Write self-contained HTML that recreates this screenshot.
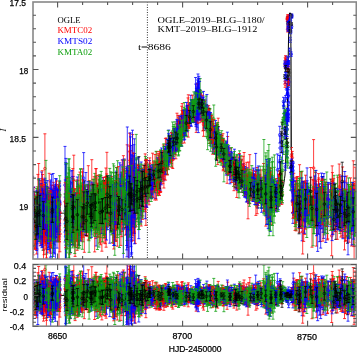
<!DOCTYPE html>
<html><head><meta charset="utf-8"><style>
html,body{margin:0;padding:0;background:#fff;width:357px;height:352px;overflow:hidden;font-family:"Liberation Sans",sans-serif}
svg{display:block;will-change:transform}
</style></head><body><svg width="357" height="352" viewBox="0 0 357 352"><defs><clipPath id="cm"><rect x="33" y="2" width="323.3" height="257"/></clipPath><clipPath id="cr"><rect x="33" y="264.5" width="323.3" height="61.7"/></clipPath><marker id="hK" markerUnits="userSpaceOnUse" overflow="visible"><path d="M-1.5 0h3" stroke="#000000" stroke-width=".8"/></marker><marker id="cK" markerUnits="userSpaceOnUse" overflow="visible"><circle r="1.3" fill="none" stroke="#000000" stroke-width=".7"/></marker><marker id="hR" markerUnits="userSpaceOnUse" overflow="visible"><path d="M-1.5 0h3" stroke="#ff0000" stroke-width=".8"/></marker><marker id="cR" markerUnits="userSpaceOnUse" overflow="visible"><circle r="1.3" fill="none" stroke="#ff0000" stroke-width=".7"/></marker><marker id="hB" markerUnits="userSpaceOnUse" overflow="visible"><path d="M-1.5 0h3" stroke="#0000ff" stroke-width=".8"/></marker><marker id="cB" markerUnits="userSpaceOnUse" overflow="visible"><circle r="1.3" fill="none" stroke="#0000ff" stroke-width=".7"/></marker><marker id="hG" markerUnits="userSpaceOnUse" overflow="visible"><path d="M-1.5 0h3" stroke="#10a010" stroke-width=".8"/></marker><marker id="cG" markerUnits="userSpaceOnUse" overflow="visible"><circle r="1.3" fill="none" stroke="#10a010" stroke-width=".7"/></marker></defs><line x1="147.4" y1="2" x2="147.4" y2="259" stroke="#000" stroke-width=".8" stroke-dasharray="1 1.5"/><path clip-path="url(#cm)" d="M33 214.5L33.5 214.5L34 214.5L34.5 214.4L35 214.4L35.5 214.4L36 214.4L36.5 214.4L37 214.4L37.5 214.3L38 214.3L38.5 214.3L39 214.3L39.5 214.3L40 214.2L40.5 214.2L41 214.2L41.5 214.2L42 214.2L42.5 214.1L43 214.1L43.5 214.1L44 214.1L44.5 214.1L45 214.1L45.5 214L46 214L46.5 214L47 214L47.5 214L48 213.9L48.5 213.9L49 213.9L49.5 213.9L50 213.9L50.5 213.9L51 213.8L51.5 213.8L52 213.8L52.5 213.8L53 213.8L53.5 213.7L54 213.7L54.5 213.7L55 213.7L55.5 213.7L56 213.6L56.5 213.6L57 213.6L57.5 213.6L58 213.6L58.5 213.6L59 213.5L59.5 213.5L60 213.5L60.5 213.4L61 213.4L61.5 213.3L62 213.3L62.5 213.2L63 213.2L63.5 213.2L64 213.1L64.5 213.1L65 213L65.5 212.9L66 212.9L66.5 212.8L67 212.8L67.5 212.8L68 212.7L68.5 212.7L69 212.6L69.5 212.6L70 212.5L70.5 212.4L71 212.4L71.5 212.3L72 212.3L72.5 212.2L73 212.2L73.5 212.2L74 212.1L74.5 212.1L75 212L75.5 211.9L76 211.9L76.5 211.8L77 211.8L77.5 211.8L78 211.7L78.5 211.7L79 211.6L79.5 211.6L80 211.5L80.5 211.4L81 211.4L81.5 211.3L82 211.3L82.5 211.2L83 211.2L83.5 211.2L84 211.1L84.5 211.1L85 211L85.5 210.9L86 210.9L86.5 210.8L87 210.8L87.5 210.8L88 210.7L88.5 210.7L89 210.6L89.5 210.6L90 210.5L90.5 210.4L91 210.3L91.5 210.2L92 210.1L92.5 209.9L93 209.8L93.5 209.7L94 209.6L94.5 209.5L95 209.4L95.5 209.3L96 209.2L96.5 209.1L97 208.9L97.5 208.8L98 208.7L98.5 208.6L99 208.5L99.5 208.4L100 208.3L100.5 208.2L101 208.1L101.5 207.9L102 207.8L102.5 207.7L103 207.6L103.5 207.5L104 207.4L104.5 207.3L105 207.2L105.5 207.1L106 206.9L106.5 206.8L107 206.7L107.5 206.6L108 206.5L108.5 206.3L109 206.1L109.5 205.9L110 205.7L110.5 205.5L111 205.3L111.5 205.1L112 204.9L112.5 204.7L113 204.5L113.5 204.3L114 204.1L114.5 203.9L115 203.8L115.5 203.6L116 203.4L116.5 203.2L117 203L117.5 202.8L118 202.6L118.5 202.4L119 202.2L119.5 202L120 201.8L120.5 201.6L121 201.4L121.5 201.2L122 201L122.5 200.8L123 200.5L123.5 200.3L124 200L124.5 199.8L125 199.5L125.5 199.3L126 199.1L126.5 198.8L127 198.6L127.5 198.3L128 198.1L128.5 197.8L129 197.6L129.5 197.4L130 197.1L130.5 196.9L131 196.6L131.5 196.4L132 196.2L132.5 195.9L133 195.7L133.5 195.4L134 195.2L134.5 194.9L135 194.7L135.5 194.3L136 193.9L136.5 193.5L137 193.2L137.5 192.8L138 192.4L138.5 192L139 191.6L139.5 191.2L140 190.8L140.5 190.5L141 190.1L141.5 189.7L142 189.3L142.5 188.9L143 188.5L143.5 188.2L144 187.8L144.5 187.4L145 187L145.5 186.5L146 186L146.5 185.5L147 184.9L147.5 184.4L148 183.9L148.5 183.4L149 182.9L149.5 182.4L150 181.8L150.5 181.3L151 180.8L151.5 180.3L152 179.8L152.5 179.3L153 178.8L153.5 178.2L154 177.7L154.5 177.2L155 176.7L155.5 175.9L156 175L156.5 174.2L157 173.4L157.5 172.5L158 171.7L158.5 170.9L159 170L159.5 169.2L160 168.3L160.5 167.5L161 166.7L161.5 165.8L162 165L162.5 164.2L163 163.3L163.5 162.5L164 161.7L164.5 160.8L165 160L165.5 159L166 158L166.5 157L167 156L167.5 155L168 154L168.5 153L169 152L169.5 151L170 150L170.5 149L171 148L171.5 147L172 146L172.5 145L173 144L173.5 143.1L174 142.3L174.5 141.4L175 140.6L175.5 139.7L176 138.9L176.5 138L177 137.1L177.5 136.3L178 135.4L178.5 134.6L179 133.7L179.5 132.9L180 132L180.5 131.1L181 130.2L181.5 129.2L182 128.3L182.5 127.4L183 126.5L183.5 125.6L184 124.7L184.5 123.8L185 122.8L185.5 121.9L186 121L186.5 120.1L187 119.2L187.5 118.2L188 117.3L188.5 116.4L189 115.5L189.5 114.6L190 113.7L190.5 112.8L191 111.8L191.5 110.9L192 110L192.5 109.3L193 108.6L193.5 107.9L194 107.2L194.5 106.6L195 105.9L195.5 105.2L196 104.5L196.5 104.3L197 104.2L197.5 104L198 103.8L198.5 103.7L199 103.5L199.5 104.2L200 104.9L200.5 105.6L201 106.2L201.5 106.9L202 107.6L202.5 108.3L203 109L203.5 110.4L204 111.7L204.5 113.1L205 114.4L205.5 115.8L206 117.1L206.5 118.5L207 119.9L207.5 121.2L208 122.6L208.5 123.9L209 125.3L209.5 126.6L210 128L210.5 128.9L211 129.8L211.5 130.7L212 131.6L212.5 132.5L213 133.4L213.5 134.3L214 135.2L214.5 136.1L215 137L215.5 137.9L216 138.8L216.5 139.7L217 140.6L217.5 141.5L218 142.4L218.5 143.3L219 144.2L219.5 145.1L220 146L220.5 146.9L221 147.8L221.5 148.7L222 149.6L222.5 150.5L223 151.4L223.5 152.3L224 153.2L224.5 154.1L225 155L225.5 155.9L226 156.8L226.5 157.7L227 158.6L227.5 159.5L228 160.4L228.5 161.3L229 162.2L229.5 163.1L230 164L230.5 164.5L231 165.1L231.5 165.6L232 166.2L232.5 166.7L233 167.3L233.5 167.8L234 168.4L234.5 168.9L235 169.5L235.5 170L236 170.5L236.5 171.1L237 171.6L237.5 172.2L238 172.7L238.5 173.3L239 173.8L239.5 174.4L240 174.9L240.5 175.5L241 176L241.5 176.6L242 177.1L242.5 177.7L243 178.2L243.5 178.8L244 179.3L244.5 179.9L245 180.4L245.5 181L246 181.6L246.5 182.1L247 182.7L247.5 183.2L248 183.8L248.5 184.3L249 184.9L249.5 185.4L250 186L250.5 186.3L251 186.6L251.5 186.8L252 187.1L252.5 187.4L253 187.7L253.5 187.9L254 188.2L254.5 188.5L255 188.8L255.5 189L256 189.3L256.5 189.6L257 189.9L257.5 190.1L258 190.4L258.5 190.7L259 191L259.5 191.2L260 191.5L260.5 191.8L261 191.9L261.5 192.1L262 192.2L262.5 192.3L263 192.5L263.5 192.6L264 192.7L264.5 192.9L265 193L265.5 193.1L266 193.3L266.5 193.4L267 193.5L267.5 193.7L268 193.8L268.5 193.9L269 194.1L269.5 194.2L270 194.1L270.5 194.1L271 194L271.5 194L272 193.9L272.5 193.8L273 193.8L273.5 193.7L274 193.6L274.5 193.6L275 193.5L275.5 193.5L276 193.4L276.5 193.2L277 192.9L277.5 192.7L278 192.4L278.5 192.2L279 192L279.5 191.7L280 191.5L280.5 191.2L281 191L281.5 190L282 189L282.5 188L283 187L283.5 186L284 182.3L284.5 178.7L285 175L285.5 163.3L286 151.7L286.5 140L287 120L287.5 100L288 70L288.5 40L289 23.1L289.5 13L290 13L290.5 13L291 60L291.5 160L292 185L292.5 200.5L293 201.6L293.5 202.8L294 204L294.5 204.1L295 204.1L295.5 204.2L296 204.2L296.5 204.3L297 204.3L297.5 204.4L298 204.5L298.5 204.5L299 204.6L299.5 204.6L300 204.7L300.5 204.8L301 204.8L301.5 204.9L302 204.9L302.5 205L303 205L303.5 205.1L304 205.2L304.5 205.2L305 205.3L305.5 205.3L306 205.4L306.5 205.4L307 205.5L307.5 205.6L308 205.6L308.5 205.7L309 205.7L309.5 205.8L310 205.8L310.5 205.9L311 206L311.5 206L312 206.1L312.5 206.1L313 206.2L313.5 206.2L314 206.3L314.5 206.4L315 206.4L315.5 206.5L316 206.5L316.5 206.6L317 206.7L317.5 206.7L318 206.8L318.5 206.8L319 206.9L319.5 206.9L320 207L320.5 207L321 207.1L321.5 207.1L322 207.2L322.5 207.2L323 207.2L323.5 207.3L324 207.3L324.5 207.4L325 207.4L325.5 207.4L326 207.5L326.5 207.5L327 207.6L327.5 207.6L328 207.6L328.5 207.7L329 207.7L329.5 207.8L330 207.8L330.5 207.9L331 207.9L331.5 207.9L332 208L332.5 208L333 208.1L333.5 208.1L334 208.1L334.5 208.2L335 208.2L335.5 208.3L336 208.3L336.5 208.3L337 208.4L337.5 208.4L338 208.5L338.5 208.5L339 208.5L339.5 208.6L340 208.6L340.5 208.7L341 208.7L341.5 208.7L342 208.8L342.5 208.8L343 208.9L343.5 208.9L344 208.9L344.5 209L345 209L345.5 209.1L346 209.1L346.5 209.1L347 209.2L347.5 209.2L348 209.3L348.5 209.3L349 209.4L349.5 209.4L350 209.4L350.5 209.5L351 209.5L351.5 209.6L352 209.6L352.5 209.6L353 209.7L353.5 209.7L354 209.8L354.5 209.8L355 209.8L355.5 209.9L356 209.9" fill="none" stroke="#000" stroke-width="1"/><g clip-path="url(#cm)" fill="none" stroke-width=".75"><path stroke="#ff0000" d="M320.7 202.5v39m16.1-41.2v25.4m-296.4-45.1v55.8m25.5-32.5v43.7m212.8-73.6v21.1m-231.2 1v45.4m122.7-104.5v16m-42.7 18.7v42.2m167.5-32.5v49m42.8-53.2v46.5m-214.6-34.5v38.7m66.4-118.7v17.3m-27.9 37.5v10.6m68.1-16.5v14m-69.1-4.4v23.8m-115.6 13.4v29.5m171.4-98v21.4m-156.9 39.3v44.8m163.3-94.3v18.2m130.9 36.1v44.7m-71.7-75v22.4m-209.5-15.4v45.7m57.6-54v34.4m-8.4-23.8v27.5m16.9-30.2v36.5m87.2-69.2v26m-170.1 36.6v21.2m231.8-201.9v4.6m-154.7 154.5v48.8m-54.3-41.7v35.9m266.1-48.4v46.6m-268.5-34.7v33.4m278.4-41.2v38.3m-113.6-61.9v19.7m-84.2-29.7v21.5m-35.5-.7v44.7m178.3-52.4v42.3m-79.2-70.3v20.4m-66.5 11.6v18.7m113.7-8.5v19.7m2.7-11.8v17.2m-82.1-91.6v24.7m-31.8 25.5v24.4m-13.7-5.1v37.5m2.5-65.5v36m14.3-22v24.8m-104.1 9.2v35.7m103.5-63.1v20.6m-11.2-34.6v23.8m196.8 27.4v38.2m-126.5-111.7v13.6m-68.7 22.5v20.5m107.8-27.3v23.4m-26.2-42.9v22.8m100.8 45.2v39.7m-3.3-71.2v31.8m-208.2-32v34.8m-22.9-29.4v39.1m-23-39.5v53.9m222.8-59.1v28m-137.6-49.6v32.9m-61.5-8.2v31.6m-27.6-18.9v44.6m59.2-111.3v81.3m138.1-25.4v16.7m-225-2.2v31.1m73.6-43.5v36.6m154.9-29.8v26.8m-125.3-36v36.6m202.6-22.5v30.2m-79.2-54.1v23.6m78.9-13.3v38.6m-237.5-35.7v36.5m18.7-82.7v59.8m210.3-31v39.9m-.5-50.7v46m-224.9-15.1v27.9m67.8-112.3v19.2m-122.2 64.9v35.3m34.2-53.2v46m173.9-34.9v23.9m-49.8-93.5v23.5m58.1 36.8v19.4m-13.4-12.1v19m17.5-31v17.9m-237.8-17.2v45.2m90-85.1v71.3m57.7-103.3v9.2m-60.8 48.5v44.4m148-21.1v20.8m-136.3-20.3v41.9m89.2-71.7v25.3m-142.1-13.9v39.6m152.6-40.9v20.5m-2-20.1v15.1m-116.7-19.9v71.6m-84-22.9v33.2m191.6-84.3v14.6m-109.1 10.3v40.3m227.6-38.3v46m-149.5-128.6v17.4m-3.9-16.8v14.6m-108 74.9v44.3m161.7-58.5v17.2m83.8-13.5v43.8m-16.4-45.1v45.2m38.6-24.8v35.1m-123.7-76.5v17.5m-164.2 15.5v37.3m149.8-106.3v26.7m-107 28.1v35.4m158-33.4v22.3m-232.4 7.7v37.9m128.5-91.6v22.8m192.4 17.1v30.2m-260.1-13.3v25.3m92.7-127v16.4m123.4 68.6v50.8m-89.1-113.5v17.9m-25.1-56v15.2m59.3 79.1v17.3m-138.2-24.8v37.3m38.1-55.7v15.8m-34.9-4.9v47.1m-79.8-18.7v26.1m39.9-43.4v48.8m105.8-129.3v21.4m32.6 7.6v27.2m-116.3 38.7v33.3m9.5-44.2v59.5m-47.9-68v39.6m70.4-56.4v39.9m45.4-97.9v22.4m-50.9 22.1v54.2m196.7-9.6v44.6m-272.5-53.6v49.1m157.6-103.9v22.7m-81.3 6.3v38m105.7-29.9v16.3m-139.5-1.7v35.6m-54-39.3v60.3m289.6-34.4v28.5m-24.4-37.6v28.6m-12.5-46.9v52.9m-30.4-34.5v29.7m27.7-41.3v30.1m-159.5-49.6v36.9m136.7-17.8v16.3m-108.2-39.3v17.3m63-24.3v17.3m-68.5-6.6v18.8m-114.1 5.3v31.3m288.5-28.7v37.7m-45.4-169.3v7.6m-35.7 107.4v17m-89.7-21.3v21.6m-75.8 8.4v27m60.4-53.1v27.3m-19.8-19.4v52.4m5.7-63.2v39.4m-81.5-5.7v45.3m179.1-94.4v12.9m-98.3-1.7v50.3m-30.9-34.7v59.7m36.6-61.7v45.4m-11.7-55.5v41.2m40.2-63.9v20.4m-86.1 24v33.6m20.4-51.5v37.6m154-38.1v21.1m54.8-8.6v34.9m-42.1-45.7v17.2m-116.5-14.7v26.1m143.6-12.8v20.5m-140.1-59.3v33.1m27.6-66.9v21.7m39.7-5.1v20.4m28.8 5.6v30.1m-95.8-20.8v18.7m161.1 14.3v23.5m-93.9-91.9v17.3m-124.5 41.8v31.6m36-40.7v55.3m126.8-60.7v22.2m-105.8-29.9v15.7m-39.2-3.8v38m203-17v40.4m1.3-48.4v35.7m-61.7-57.9v20.7m-106.6-26.1v17.7m-109.9 7.1v42.3m222-52.2v18m-30.1-46.4v25.9m-81.7-15.8v17.8m113.9-21v28.2m64.1 13.8v33.4m-152.6-107.6v23.1m135.6 13.1v48m-167.9-32.4v22.2m97.1-48.9v23m22.2 3.6v21.5m92.1-15.5v26.3m1-33.7v40.8m-303.7-37.3v63.1m32.8-47.5v51.6m189.7-61.5v15m-61-75.9v18.8m-16.8-42.7v26.4m155 55.6v27.7m-155-114.2v20m-18.6 10.9v16.2m-91.2 42.6v29m-5.4-13.3v21.7m-31.2-32.1v37.3m22.9-57.3v61.6m-35.6-33.9v21.6m268.3-44.9v26.9m-122.6-96.6v21.9m1.5-9.7v19.6m-130.2 44.8v38m38.6-41.4v30.5m261.3-16.5v31.2m-185.5-76.4v15.9m.3-19.8v17.5m-38.6 9.5v46.9m-1.5-51.2v49.8m-21-43.5v36.9m55.7-70.3v18m-13.1 9.2v25.2m-30-12.3v41.9m155.6-37v21m-9.6-19.2v22.2m-115.2-37.9v20.1m-55.8-.1v28.2m115.1-110.8v23.3m-151.2 66.6v38.2m140.3-151.7v18.7m-28.3 27.2v21.1m97.7 26.7v15.6m-118.2-27.3v26m70.4-58.3v14.9m-176.2-20.6v69.6m220.8-33.7v24.1m59-2.7v26.8m21.9-41.9v48.2m-207.1-54.1v28.8m201.1-22.2v53.7m-25.1-58v33.7m-271.4 4v44.6m10.1-64.9v26.5m215.3-31.1v18.4m-116.1-35.1v19.6m127.1-8.4v11.8m-9.8-23v25.9m-85.7-84v13.9m-77.6 63.9v30.2m-34.6-17.4v38.9m174.6-65.3v21.3m31.3-20v30.7m-210.8-13.4v51.4m39-92.3v48.2m115.5-57.7v14.5m-87.1 37.1v49m215.2-65.5v32.1m-272.5-29.4v40.3m106.1-103.7v12.7m-111.3 38.7v47.1m160.9-56.4v22.6m15.1-2.4v17.1m16.4-23.6v23.7m-129.4-16.5v29.3m122.2-29.3v25.3m-171.6-8.6v28.6m30.1-58v62m-48.2-39.7v47m174.8-80.5v18.3m-171.1 16.9v52.9m29.2-44.3v33.1m148.6-78.6v37.4m-102.9-10.3v20.5m-76.5-19.2v50m128.2-133.1v11.6m-111 75.5v33.9m176.4-35.8v21.1m-97.8-68.2v23.6m34.5-58.2v11.2m-27.9 24.5v29.4m176.3 39.2v34.5m-248.6-30.1v32.7m257.3-55.3v22.9m-274.1-24.9v30.4m103-107.3v15.9" marker-start="url(#hR)" marker-mid="url(#hR)" marker-end="url(#hR)"/><path d="M320.7 222m16.1-9m-296.4-4.5m25.5 17.2m212.8-41.2m-231.2 34.3m122.7-73.8m-42.7 47.8m167.5 13.1m42.8-5.5m-214.6 8.1m66.4-90.7m-27.9 51.5m68.1-4.2m-69.1 14.5m-115.6 40.1m171.4-72.6m-156.9 72.4m163.3-62.8m130.9 67.6m-71.7-41.5m-209.5 18.7m57.6-14m-8.4 7.1m16.9 1.8m87.2-37.9m-170.1 60.2m231.8-189m-154.7 181.2m-54.3 .6m266.1-7.1m-268.5 5.3m278.4-5.4m-113.6-32.8m-84.2-9.1m-35.5 32.3m178.3-8.8m-79.2-39.1m-66.5 31.2m113.7 10.8m2.7 6.6m-82.1-70.6m-31.8 50m-13.7 25.8m2.5-28.7m14.3 8.4m-104.1 39.4m103.5-34.9m-11.2-12.4m196.8 58.4m-126.5-85.8m-68.7 39.6m107.8-5.4m-26.2-19.8m100.8 76.4m-3.3-35.4m-208.2 1.3m-22.9 7.5m-23 7m222.8-18.1m-137.6-19.1m-61.5 24m-27.6 19.2m59.2-48.4m138.1 23.6m-225 21.7m73.6-9.7m154.9 2m-125.3-4.3m202.6 10.9m-79.2-27.2m78.9 17.8m-237.5 1.9m18.7-34.6m210.3 18.8m-.5-7.7m-224.9 21.8m67.8-88.8m-122.2 92.2m34.2-12.5m173.9 0m-49.8-69.8m58.1 58.3m-13.4 7.1m17.5-12.5m-237.8 14.3m90-26.9m57.7-63m-60.8 75.3m148 11.5m-136.3 11.1m89.2-38.1m-142.1 18.5m152.6-10.9m-2-2.2m-116.7 23.4m-84 29.5m191.6-60.4m-109.1 37.8m227.6 4.8m-149.5-96.9m-3.9-.8m-108 104.4m161.7-27.9m83.8 17.2m-16.4-.7m38.6 15.3m-123.7-50.1m-164.2 42.8m149.8-74.2m-107 59m158-4.5m-232.4 37.8m128.5-61.2m192.4 43.6m-260.1 14.5m92.7-106.3m123.4 102.3m-89.1-79.2m-25.1-39.4m59.3 95.3m-138.2 2.5m38.1-29.1m-34.9 26.6m-79.8 17.9m39.9-6m105.8-94.2m32.6 31.9m-116.3 69m9.5 2.2m-47.9-18.5m70.4-16.6m45.4-66.8m-50.9 60.4m196.7 39.8m-272.5-6.7m157.6-68.1m-81.3 36.7m105.7-2.8m-139.5 24.3m-54 8.7m289.6 9.9m-24.4-9m-12.5-6.2m-30.4 6.9m27.7-11.4m-159.5-16.2m136.7 8.8m-108.2-22.5m63-7m-68.5 11.5m-114.1 30.4m288.5 5.8m-45.4-146.7m-35.7 119.7m-89.7-2m-75.8 32.7m60.4-25.9m-19.8 20.4m5.7-17.3m-81.5 36.7m179.1-65.4m-98.3 30m-30.9 20.3m36.6-9.2m-11.7-12.2m40.2-33.1m-86.1 51m20.4-15.9m154-8.8m54.8 19.5m-42.1-19.7m-116.5 7m143.6 10.5m-140.1-32.5m27.6-39.5m39.7 15.9m28.8 30.9m-95.8 3.5m161.1 35.5m-93.9-71.6m-124.5 66.3m36 2.8m126.8-22m-105.8-11m-39.2 23.1m203 22.2m1.3-10.4m-61.7-29.7m-106.6-6.8m-109.9 37.1m222-22.1m-30.1-24.5m-81.7 6.1m113.9 2m64.1 44.6m-152.6-79.3m135.6 48.6m-167.9 2.8m97.1-26.4m22.2 25.9m92.1 8.3m1-.1m-303.7 14.6m32.8 9.9m189.7-28.2m-61-59m-16.8-20.1m155 82.6m-155-90.3m-18.6 29m-91.2 65.2m-5.4 12.1m-31.2-2.6m22.9-8m-35.6 7.8m268.3-20.6m-122.6-72.3m1.5 11.1m-130.2 73.6m38.6-7.1m261.3 14.3m-185.5-52.8m.3-3.1m-38.6 41.6m-1.5-2.8m-21-.2m55.7-42.8m-13.1 30.8m-30 21.3m155.6-5.6m-9.6 2.4m-115.2-16.8m-55.8 24.1m115.1-85.1m-151.2 97.4m140.3-123.3m-28.3 47.2m97.7 45m-118.2-6.5m70.4-37.8m-176.2 21.6m220.8 13.2m59 22.7m21.9-4.4m-207.1-15.6m201.1 19.1m-25.1-14.3m-271.4 43.1m10.1-29.4m215.3-8.6m-116.1-16.1m127.1 7.3m-9.8-4.2m-85.7-64m-77.6 85.9m-34.6 17.1m174.6-35.2m31.3 6.1m-210.8 27.6m39-42.5m115.5-26.4m-87.1 68.9m215.2-24.9m-272.5 6.7m106.1-77.2m-111.3 68.7m160.9-21.6m15.1 17.5m16.4-3.3m-129.4 10.1m122.2-2m-171.6 18.3m30.1-12.7m-48.2 14.8m174.8-47.8m-171.1 52.5m29.2-1.4m148.6-43.3m-102.9 18.7m-76.5 16m128.2-102.3m-111 98.3m176.4-8.3m-97.8-45.9m34.5-40.8m-27.9 44.8m176.3 71.1m-248.6 3.6m257.3-27.5m-274.1 1.7m103-84.1" marker-start="url(#cR)" marker-mid="url(#cR)" marker-end="url(#cR)"/><path stroke="#0000ff" d="M278.3 181v28.7m-74.4-108.9v17.1m82.6-55.9v6.7m-152.2 103.8v51.5m-50.8-29.8v36.9m-36-28.1v30.7m-9.2-42.3v42.7m254.7-70.8v14.2m-156.6-19.3v29.2m-81.1-3.2v40.2m155.7-99.7v19m68.8-17.4v16.7m-81.8-69v34.8m-160.9 98.8v25.5m298.9-27.9v24m-204.5-42.5v69.6m-49.4-50.5v20.2m225.5-34.1v27.7m-249.4-28.5v46m73.4-63.5v33.9m117-25.5v21.3m31.5-19v15.9m-81.5-118.9v32.6m-12.3-3.5v14.7m1.2-14v14.6m121.7 76.9v24.5m-163.1-61.4v24.5m79-39.6v14.8m-85.5 12v28.5m-8.7-47.2v75.7m189.5-45.2v28.5m-273.7-24.2v28.6m-13.3-34.6v33.3m26.2-36.9v34.4m264.4-33.7v48m-36.5-116.1v8.8m-1-41.7v11.4m-89.4 .5v10.8m123.7 84.1v34.9m-193.2-47.1v69.4m129.4-77v21m-75.8-65.9v16.1m122.1 39.5v32.5m-173.6-29v89.3m98.1-124.8v17m-174.8 36.8v33.3m93.2-60.5v21.2m144.5-171.9v6m-80.1 89.8v17.3m-1.9-22.3v19.9m105.2 63.9v24.8m-259.9-31.8v29.6m67.2-46.6v36.8m13.2-73.8v70.8m183.7-16.8v24.3m-119.8-119.2v34.7m-39.7 33.3v15.1m123.9-40.3v22.9m-154.5 18.3v55.2m62.8-125.8v14.4m-59.1 60.8v66.3m-2.6-72.1v33m84.7-81.4v17.4m-174.8 30.4v58.5m30.4-46.3v26m61.6-31.1v20.8m1.4-22.7v27.3m168.9-19v34.9m-159.1-41.9v25.3m-39.2-21.8v26.4m100.5-119.3v25.3m-153.1 77.9v33.5m255.7-44.5v25.1m-16-188.1v4.4m-245.6 167.8v39.1m202.6-70v33.9m-113.2-56.9v75.1m-102.7-24.1v43.9m77.4-62v34.7m182.8-50.3v12m10.7 12v54.8m-46.1-59.6v10.2m-191-45v77.4m34.7-47.1v42.6m39.5-47.2v29.4m52.8-101.3v14.7m-30 40.5v14.5m-105.1 20.1v31.1m-9.9-11.9v34.3m226.1-62.7v17.6m-140.2-23.6v45.7m-8.8-61.6v57.6m-72.5-42.1v32.5m16.3-20.1v38.7m80.9-56.6v32.4m-39 1.2v40.7m64.1-112.9v19.1m-137.9 54.5v24.4m60.1-18.4v36.1m212.3-59.1v26.4m-43.6-27.4v15.7m-161.9-24v26.7m141.6-37.5v24.1m-194.3-9.1v39.2m78-55.4v55.1m-28.7-31.3v30.4m98.1-139.8v23.4m-132.5 93.7v44.9m56-68.1v45.7m-76.7-23.5v45.3m299.7-40.7v28.8m-148-132.7v27.7m-140.2 78.4v39m10.4-63.8v49.1m117.6-106.8v14.8m-146.7 79v29.6m159.7-146.7v32.9m-23.8 4.6v16.3m-132.1 51v34.3m5.3-42.3v32.3m33.9-31.5v23.6m19.5-32.1v33m-65.3-27.8v43m42.5-41.2v33.8m-44.6-12.1v28.4m145-116.7v22.3m-132.5 52.4v26.3m8.9-27.1v25.7m141.1-122.1v14.4m-153.4 79.9v33.5m130.2-99.5v25.9m-39.1-28.1v86.6m22.2-52.6v28.6m-115.4 10.5v26.2m157.3-138.1v25.6m-109.3 78.4v30.4m236.3-36.4v49m-34.9-125.1v6.8m-83.6-9.6v15m-49.3 45.4v13m-99.6 5v31.2m-6.9-23.6v29.8m85.1-41.2v37.8m58.3-115.6v9.3m20.5 14.8v20.7m-60.9 18.1v12.2m-17.9-19.1v70.1m127.2-46v24.9m-219.9-40.3v41m31.6-10v38.7m124.1-158.8v32.5m144.2 67.4v27m-189.4-40.6v13m139.6-167.5v3.4m-226.2 176.2v83.9m.2-84.7v73.4m290.4-67.7v34.9m-319.7-28.8v28.5m145.3-110.7v16.6m-125.3 39.2v34.7m180.9-39.6v16.5m-177.7-4.8v37.9m274.2-38.4v35.9m-180.7-49v25.8m127.3-20v26.1m11.5-33.2v8.7m-188 7.7v38.8m90.5-119.1v15.7m61.2 30.8v34.6m-9.9-9.4v19.2m-119.1-31.1v67.6m29.1-60.7v24.9m-24.7-53.1v73.1m68.8-128.8v21.7m91.7-86.3v3.1m-163.8 159.2v34.1m-14.2-27.3v51.2m91.7-135.6v9.1m-145.8 71.7v40.6m152-107.5v20.2m95.7 36.9v37.7m13.3-31.8v29.7m-169.1-40.4v22.2m116.3-33.9v43.3m-224.6-14.6v44.7m-7.8-40.1v32.2m92-58.8v60.1m97.4-84.8v18m-172.2 25.8v39.3m292.3-34.7v32.4m-296-36.2v45.3m-3.6-26.4v25.1m152.6-151.5v23.8m-147.1 72.8v44.8m21.7-40.8v35m118.4-123.7v18.7m-149 89.4v29.1m84.6-49.9v24.9m77.5-104.1v17.8m86.2-92v4.2m2.8 169.3v20.7m-88.4-118.1v13.3m-59.2 62.1v38m-106.2-22.2v31.2m120.9-60.5v14.9m84.5-12.3v23.5m52.3 5.5v18.1m-38.2-36.5v19.2m-213.3-1.3v37.3m76.7-48.2v23.6m-23.3-13.9v33.1m78.3-99.5v11.1m-106.9 65.9v34.2m65.6-75v35.5m154.6-165.1v5.1m-210.4 155.8v24m-14-57.6v97.6m91.1-97.1v13.8m41.4-100v30.7m-142.3 75v46.7m246.8-45.5v24.6m-257.1-12.1v46.9m195.4-79.2v16m-204.2 23.3v43.7m255.1-80.8v11.3m-38.4-6v17.8m35-95.7v14.7m46.5 100v21.1m-303.5-22.3v39.8m40.6-66.4v54.6m170-65.9v15.1m-199.6 15v39.5m137.2-115.9v15.1m-51.7 34.8v43.9m-74.1-16.6v28.2m208.8-41.7v15.8m25.6-89.5v6.9m5.2 66.3v27.3m-24.8-42.4v55.8m-115.1-58v12.4m-112.5 9.8v38.1m247.1-170.4v6m-138.3 112.1v9.7m-8.7-14.3v30.3m-5.2-28.4v31.9m25.5-55.3v22.6m128.9-123.4v4.5m66.7 153.1v31.2m-315.3-32.3v36.1m228.1-61.8v25.1m56.5-15.6v22.8m-57.2-54.9v52.9m-134.9-30.7v19.7m91.1-58.1v19.7m-38.9-57.5v14.5m-59.7 66.5v69.7m-26.3-74.4v36.9m221.2-42.7v30.9m0-14.2v35.4m-44.5-74.7v31.9m-139-28.3v38.7m185.5-22.7v41.8m-93.9-54.5v22.9m-45.5-62.9v14.6m-139.3 65.4v31.2m206.2-52.3v16.9m69.4-10.2v33.3m-194.2-51.5v56.1m73.7-120.9v16.9m-22.4 1.3v19.8m-31.8 22.2v43.1m-113.7-2.6v48.3m175.9-129.9v17.5m56.1 52.7v18.9m56.3-4.2v40.6m-189.8-44.2v42.8m-71.3-60v31.5m90-57.6v26.2m24.2-58.4v19.6m-136.8 42.1v42.4m-1.3-32.3v31.2m49.4-33.9v37.4m225.9-36.9v22.4m-112.7-132.4v28.2m119.4 80.1v55.1m-29-232.6v3.9m-72.2 109v11.4m-53 13.1v13.6m69.3-11.8v13.9m43.5 9.1v31m-8.3-39.5v28.8m-218.5-6.2v25.7m208.4-36.8v17.2m-85.2-68.2v18.9m-80.8 41v34m-18.7-47.2v41.3m-1-50.4v51.4m62.3-68.5v74.1m34.3-97.5v23.5m119.9-63.9v12.3m43.6 100.7v20.7" marker-start="url(#hB)" marker-mid="url(#hB)" marker-end="url(#hB)"/><path d="M278.3 195.4m-74.4-86m82.6-44.1m-152.2 133m-50.8 14.3m-36 5.8m-9.2-5.6m254.7-42.4m-156.6 2.4m-81.1 31.5m155.7-70.1m68.8 .5m-81.8-43.3m-160.9 129m298.9-3.2m-204.5 4.3m-49.4-5.6m225.5-10.1m-249.4 8.3m73.4-23.6m117 2.2m31.5-.4m-81.5-94.7m-12.3 20.1m1.2 .7m121.7 96.5m-163.1-36.9m79-20m-85.5 33.7m-8.7 4.9m189.5 6.9m-273.7 4.3m-13.3-3.7m26.2-3m264.4 7.5m-36.5-87.7m-1-31.6m-89.4 11.6m123.7 106.9m-193.2 5.1m129.4-31.8m-75.8-47.4m122.1 63.8m-173.6 32m98.1-71.7m-174.8 62m93.2-33.3m144.5-158.3m-80.1 101.4m-1.9-3.7m105.2 86.3m-259.9-4.7m67.2-13.3m13.2-20m183.7 30.7m-119.8-89.7m-39.7 58.2m123.9-21.2m-154.5 57.3m62.8-91m-59.1 101.2m-2.6-22.5m84.7-56.2m-174.8 68.3m30.4-4m61.6-7.7m1.4 1.3m168.9 12.1m-159.1-11.7m-39.2 4.1m100.5-93.5m-153.1 107.2m255.7-15.2m-16-173.3m-245.6 189.6m202.6-33.5m-113.2-2.4m-102.7 35.4m77.4-22.8m182.8-26.9m10.7 45.4m-46.1-27.1m-191-1.2m34.7 12.9m39.5-11.2m52.8-79.2m-30 55.1m-105.1 42.8m-9.9 20.8m226.1-36.7m-140.2 8.1m-8.8-10m-72.5 2.9m16.3 15.6m80.9-21.1m-39 37.8m64.1-83.1m-137.9 76.3m60.1 11.9m212.3-27.9m-43.6-6.4m-161.9-2.7m141.6-12.2m-194.3 22.6m78-8.3m-28.7 11.5m98.1-112.9m-132.5 127.9m56-22.9m-76.7 22.1m299.7-3.7m-148-104.5m-140.2 111.8m10.4-19.7m117.6-74.9m-146.7 101.3m159.7-115.5m-23.8 29.2m-132.1 76.3m5.3-9.1m33.9-3.5m19.5-3.8m-65.3 10.2m42.5-2.8m-44.6 19m145-91.4m-132.5 76.7m8.9-1.1m141.1-102.1m-153.4 103.9m130.2-69.7m-39.1 28.1m22.2 5m-115.4 37.9m157.3-112.2m-109.3 106.4m236.3 3.3m-34.9-97.1m-83.6 1.2m-49.3 59.4m-99.6 27.1m-6.9 6.9m85.1-7.4m58.3-92.1m20.5 29.8m-60.9 34.6m-17.9 22.1m127.2 1.4m-219.9-7.3m31.6 29.8m124.1-123.1m144.2 97.1m-189.4-20.6m139.6-159.4m-226.2 220m.2-6.1m290.4-13.6m-319.7 3m145.3-88.1m-125.3 64.7m180.9-14m-177.7 22.5m274.2-1.5m-180.7-18.2m127.3 6m11.5-15.9m-188 31.5m90.5-91.8m61.2 55.9m-9.9 17.5m-119.1 12.3m29.1-14.4m-24.7-4.1m68.8-81.4m91.7-74m-163.8 177.9m-14.2 15.3m91.7-105.4m-145.8 96.5m152-77.1m95.7 65.9m13.3 1.8m-169.1-14.4m116.3-1.2m-224.6 29.5m-7.8-1.7m92-12.6m97.4-45.8m-172.2 54.4m292.3 1.2m-296 2.7m-3.6 8.7m152.6-127m-147.1 107m21.7-.8m118.4-96.8m-149 113.2m84.6-22.9m77.5-82.7m86.2-81m2.8 181.7m-88.4-101.1m-59.2 87.8m-106.2 12.4m120.9-37.5m84.5 6.9m52.3 26.4m-38.2-17.9m-213.3 26.9m76.7-17.7m-23.3 14.4m78.3-77.4m-106.9 88.6m65.6-40.2m154.6-144.7m-210.4 170.3m-14 3.2m91.1-41.4m41.4-77.8m-142.3 113.7m246.8-9.8m-257.1 23.7m195.4-47.8m-204.2 53.1m255.1-53.2m-38.4 8.5m35-79.4m46.5 117.8m-303.5 8.2m40.6-19.2m170-31.1m-199.6 42.4m137.2-88.6m-51.7 64.2m-74.1 19.5m208.8-19.7m25.6-78.2m5.2 83.5m-24.8-.9m-115.1-23.9m-112.5 35.1m247.1-148.4m-138.3 120m-8.7 5.7m-5.2 2.7m25.5-28.1m128.9-109.9m66.7 171m-315.3 1.3m228.1-31.1m56.5 8.3m-57.2-17.1m-134.9 5.7m91.1-38.4m-38.9-40.5m-59.7 108.7m-26.3-21.2m221.2-8.8m0 19m-44.5-41.1m-139 7.1m185.5 17.5m-93.9-22.2m-45.5-44.1m-139.3 88.3m206.2-28.3m69.4 15m-194.2-6.9m73.7-84.4m-22.4 19.7m-31.8 53.6m-113.7 43.1m175.9-97m56.1 71m56.3 25.5m-189.8-2.5m-71.3-22.9m90-28.7m24.2-35.4m-136.8 73m-1.3 4.5m49.4 .4m225.9-7m-112.7-107.1m119.4 121.7m-29-203m-72.2 116.6m-53 25.6m69.3 2m43.5 31.5m-8.3-9.6m-218.5 21m208.4-15.3m-85.2-50.1m-80.8 67.4m-18.7-9.5m-1-4.1m62.3-5.8m34.3-48.7m119.9-46m43.6 117.2" marker-start="url(#cB)" marker-mid="url(#cB)" marker-end="url(#cB)"/><path stroke="#10a010" d="M110.1 186.5v35.5m94.7-115.5v19m2.9-13.1v17.4m-44.3 25v19.2m130.7 15.2v23.6m-142.8-40.4v19.6m-18.1-8.7v35.3m9.8-40.4v29.1m24-55.8v22.5m-75.4 15.2v25.1m78.7-77.6v18.4m1.6-13.7v14.7m-137.1 44.6v35.2m235.7-62.1v38.9m-129.7-29.6v41m-47.4-32.7v29m173.6-29.4v13.9m-183.9-13.9v50.8m73.5-77.7v13.4m-24.9-18.5v47m-21.1-27.2v39.9m-42.5-45.7v55.7m234-33.9v30.6m-236-22.1v21.1m205.5-39.8v20.1m-75.7-110.6v13.6m112 91.6v28.5m-157-48.2v9.5m-76.2 5.2v21.2m165.1-53.9v27.6m17.9-6.4v13.8m-161.9 5.9v26m125.3-82.3v19m36.2 15.7v20.2m-142-20.4v42.7m201.3-26.2v25.7m-212.4-42.8v27.8m-38.6-45v77.4m211.4-54.7v20.1m-27.8-32.7v14.2m60.2 .4v25.9m-64.6-44.6v17.7m29.6-7.1v18.4m-186.8-13.4v30.2m169.4-32v21.5m46-7.8v23.3m22-40.4v29.1m-278.7-1.7v47.4m207.4-70.5v13.7m-141.2-4.2v49.3m15.3-54.8v52.9m-49.1-32.6v27.6m74.7-69.7v22.1m-80.2 4v52.5m184.2-75v20m-81.2-60.5v15.2m-47.4 40.9v26.9m144-25.7v22.6m-114.4-53.7v22.9m-48.9 15.5v29.8m172.9-36.6v16.2m-113.8-66.9v16m65.4 7.1v12.9m-50.6-49.9v11.1m-82.5 42.3v43.2m123.6-75.7v16.8m75 30.2v22.7m-229.9-12.6v37.7m-34.1-39.2v45.5m82.7-69.4v22.9m159.7-15v16.7m-95.1-77.7v9.3m-100.8 45v51m78.2-75.1v21.9m42.4-71.6v11.6m-133.3 56v63.7m113.5-107.2v9.9m39.7 9.3v10.1m28.5 22.8v19.4m-47.4-90.6v23.4m-133.5 46.9v50.9m31.1-56.9v44.4m94.3-112.9v14.6m70.7 61.4v19.6m-150.9-.7v31.3m1.2-38.8v33.1m32.2-59.3v32.5m28.8-69.4v23.2m-40.3 23.8v28.5m33.8-63.2v21.5m-61.6 26.9v27.7m154.8-46.2v45.6m-197.5-31v57.7m194.3-57.2v18.7m-192.2 10.9v43.7m248.6-72.8v27.6m-111.6-107.3v19.3m-127.3 59.5v35.3m169.2-39.3v20.8m-166.8-5.5v27.4m129.8-101v11.6m146.6 65.5v23.7m-201.2-71.3v22.8m129.4-64.7v7.4m-75.7-8.3v25.9m-48.7 26.5v16.2m-24.2 .7v29m121.8-20.7v17.2m-170.6-9.2v25.6m68.5-49.6v11.3m154.3 13.7v24m-99.1-100.1v23.3m-114.5 45.1v37.5m35.7-35.1v27.9m212.7-13v33.2m-58.8-90.7v7.2m9.1 43.3v32.2m-190.3-38.2v29.3m121.3-66.1v11.6m7.7-9.3v16.1m-110.1 13.9v23.2m10.7-13.2v29.9m-49.5-33.4v33.1m92.9-109v22.8m39.1-14.4v20.3m89 48.7v26.8m-9-38.6v30.3m-186.5-41v62.2m131.1-67.4v17.4m36.8 .3v20.1m-200.9 6.5v32.7m-7.8-49.2v28.1m215.7-81.5v9.6m-194.9 46.7v17.3m119.5-89v16.7m49.4 23v26.1m9.2-7.2v12.4m65.9-10v41m-102.7-71.7v15.7m41.8 11.7v15.3m-147.3-2.5v43.5m-6.1-63.7v29.7m159.6-15.8v12.2m-198.3 9.2v37.2m87.2-104.1v10.1m10.2-31.2v10.5m80.9 50.9v14.2m-85.2-70.3v12.1m91.8 38.2v44.1m70.3-33.5v28m-164-83.4v13.8m-42.6 18v51.6m188.5-34.5v34.7m-105.9-93.2v19.5m59.1 36.7v15.9m45.4-2v20.9m-190.8-23.1v21.1m-24.8-33v27.3m133-43.4v13.3m-143.5 17.7v38m-16.9-33.7v44.6m190.9-92.3v62.9m-173-28.6v24.5m67.5-46.8v11.4m-65.6 20.7v21.7m157-53v24.2m-81.2-43.9v16.1m-43.9 22.8v25.1m49.8-81.6v19.2m-52.5 29v34m-25.1-13.6v29.1m238.7-50.8v32.2m-246.5-16.3v40.8m44.4-43.9v37.3m151.5-72.5v9m-27.5 23v15.5m-125.1-12v20.4m38.4-71.9v16.8m109.4 33.9v15.2m-133.6-36.5v19.3m-65.3 15.5v20.1m24.2-34.5v40.6m68.2-89.5v17.3m80.8 28.3v22.7m-123.1-29.7v25.4m-81-4.5v41.1m7.3-62.6v40.1m227.7-61.8v8.5m28.1 36.7v22.2m-220.9-34.1v25.7m62-48.3v25.5m14.9-49.4v15.9m90.3 30v16.8m-228.1 9.2v36m153.7-137.6v12.2m-149.4 74.9v40.7m277.7-42.4v30.5m-7.1-27.4v22.3m-240.2-24.1v30.1m222.1-47.9v10.2m52.3 4.1v29.3m-127.7-94.6v18.8m-83.6 37.9v27.2m80.9-85.6v20.5m49.3 40v20.5m59.9-28.2v43.8m-108.4-100.3v19.2m-4.2-22.4v23.1m-79.8 31.5v45.7m122.8-48.3v22.7m-146.8 5.3v27.5m162-39.3v13.8m-134.5-21v28.2m103.9-42.2v16m-12.2-35.6v15.6m1.8-18v19.7m67.3 27.2v22.4m-219.3-10.3v27.3m164.2-66.3v27.3m-95.5-16v39.2m-55.2-11.9v23.7m236.6-28v26m-13.6-24.5v26.3m-217.1-35.1v24.1m14.7-38.5v34.7m2.4-12.2v32.2m-14-43.2v27.1m155.3-42v16.7m-156.8 6.1v21.6m114.7-109.9v20.9m45.6 52.8v15.4m-204.6 7.1v34.5m244.2-42v28.7m44.9-25.9v32.9m-201.2-50.1v39.4m106-40.4v11.1m-24.9-50.8v19.5m-69.9 9.1v14.1m25-54v13.9m-78.8 53.3v23m36.3-37.2v23.7m21.1-42.7v15.5m85.3-17.5v24.6m-128.2-5.9v30.7m46.3-48.3v18.3m3.9-21v17.4m-66.1-5.8v38.7m93.1-93.1v11.4m163.4 51.9v39.3m-213.9-37.7v29.2m141.6-35.1v13.8m-198.2 12.2v21.9m259.1-23.2v28.4m-159.8-104.5v19.7m-40.7 19.4v25.6m-66.1 5.4v36.5m184.3-45.6v20.3m-154.1-26.7v34.7m-53-19.4v38.7m135.8-125.8v16.1m-43.3 53.3v31.9m74.6-86.1v22.3m-163 62.2v35.8m292.5-48.3v24m-16.8-18.4v28.2m-64.4-74.4v53m-217.1-12v31.9m129.7-95.5v22.5m8-47.3v16.2m162.6 79.6v29m-144.3-128.9v22.1m28.7 41.5v18.3m-17.3-53.5v14.5m-148.8 59.9v33.5m200-74.9v38.5m-16.9-22.1v16.9m-48.4-96.5v14m-49.9 65.4v11.5m-72.7 1.2v40.4m132.3-109.6v9.7m37.3 36.6v17.3m-124.5 5v29.9m145.8-43.3v22.7m-79.7-97v13.9m-59.4 65.1v27.6m-48.2-10.8v23.1m-9.5-20.2v34.1m189.9-48.1v11.5m-155.5-22.6v43.9m138.9-55.1v18.7m-148.9 12.1v37.2m119.2-102.6v10.4m-123.4 50.9v21.5m53.2-40.6v21.3m-12.9-3v31.6m-60-22.7v26m19.6-44.3v32.9m15.9-35.8v33.9m151.4-29.2v16.1m-182.3-28.6v43.8m122.7-115.6v10.5m-27.4 11.2v16.7m-86 62.5v17.4m183.6-46.3v46.9m30.5-50.6v41.1m-80-69.9v21.5m-22.5-70.3v15.4m108.8 74.1v37.2m-228.1-19.9v18.4m-15.3-24.8v33.7m32.4-20.1v41.9m217.8-78.7v36.2m-4.9-15.8v31.8m-207.3-31.4v29.5m145.6-45.9v20m-156.2 2.2v28.3m-3.4-28.8v43.9m63.7-69.6v17.9m86.3-16.4v25.3m-171.7-20.6v71.2m28.4-42.4v27.7m55.9-58v22.9m5.5-39.9v24.8m66.2-43.7v13.3m2.2-4v21.6m-26.4-73.2v14.3m156.2 78.3v39.7m-26.2-35.2v17.1m-257.1-23.6v28.4m277.2-12.7v34.1m-178.7-100.4v19.9m-56.5 35.4v44.3m172.2-97.6v8.6m-45.1 25.2v12.8m23.7-3.1v21.7m-112.9-24.6v17m8-36.9v18.2m-87.9 32.4v30.4m196.7-58.8v16.3m-23.7-30.6v20.7m-208.3-.5v28m176.6-85.3v22.3m-82.7 39.2v31.8m205.4-25.3v25.5m-40.9-40.2v34.4m-204.9-17.5v28.9m127.7-99.2v12.6m51 44.6v23.2m-132.5-37.7v32m-102.8 6.3v33.2m41.5-34.3v27.8m56.3-62v31.1m9.6-39.6v31.4m8.4-20.4v17.8m-31.7-6.1v38.1m146.8-41.5v18.7m-62.9-113.7v21.3m142.4 76.9v32.8m-274.5-34.1v52.6m92.3-86.2v13.2m26.8-59.4v13.3m-27.8 37v11.7m194.2 27v26.7m-253.9-41.2v25.8m57.1-47.1v16.4m9-30.7v25.9m-58.6 2.6v34.4m-23.1-25.4v41.3m-48.1-40.6v24.2m146-100.8v24.1m-113.8 52.1v30.7m114.7-114.6v20.5m-125 69.1v35.9m210.8-56.2v53.3m-62.7-109.4v21.1m-30.4-2.8v14.2m-92.8 45.9v34.4m1.7-36.8v30.9m70.3-54.6v20" marker-start="url(#hG)" marker-mid="url(#hG)" marker-end="url(#hG)"/><path d="M110.1 204.3m94.7-88.3m2.9 5.1m-44.3 43.3m130.7 36.6m-142.8-18.8m-18.1 18.7m9.8-8.1m24-30m-75.4 38.9m78.7-55.8m1.6 2.8m-137.1 69.6m235.7-25m-129.7 10.2m-47.4 2.5m173.6-8m-183.9 18.4m73.5-45.6m-24.9 11.7m-21.1 16.3m-42.5 2.1m234 9.2m-236 3.8m205.5-19.3m-75.7-93.7m112 112.6m-157-29.1m-76.2 20.5m165.1-29.5m17.9 14.4m-161.9 25.6m125.3-59.7m36.2 35.3m-142 11m201.3 8m-212.4-16m-38.6 7.6m211.4-5.9m-27.8-15.6m60.2 20.4m-64.6-22.8m29.6 11m-186.8 10.9m169.4-6.2m46 14.6m22-14.1m-278.7 36.5m207.4-39.9m-141.2 27.2m15.3-3.6m-49.1 7.6m74.7-44.8m-80.2 41.3m184.2-38.8m-81.2-42.8m-47.4 61.9m144-1m-114.4-31m-48.9 41.9m172.9-13.6m-113.8-50.8m65.4 21.5m-50.6-37.8m-82.5 69.4m123.6-45.7m75 49.9m-229.9 17.6m-34.1 2.5m82.7-35.3m159.7 4.9m-95.1-64.8m-100.8 75.2m78.2-38.7m42.4-54.8m-133.3 93.7m113.5-70.4m39.7 19.3m28.5 37.5m-47.4-69.2m-133.5 84.1m31.1-9.3m94.3-83.4m70.7 78.5m-150.9 24.7m1.2-6.5m32.2-26.6m28.8-41.4m-40.3 49.5m33.8-38.2m-61.6 51.5m154.8-9.5m-197.5 20.7m194.3-19.1m-192.2 42.2m248.6-37.2m-111.6-83.8m-127.3 86.7m169.2-11.2m-166.8 18.6m129.8-81.5m146.6 83.1m-201.2-48m129.4-49.5m-75.7 8.2m-48.7 47.6m-24.2 23.3m121.8 2.4m-170.6 12.2m68.5-31.2m154.3 31.4m-99.1-76.5m-114.5 75.5m35.7-2.4m212.7 17.6m-58.8-70.5m9.1 63m-190.3-7.4m121.3-45.7m7.7 4.6m-110.1 33.6m10.7 13.3m-49.5-2m92.9-81m39.1 7.2m89 72.2m-9-10m-186.5 5.2m131.1-27.6m36.8 19m-200.9 32.9m-7.8-18.7m215.7-62.8m-194.9 60.2m119.5-71.9m49.4 44.4m9.2 12m65.9 16.7m-102.7-43.3m41.8 27.1m-147.3 27m-6.1-27.2m159.6 5.2m-198.3 33.9m87.2-80.4m10.2-20.9m80.9 63.2m-85.2-57.1m91.8 66.2m70.3 2.6m-164-62.5m-42.6 50.7m188.5 8.7m-105.9-66.2m59.1 54.4m45.4 16.5m-190.8-2.2m-24.8-8.7m133-23.1m-143.5 43.3m-16.9 7.5m190.9-38.4m-173 15m67.5-28.8m-65.6 37.3m157-30.1m-81.2-23.7m-43.9 43.4m49.8-59.5m-52.5 55.6m-25.1 18m238.7-20.2m-246.5 20.1m44.4-4.7m151.5-49.4m-27.5 35.3m-125.1 5.9m38.4-53.3m109.4 49.9m-133.6-19.2m-65.3 35.2m24.2-4.2m68.2-60.6m80.8 48.3m-123.1-5.6m-81 28.7m7.3-21.9m227.7-37.5m28.1 51.9m-220.9-10.1m62-22.7m14.9-28.6m90.3 46.3m-228.1 35.6m153.7-113.5m-149.4 101.3m277.7-6.8m-7.1-.9m-240.2 2.1m222.1-27.9m52.3 24m-127.7-70.6m-83.6 60.9m80.9-61.8m49.3 60.5m59.9 4m-108.4-68.8m-4.2-1.2m-79.8 65.9m122.8-14.2m-146.8 30.4m162-18.6m-134.5 0m103.9-20.1m-12.2-19.8m1.8-.3m67.3 48.3m-219.3 14.4m164.2-39m-95.5 17.3m-55.2 19.5m236.6-3m-13.6 1.6m-217.1-9.9m14.7-9.1m2.4 21.2m-14-13.5m155.3-20.2m-156.8 25.3m114.7-88.6m45.6 70.9m-204.6 32.1m244.2-10.4m44.9 4.8m-201.2-13.9m106-15.1m-24.9-35.6m-69.9 26m25-40.1m-78.8 71.8m36.3-13.9m21.1-23.1m85.3 2.6m-128.2 21.8m46.3-23.9m3.9-3.1m-66.1 22.3m93.1-68.2m163.4 77.3m-213.9-3.4m141.6-13.5m-198.2 30m259.1 1.9m-159.8-80.4m-40.7 42m-66.1 36.4m184.3-17.1m-154.1 .8m-53 17.2m135.8-98.3m-43.3 77.2m74.6-59m-163 91.3m292.5-18.4m-16.8 7.7m-64.4-33.8m-217.1 30.4m129.7-68.2m8-28m162.6 102.2m-144.3-103.4m28.7 61.8m-17.3-37.1m-148.8 83.8m200-38.8m-16.9 5.5m-48.4-81m-49.9 78.1m-72.7 27.2m132.3-84.5m37.3 50m-124.5 28.7m145.8-17.1m-79.7-78.7m-59.4 85.9m-48.2 14.6m-9.5 8.3m189.9-25.3m-155.5 5.1m138.9-23.7m-148.9 40m119.2-78.9m-123.4 67m53.2-19.3m-12.9 23.5m-60 6.1m19.6-14.9m15.9-2.3m151.4-4.3m-182.3 1.5m122.7-88.6m-27.4 24.9m-86 79.5m183.6-14.2m30.5-6.6m-80-38.6m-22.5-51.8m108.8 100.4m-228.1 7.9m-15.3 1.3m32.4 17.7m217.8-39.7m-4.9 18.2m-207.3-.8m145.6-21.1m-156.2 26.4m-3.4 7.3m63.7-38.8m86.3 5.2m-171.7 27.7m28.4 7.1m55.9-32.8m5.5-16.1m66.2-24.6m2.2 13.5m-26.4-55.3m156.2 105.3m-26.2-6.8m-257.1-.8m277.2 18.5m-178.7-73.4m-56.5 67.5m172.2-71.1m-45.1 35.9m23.7 14.1m-112.9-5.2m8-19.3m-87.9 56.7m196.7-35.4m-23.7-12.2m-208.3 23.9m176.6-60.1m-82.7 66.2m205.4 3.4m-40.9-10.3m-204.9 14.1m127.7-78.4m51 62.5m-132.5-10.1m-102.8 38.9m41.5-3.8m56.3-32.6m9.6-8.3m8.4 4.2m-31.7 21.8m146.8-13m-62.9-93.8m142.4 104m-274.5 8.6m92.3-53.3m26.8-46.2m-27.8 49.5m194.2 46.2m-253.9-14.9m57.1-26m9-9.6m-58.6 32.8m-23.1 12.5m-48.1-8m146-76.6m-113.8 79.6m114.7-89m-125 97.2m210.8-11.6m-62.7-72.1m-30.4 14.8m-92.8 70.3m1.7-4.2m70.3-29.2" marker-start="url(#cG)" marker-mid="url(#cG)" marker-end="url(#cG)"/><path stroke="#000000" d="M50.1 206.4v30m60.8-40.4v16m-5.7-9.9v19.5m-28.5-20.4v29.3m-25-22.3v19.5m302.6-29.1v25.6m-136.1-97.7v18.1m55.6 36.1v17.6m-192.2 6.9v24m146.2-71.2v7.7m13.7-5.7v16.6m-111.7 14v22m-31.7-14.2v21.8m-28.6-18.5v17.5m120.7-107.9v8.6m33 31v8.4m120.4 42.4v23.6m-187.4-60.5v10.6m131.6-153.2v2.9m-219.1 172.9v21m218.9-202.7v5.2m-214.3 181.7v24.5m69-51.2v25.1m66.5-93.5v14.7m-141.1 80.1v17.7m144.4-99.1v15.7m60 49.3v11.5m-3.9-8.4v13.2m-190.8 4.7v17.2m207.7-97.2v11.8m-70-11.1v12.1m-114.7 43.7v24.3m179.7-46v18.4m55.8 30.2v28.5m-169.9-88.6v11.1m123.4-92.5v6.7m9.9 116.1v24.9m-181.8-26.4v26.7m136.9-42.8v14.9m-210.7 1.4v25.2m262.3-32.7v21.5m-2.5-5.7v16.2m-165.8-32.6v14.9m153.6-175.2v3.2m-175.1 173.3v25.9m23.3-43.8v20m208 7.1v35m-144-142.5v12.7m-76.2 80.3v35.8m119.3-53.1v12.3m-204.5 11.1v20.7m72.3-33.4v25.9m11.5-21.7v28.8m-45.2-25.7v35m-1.1-23.8v20.9m64.9-47.7v13m178.2-15.2v32.2m-204.6-12.1v18.7m206.6-18.2v15.1m-54.9-26.9v10.7m-62.8-84.1v13.5m51 56.9v11m-24.4-26v12.9m-107.4 10.1v19.7m-3.6-25.8v30.5m190.8-14.8v21.2m-49.5-35.1v15m76.2-1.2v23.5m-228.9-27.6v20.5m215.4-21.2v24.3m19.7-22.6v27m-100.6-48.5v14.4m-198.4 9.7v29.5m94.7-55.1v26m52.1-98.6v11.5m-138.4 87.8v24m124.3-94.8v8.5m-70.3 62.2v25.3m14.2-45.2v24.3m225.3-5.7v25.8m-111-62.4v23.2m25.1-.7v14.8m-97.5-41.1v11.6m49.2-36.3v13.1m-141.7 62.6v16.4m65.2-55.3v29.7m183.9-5.8v23.1m-120.6-116.4v10m-163.4 99.3v26.2m34.8-41.2v23.4m167-46.1v15.4m-53.9-75.5v11m-28.3 41.4v12.1m163.9 20.6v19.9m-160.1-56.1v9.9m34.4-74.9v13.9m13.9 8.3v16.5m85.2 56v25.3m-237.9-13.5v15.2m212.3-32.6v16m-34.9-40.8v14m-140.6 21.3v24.3m120.9-95.2v16.2m-110.7 54.1v19.2m107-87.6v7.6m-97.9 67.8v27m217.3-50.7v25.8m-73-24.1v17.5m6.6-8.3v13.7m-81.1-78.2v11m-1.4-15.2v15.6m-125 59v25m99.6-47.5v12.7m-60.3 15.2v23.1m205.2-25.3v21.1m17.3-10.1v15.8m-193.6-35v37" marker-start="url(#hK)" marker-mid="url(#hK)" marker-end="url(#hK)"/><path d="M50.1 221.4m60.8-17.5m-5.7 8m-28.5 3.9m-25 2.2m302.6-6.6m-136.1-75.9m55.6 54m-192.2 27.7m146.2-55.3m13.7 6.4m-111.7 33.3m-31.7 7.7m-28.6 1.2m120.7-94.9m33 39.5m120.4 58.4m-187.4-43.4m131.6-146.5m-219.1 184.9m218.9-189.6m-214.3 196.5m69-26.3m66.5-73.6m-141.1 96.2m144.4-82.4m60 63m-3.9 3.9m-190.8 19.9m207.7-82.7m-70 .8m-114.7 62m179.7-24.7m55.8 53.7m-169.9-68.8m123.4-83.7m9.9 132m-181.8-.7m136.9-22m-210.7 21.4m262.3-9.3m-2.5 13.2m-165.8-17.1m153.6-166.1m-175.1 187.8m23.3-20.8m208 34.6m-144-118.6m-76.2 104.5m119.3-29.1m-204.5 27.6m72.3-10m11.5 5.6m-45.2 6.2m-1.1 4.1m64.9-30.7m178.2 7.4m-204.6 13.4m206.6-1.4m-54.9-13.9m-62.8-72m51 69.1m-24.4-14m-107.4 26.4m-3.6-.8m190.8 11.1m-49.5-17m76.2 18.1m-228.9-5.7m215.4 1.2m19.7 3.1m-100.6-27.8m-198.4 31.7m94.7-27.4m52.1-79.9m-138.4 105.6m124.3-78.6m-70.3 79.2m14.2-20.4m225.3 19.3m-111-37.9m25.1 18.3m-97.5-27.9m49.2-24m-141.7 77.5m65.2-32.3m183.9 20.6m-120.6-99.9m-163.4 117.4m34.8-16.3m167-26.8m-53.9-62.3m-28.3 53m163.9 36.6m-160.1-41.3m34.4-62.9m13.9 23.5m85.2 76.9m-237.9 6.7m212.3-17m-34.9-25.8m-140.6 40.5m120.9-75m-110.7 71.8m107-74.2m-97.9 85.1m217.3-24.3m-73-2.4m6.6 7.2m-81.1-65.8m-1.4-1.9m-125 79.3m99.6-28.7m-60.3 33.1m205.2-3.1m17.3 8.3m-193.6-8.6" marker-start="url(#cK)" marker-mid="url(#cK)" marker-end="url(#cK)"/><path stroke="#ff0000" d="M197.8 104.7v18.9m-125.2 78.6v35.3m-35.9-16.6v33.1m161.2-155v18.1m-109.5 68.4v41.6m-44.2-27.5v42.1m189.8-84.2v33.2m-92.1-7.6v33.1m-60.4-12.9v35.8m122.8-137.2v16m-147.1 77.4v20.5m-7.4-23v53.8m114.4-86.4v19.2m-91 11.8v31.9m106.1-98.8v14.9m58.5 21.4v22.3m-119.7 8v36.6m150.1-46.8v31.3m-236.6-1.3v21.6m225.1-51.2v16.9m22.1-23.3v30.4m76.7-14v41.4m-23.4-37.5v25.8m-123.4-115.1v27.3m-86.2 52.3v37m122.6-51.4v16.9m-67.7-63.1v16.2m-94.5 38.8v44.1m25-32.2v33.3m69.1-111.7v29.5m-63.3 50.1v38m93.4-125.5v20.1m11.5 7.3v14.1m-122.8 48.2v38.7m27.7-44.3v24.2m137.5-43.7v26.9m9.2-16.2v25.7m72.4-39.3v45.8m-212.6-33.2v36.9m96.8-68.8v12.7m-111.5 27.9v48.9m57.3-93.8v17m55.8-13.2v27m-161.5 10.6v40.4m93.4-65.1v15.3m185 23.1v42.8m-145-150.7v22.7m-46.5 61.1v14.2m-25.4 8v65m23.2-83.1v14.3m137.4-176.4v3.9m-237 173.6v27.3m171.3-71.7v20.2m-129.1 24.6v30.3m247.5-18.3v25.3m-180.8-75.5v19m82.2-7.2v18.4m-197.8 19.3v32.2m143.9-128.8v18.8m126.5 68.9v30.3m-165.9-69.1v23.3m19.9-42.4v14.3m-63 29.2v30.5m80.4-97v12.6m-77.1 63v31.1m100.3-95.5v16.3m-22.8-31.5v11.1m.8-28.1v27.3m89.9 60.4v21.9m-183.7-4.6v29.7m237.4-37.7v35.4m-83.9-42.1v33.7m-150-33.9v28.5m66.2-62.3v18.5m80.4 3.5v19.7m-16.9-56.3v22.9m-28.7-64.3v16.4m89.4-87.9v3m26.9 157v39m-161.5-57.4v23.3m17.7-48.3v11.8m85.3 29.2v20.9m98.1-.8v25.1m-258.7-48.5v36.5m257.6-31.1v40m-311.4-17.7v26.9m178.9-95.3v23.1m-54-17v20.9m-135 47.8v37.5m-.6-52v47.6m110.1-62.8v29.2m156.9-18.7v35.9m-256.5-58v41.3m233-25.6v24.5m-148-66.1v55m170.5-9.4v28.9m6-17.6v39.7m-67.5-77.4v10.2m112.8 17.8v31.5m-79-47.6v34.1m-235.6-17.6v25.5m142.4-94.3v18.8m-144.3 60.7v29.3m55.8-33.8v41.4m74.4-84.5v16.2m174.6 38v29.6m-160.4-108.7v19.8m-8-9.8v22m-39.6-10.8v53.1m24.2-35.9v14.4m-100.3 1.9v45.1m70.2-74.7v58.9m104.3-55.9v11.8m5.8-8v13.5m-182.2 29v26.3m70.6-40.8v46.2m-90.6-57.7v46.6m295.9-41.1v28.6m-22.5-12.6v33.9m-172.7-63.9v44.3m-65.4-15.9v32.5m285.7-39v20.1m1-51.7v47.2m-228.6-48v49.7m147.6-24.4v14.8m-19.5-18.3v14.3m-119.1-19v56.2m184.9-59.7v49.5m-243.5-34.6v67.9m210.4-200.7v4.3m-146.7 119.1v38.8m-93.6-18.6v49.8m45.3-58.3v23.2m55-53.8v39.3m124.1-19.6v25m-60.6-89.7v25m84.8 33.1v44.1m12-26.8v26.4m-147.8-49v21.9m9.4-34.3v19.4m-83.4 13.4v36.6m-44.6-23.4v29.5m47.3-38.2v31m-36.7-11.6v39.8m218.5-68.9v22m-31.9-43.9v27.5m66.8-6.7v39.1m-32.8-46.7v27.6m17-137.4v6.8m-114 57.6v30.6m79.7 14.6v24m-181.7 6v34.9m226-62.7v35.6m-122.7-82.2v18.4m106.9 32.2v23.9m-207.9-3.8v32.5m214.1-170.4v6.6m-205.4 99.5v56.4m-12.9-27.5v56.4m194.4-69.7v14.9m-135.5-20.5v34.8m201.8-23.9v34.9m-270.5-8.4v35.6m11.3-56.6v30.9m82.4-55.5v21.1m22.3-60.8v27.9m3.2-43.5v24m21.3-45.8v15.8m-123.4 70.6v36.9m261.6-22.1v34.9m-186-59.8v27.3m-69.4 13v27.1m70.6-68.7v12.3m75.1-24.5v17.4m-186.9 4.8v42m64.1-23.1v49.8m106.6-130.1v26.4m-43.8 4.1v13.3m59.2-4.3v18.2m-187.1 16.5v51.8m260.2-42.6v24.4m-24.8-39v19.9m.9-13.5v14.6m-66.5-85.6v21.7m37.6 32.3v16.4m-175.6 6v29.8m-16.3-46.5v52m24.8-42.6v46.9m221.4-27.3v44m-67.4-90.8v21.3m-42.5-81.5v19.1m120.3 68.6v25.4m-174.9-51.2v38.7m167.4-28.4v32.2m-209.5-6v26.3m189.1-165.1v5.3m-238.8 138.6v63m4.3-59.8v43.6m113.8-104.3v21m183.1 28.9v37m-182.8-80.9v17.3m-43.9 30v43.1m-71-52.2v36.5m164.5-104.4v20.8m-39.4-11.8v11.7m97.3 41.5v18.8m-117.5-27.4v21.1m134.5-173.6v3.8m-3.7 27.8v5.1m-71 66.8v24.2m-49.2-15.7v26m-116.2 8.9v47m220.2-42.2v26.6m-88.5-84.8v16m88.5 44.3v14.7m49.4-17v36.1m-286.3-20.8v43.9m309.7-32.2v30.9m9.6-46.3v45.1m-196.8-80.1v24.1m40.5-82.7v12m-36.8 51v24.3m154.2-3.9v39.5m-243.4-19.4v40.8m110.6-118.7v13.5m84.5 45.9v19.7m36.2-7.2v33.9m-206.1-23.3v47.9m58.9-90.1v24.4m73.5-23.1v20.2m25.5-8v16.2m-63.6-87.4v14.8m-71.7 75.2v52.1m81.7-151.2v17.6m-103.1 56.1v44.9m157.2-33.7v11.7m-56.1-107.7v21.1m147.8 99.1v21.5m-272.5-24.2v27.1m98.1-82.7v16.7m116.9-144.8v3.7m-126.3 134v20.7m-79 21v19.6m219.4-44.8v33.9m33.9-6.2v32.2m-92.6-63.8v15.9m111.4 21.6v55.3m-182.7-127.7v25.6m75.6 15.6v16.2m-11.1-34.4v19.8m-14-40.5v26.3m121 32.8v43.1m-231.3-61.2v52.3m-5.7-35.2v26.1m-67.8-26.6v35.6m198.7-60v28.9m-122.1-2.6v35.9m242.2-42.1v53.9m-211.6-78.6v47.8m125-29.6v22.7m52.7-7.6v43.8m-229.8-46.9v27.4m185.3-37.9v15.5m-157.2-13.4v32.9m-12-31.3v28.3" marker-start="url(#hR)" marker-mid="url(#hR)" marker-end="url(#hR)"/><path d="M197.8 114.1m-125.2 105.8m-35.9 17.5m161.2-129.4m-109.5 98.3m-44.2 14.3m189.8-46.5m-92.1 25.5m-60.4 21.6m122.8-111.3m-147.1 95.6m-7.4 14.2m114.4-49.9m-91 37.3m106.1-75.4m58.5 40.1m-119.7 37.4m150.1-12.9m-236.6 25.2m225.1-31.9m22.1 .2m76.7 22m-23.4-3.9m-123.4-88.5m-86.2 84.4m122.6-24.4m-67.7-46.6m-94.5 69m25 6.5m69.1-80.4m-63.3 83.9m93.4-96.4m11.5 24.3m-122.8 74.6m27.7-12.7m137.5-18.3m9.2 10.1m72.4-3.5m-212.6 8.2m96.8-44m-111.5 58.7m57.3-60.9m55.8 8.8m-161.5 44.3m93.4-37.3m185 52.2m-145-117.9m-46.5 79.5m-25.4 47.6m23.2-43.5m137.4-167.3m-237 189.2m171.3-48m-129.1 49.9m247.5 9.5m-180.8-53.2m82.2 11.4m-197.8 44.6m143.9-103.2m126.5 93.3m-165.9-42.2m19.9-23.7m-63 51.6m80.4-75.4m-77.1 84.8m100.3-71.8m-22.8-17.8m.8-8.9m89.9 85.1m-183.7 21.2m237.4-5.2m-83.9-7.5m-150-2.8m66.2-38.8m80.4 22.6m-16.9-35.1m-28.7-44.6m89.4-78.2m26.9 178m-161.5-26.3m17.7-30.7m85.3 45.6m98.1 22.1m-258.7-17.6m257.6 7.1m-311.4 15.7m178.9-70.3m-54 5.1m-135 76.9m-.6-9.4m110.1-24.5m156.9 13.9m-256.5-19.4m233 7.3m-148-26.3m170.5 32.6m6 16.7m-67.5-52.5m112.8 38.6m-79-14.8m-235.6 12.2m142.4-72.1m-144.3 84.8m55.8 1.5m74.4-55.7m174.6 60.9m-160.4-84m-8 11.1m-39.6 26.7m24.2-2.1m-100.3 31.7m70.2-22.7m104.3-20.6m5.8 4.7m-182.2 48.9m70.6-4.6m-90.6-11.2m295.9-3.6m-22.5 18.7m-172.7-24.9m-65.4 22.6m285.7-12.7m1-18.1m-228.6 .4m147.6 7.9m-19.5-3.8m-119.1 16.4m184.9-7m-243.5 24.2m210.4-164.7m-146.7 140.7m-93.6 25.7m45.3-21.7m55-22.6m124.1 12.5m-60.6-64.7m84.8 67.7m12 8.4m-147.8-24.9m9.4-13.6m-83.4 41.4m-44.6 9.7m47.3-8m-36.7 23.8m218.5-38m-31.9-19.1m66.8 26.5m-32.8-13.3m17-120.2m-114 76.3m79.7 41.9m-181.7 35.5m226-27.5m-122.7-55.2m106.9 53.4m-207.9 24.3m214.1-150.8m-205.4 131m-12.9 28.9m194.4-34.1m-135.5 4.4m201.8 11m-270.5 26.8m11.3-23.4m82.4-29.5m22.3-36.2m3.2-17.6m21.3-25.9m-123.4 97m261.6 13.8m-186-28.8m-69.4 40.2m70.6-49m75.1-9.7m-186.9 34.6m64.1 22.8m106.6-91.9m-43.8 23.9m59.2 11.4m-187.1 51.5m260.2-4.5m-24.8-16.9m.9 3.7m-66.5-67.3m37.6 51.3m-175.6 29m-16.3-5.5m24.8 6.9m221.4 18.1m-67.4-58.1m-42.5-61.3m120.3 90.8m-174.9-19.2m167.4 7.1m-209.5 23.2m189.1-149.2m-238.8 172.7m4.3-6.5m113.8-72m183.1 57.9m-182.8-53.7m-43.9 60.2m-71-12.5m164.5-75.7m-39.4 4.5m97.3 56.7m-117.5-7.4m134.5-161.2m-3.7 32.3m-71 81.4m-49.2 9.4m-116.2 45.4m220.2-5.4m-88.5-63.5m88.5 59.6m49.4 8.4m-286.3 19.2m309.7 5.3m9.6-8.3m-196.8-45.6m40.5-64.6m-36.8 69.1m154.2 28.1m-243.4 20.7m110.6-91.5m84.5 62.4m36.2 19.7m-206.1 17.6m58.9-54m73.5-.8m25.5 10.2m-63.6-71.9m-71.7 108.7m81.7-116.4m-103.1 87.4m157.2-5.4m-56.1-91.3m147.8 120.3m-272.5 .1m98.1-60.7m116.9-134.7m-126.3 146.3m-79 41.1m219.4-18m33.9 26.8m-92.6-39.7m111.4 57.1m-182.7-87.3m75.6 36.6m-11.1-16.4m-14-17.4m121 67.5m-231.3-13.6m-5.7 4m-67.8 4.3m198.7-27.7m-122.1 29.7m242.2 2.9m-211.6-27.8m125 5.7m52.7 25.7m-229.8-11.4m185.3-16.5m-157.2 10.8m-12-.7" marker-start="url(#cR)" marker-mid="url(#cR)" marker-end="url(#cR)"/><path stroke="#0000ff" d="M128.3 170.5v90.7m-79.7-56.1v42.6m240.4-187.1v4.2m25.5 111.1v30.5m-165.1-33.1v18.4m172.1-18.6v39.2m-278.2-13.7v36m241.1-122v8.4m-145.6 76.5v41.2m198.5-49.9v24.9m-194.9-37.4v26.7m149.3-32.7v14.7m6.7 10.1v22.8m-116.8-92.2v20.6m127.6 43.3v24.7m10.5-30.4v34.1m-161.8-51.9v15.7m-111.1 24.7v35.6m129.7-113v15.4m68.1 24.7v19.5m-33.6-60.9v18.5m-69.8 15.7v30.1m-10.8-1.2v34.6m172.9-29.4v24.2m-264.7-30.3v35.8m195.5-58.1v14m82.5 12v22.2m-247.1-27.4v30.7m198.5-57.9v44.5m-147.9-19v46.2m-12.5-39.3v35.8m-62.6-51.3v43.1m7.4-17.6v23.3m24.9-50v40.5m-28-10.6v42.2m65.2-60v41.7m-44.1-49.7v63.9m67.2-63.3v23.2m-54-22.8v27.4m184.6-37.1v55.9m-180.9-23.2v25.8m98.4-120.6v13.3m114.8 59.3v42.4m-12.3-167.6v9.3m-255.5 138.2v37.9m85.4-51.7v27.7m37.4-50.7v16.3m104.7-6.1v19.5m-30.3-44.5v18.5m-.6-23.3v22m-185.7 24.7v36.2m164-113.7v12.9m-2.6-27.7v23m-153.9 64.7v34.7m279.4-42.5v34.6m-132.1-123.6v18.7m-51.5 76.2v18.4m-105.5-8.2v31.6m11.7-25.7v51.3m152.2-147.8v21.4m-85.5 32.8v35.4m106.1-56.9v20.3m-170.2 38.7v19.9m2.3-30.6v39.2m65.3-34.5v69.5m47.4-126.3v22.2m25-75.6v28.3m28.2 34.7v19.1m-39.6-50.4v17.3m26.2-20.5v18.6m-166.7 68.4v25.8m143.5-114.1v10.2m-19.4 18.3v22.2m-19.8 12v17.7m101-10.1v21.8m19.4-26.1v47.2m-230.3-25v36.1m236.4-44.5v19.4m-76.4-121.5v24.2m-56.6 58.3v33.1m-55.2-8.3v35.3m193-76.1v12.9m-45-19.2v24.2m-201.8 2.9v46.7m312.1-46.5v34.9m-56.4-192.7v3.2m-3 107.7v8.9m-153.6 32.3v66.8m-84.1-36.7v36m57-41.1v23.6m-60.1-32.6v53.1m-11.9-39.4v24.9m185.8-89.5v19.2m-161.3 32.6v46.7m141.7-158.1v34.7m62.3 70.3v18.6m-16.6-28.6v19.9m-9.7-33.3v14.9m-138.8 18.4v33.6m-8-27.2v24.9m229.1-28.7v25.8m29.4-20.3v25.5m-175.6-78v14.7m22.9-55.6v16.7m-123.4 72.2v41.1m125.8-144.7v26.6m33.8 40.9v12.9m-99.5-34.7v76.8m211.7-15.8v28.1m-296.7-36.6v44.5m258.5-39v20.6m-222.4-16.7v31.8m-23.1-45.8v35.3m230.1-139.6v7.1m-241.3 93v44.3m201.9-45.3v11.9m-91.5-33.8v24.4m7.6-33.1v14.9m62.5-16.4v17.8m-183.9 48.2v24.2m2.7-40.1v43.8m249.1-60.7v30.6m-114.4-89.5v23.4m-136.2 34.9v47.1m119.6-77.5v15.4m33.8-73.7v19.4m-36.5 46.8v14.6m-119.7 33.4v32.8m4.8-51.6v33.3m156.4-128.7v20.5m-156.2 95.2v45.8m150.8-159.3v17.1m39.8 49.6v16.1m52.9-150.2v3.9m-31.8 152.7v19.8m-149.4-10.3v25.8m-64.9-18v29.6m146.6-119.2v15.8m-24.9 17.9v18.5m6.1-21.9v14.5m24.6-55.1v27.7m-56.5 60.6v21.9m44.1-87.2v16.1m2.7-25.1v17.6m-148.9 59.3v37m125.4-75.1v14.9m-31.5 24.1v29.3m-7.8-36.3v35.5m-83.5-36.9v30.7m185-64.6v25.4m-58.2-28.4v14.1m-47.3 23.9v31.3m-45.8-16.7v30.5m86.5-60.6v15.6m123.1-73.7v6.4m22.5 74.7v19.1m-133.1-73.3v20.6m96.5 29.1v43.8m52.5-35.6v22.5m3-11.3v35.4m-95.6-88.1v13.2m76.5 16.2v34.3m31.6-21.2v32.9m-112.7-83.7v18.1m.9-22.1v17m-112.5 17.8v47.7m174.2-203.1v4.5m-127.7 134.6v10.9m106.8 1.3v46.4m-34.3-58.2v18.4m25.3-13.4v24.6m-44.5-64.4v11.6m-62.6 41.5v18.6m-97.4-9.4v31m291-48v44.3m-269.8-21v31m196.3-49.9v16.5m51.4-15.7v28.1m-77.7-38.2v20.4m4.9-5.9v16.3m-115.2-29.2v51.2m68.3-117.2v17.8m-114.5 71.4v39.1m45.4-60.3v51.7m-17.8-27.3v35.7m142.7-42.1v14.2m45.8-20.1v51m-140.7-76.6v24.1m72.4-20.9v19.3m-115.4-14.3v48m-25.2-15.7v30.3m170.2-51.7v40.1m19.7-152.7v9.2m37 122.8v17.5m-31.2-52.7v14.5m-244.5 11.9v47m100.4-63.2v28.3m171.2 6v29.8m-153.5-87.8v20.3m86.3 12.8v15.1m-8.5-27.1v16.7m-111.6-18.1v43.8m83.7-80.1v18.6m-164.2 77.1v63.8m15.3-131v104.2m150.7-127.4v25.1m-180.3 41.6v33.7m28.9-55.7v104.4m246.9-84.9v26.2m-254.4-37.4v36.7m232.2-176.8v3.1m-224 111.7v82.5m221.1-137.1v6.9m-227.4 65.9v44.1m100.5-58.5v23.4m14.8-61.1v20.7m-129.8 52.9v32m175.8-97.2v14.6m-50.8-8.6v10.4m88.2 33v10.8m-129.2-6v30.9m193.7-35v44.7m-5.1-41v26.7m-275.8-24.6v38.3m-8.1-36.7v32.7m121-59.2v15.2m136.9-169.6v3.5m-62.1 143.8v18.6m-70.8-20.3v17.7m33.7-77.6v19m51 45.1v18.5m8.5-5.5v13.8m-206.2 1.2v37.8m239.5-150.4v4.3m-66.8 50.5v17.5m-13.1-43.2v14.4m-71.5 33.2v65.9m6.6-36.5v20.2m112.4-30.6v17.5m-65-76.3v11m79.1 59.3v14.4m-22.3-26.7v23m-203.4 5.6v34.5m104.2-76.6v23.9m-92.1 7.7v30.1m263.1-38.1v29.3m-266.6-25.4v33.5m302.7-19.6v25.3m-9.8-28.1v39.5m-97.9-61.3v12.6m-45.4-90.7v10.4m-152.8 90.2v34.2m-12.7-28v26.9m7.3-43v45.3m10.7-45.4v30.3m107.8-55.7v18.9m-112.3 9.3v40.8m167.9-112.9v21.3m-92.8 17.9v42.2m221.4-19.5v28.6m-289.5-4v46.8m236-90.9v9.7m-20.4-2v41.3m-140.3-23.5v20.2m157.3-147v5.1m-229.3 137.4v36.1m69.4-64.3v27.3m162.3-188.7v3.2m-31.7 166.6v23.8m-4.3-25v18.2m-183.1 .4v51m219-174.8v8m-71.1 51.5v15.3m109.5 29.6v43.9m-282.7-30.1v28.8m241.9-168.8v8.3m-136.8 110.7v15.3m-7.3-20.5v32m170.5-6.4v23.1m-207.5-26.2v21.5m166-32.9v18.8m-111.3-45.9v20.2m-27.8-10.4v69.2m-97.2-33.3v26.7m68.3-25.7v25.7m8.1-45v29.6m193.7-14.5v24.5m-169.7-61.2v31.8m-16.4-4v31.7m-3.5-48.1v40.4m170.6-135.9v4.8m-244.9 125.4v41.8m.2-59.7v36m68.7-40.6v39.2m-74.2-14.9v42.7m-4.4-73.2v58.9m117.9-64.8v19.5m-13.7-10.7v29.2m147.8-88.5v16.2m-106.4-9.3v13.8m-67.9 34v31.3m177.6-117.5v8.7m-242.2 96v32.7m218-38.3v13.4m-190.1-25.4v42.7m-36.2-28.2v43.2" marker-start="url(#hB)" marker-mid="url(#hB)" marker-end="url(#hB)"/><path d="M128.3 215.9m-79.7 10.5m240.4-163.7m25.5 128.5m-165.1-8.7m172.1 10.2m-278.2 23.9m241.1-99.8m-145.6 101.3m198.5-16.9m-194.9-11.6m149.3-11.9m6.7 28.8m-116.8-70.5m127.6 66m10.5-1.1m-161.8-26.9m-111.1 50.4m129.7-87.6m68.1 42.2m-33.6-41.9m-69.8 40m-10.8 31.1m172.9-.1m-264.7-.2m195.5-33.2m82.5 30.1m-247.1-1m198.5-20.2m-147.9 26.3m-12.5 1.7m-62.6-11.8m7.4 15.5m24.9-18.1m-28 30.8m65.2-18m-44.1 3.1m67.2-19.7m-54 2.4m184.6 4.6m-180.9 17.6m98.4-101m114.8 87.1m-12.3-141.7m-255.5 161.7m85.4-18.8m37.4-28.7m104.7 11.8m-30.3-25.5m-.6-3.1m-185.7 53.8m164-89.2m-2.6-9.7m-153.9 93.6m279.4-7.9m-132.1-96.9m-51.5 94.7m-105.5 16.9m11.7 15.6m152.2-111.4m-85.5 61.2m106.1-29m-170.2 58.7m2.3-1m65.3 19.8m47.4-80.4m25-50.4m28.2 58.4m-39.6-32.1m26.2-2.6m-166.7 90.6m143.5-96.1m-19.4 34.5m-19.8 31.9m101 9.7m19.4 8.4m-230.3 16.6m236.4-16.7m-76.4-99.7m-56.6 87m-55.2 25.9m193-52.1m-45-.6m-201.8 38.3m312.1-5.6m-56.4-173.7m-3 113.8m-153.6 70.1m-84.1 14.7m57-11.3m-60.1 5.7m-11.9-.3m185.8-67.5m-161.3 65.6m141.7-117.5m62.3 97m-16.6-9.3m-9.7-16m-138.8 42.7m-8 2m229.1-3.3m29.4 5.4m-175.6-58m22.9-39.8m-123.4 101m125.8-110.8m33.8 60.7m-99.5 10.1m211.7 36.6m-296.7-.2m258.5-6.5m-222.4 9.5m-23.1-12.3m230.1-118.3m-241.3 118.6m201.9-17.1m-91.5-15.7m7.6-13.4m62.5-.1m-183.9 69.2m2.7-6.1m249.1-23.5m-114.4-62.5m-136.2 70.1m119.6-46.2m33.8-56.3m-36.5 63.8m-119.7 57.1m4.8-18.5m156.4-101.8m-156.2 128.3m150.8-127.8m39.8 66.2m52.9-140.3m-31.8 164.6m-149.4 12.5m-64.9 9.7m146.6-96.6m-24.9 35.2m6.1-5.4m24.6-34m-56.5 85.4m44.1-68.3m2.7-8.2m-148.9 86.6m125.4-49.2m-31.5 46.2m-7.8-3.8m-83.5-3.8m185-36.6m-58.2-8.6m-47.3 46.5m-45.8 14.2m86.5-37.5m123.1-62.7m22.5 87.5m-133.1-53.5m96.5 61.2m52.5-2.3m3 17.6m-95.6-63.7m76.5 39.8m31.6 12.5m-112.7-58.2m.9-4.6m-112.5 50.2m174.2-177m-127.7 142.3m106.8 29.9m-34.3-25.8m25.3 8.1m-44.5-46.3m-62.6 56.6m-97.4 15.4m291-10.3m-269.8 16.6m196.3-26.1m51.4 6.5m-77.7-13.9m4.9 12.5m-115.2 4.5m68.3-82.7m-114.5 99.9m45.4-15m-17.8 16.4m142.7-17.2m45.8 12.6m-140.7-39.1m72.4 .9m-115.4 19.3m-25.2 23.4m170.2-16.5m19.7-128m37 136.2m-31.2-36.7m-244.5 42.6m100.4-25.5m171.2 35m-153.5-62.7m86.3 30.4m-8.5-11.2m-111.6 12.2m83.7-48.9m-164.2 118.4m15.3-47.1m150.7-62.7m-180.3 71m28.9 13.3m246.9-19.6m-254.4-6m232.2-156.8m-224 154.4m221.1-92.4m-227.4 91.5m100.5-24.8m14.8-39m-129.8 79.2m175.8-73.9m-50.8 4m88.2 43.5m-129.2 14.9m193.7 2.8m-5.1-5.3m-275.8 7.9m-8.1-1.2m121-35.4m136.9-160.2m-62.1 154.9m-70.8-2.1m33.7-59.4m51 63.9m8.5 10.7m-206.2 27m239.5-129.3m-66.8 61.3m-13.1-27.2m-71.5 73.3m6.6 6.6m112.4-11.8m-65-62m79.1 72m-22.3-8m-203.4 34.3m104.2-47.4m-92.1 34.7m263.1-8.3m-266.6 5.9m302.7 9.9m-9.8 4.3m-97.9-35.3m-45.4-79.2m-152.8 112.5m-12.7 2.5m7.3-6.9m10.7-7.6m107.8-31m-112.3 39.2m167.9-81.9m-92.8 49.6m221.4 15.9m-289.5 33.7m236-62.7m-20.4 23.6m-140.3 7.1m157.3-134.3m-229.3 158.1m69.4-32.6m162.3-173.5m-31.7 180.1m-4.3-4m-183.1 35m219-145.3m-71.1 63.1m109.5 59.3m-282.7 6.1m241.9-150.1m-136.8 122.4m-7.3 3.2m170.5 21.1m-207.5-3.9m166-12.7m-111.3-26.4m-27.8 34.3m-97.2 14.7m68.3 .5m8.1-17.4m193.7 12.6m-169.7-33.1m-16.4 27.7m-3.5-12m170.6-113.3m-244.9 148.7m.2-20.8m68.7-3m-74.2 26m-4.4-22.4m117.9-25.6m-13.7 13.7m147.8-65.8m-106.4 5.6m-67.9 56.7m177.6-97.5m-242.2 116.7m218-15.3m-190.1 2.6m-36.2 14.8" marker-start="url(#cB)" marker-mid="url(#cB)" marker-end="url(#cB)"/><path stroke="#10a010" d="M128.1 173.5v33.4m-71.2-10v24.1m206.8-37.4v29.7m-88.6-75.2v14.5m92.1 24.5v40.5m-57.1-102.5v24.8m-141.3 19.2v68.8m215-91v17.6m-52.5 .6v13.6m25.3 15.9v13.3m89-7.4v21.3m-73.3-54.6v42.9m-65.7-95.6v21.2m37.3 49.9v11.7m68.7 10.7v19.7m12.6-26.3v41.6m-153.6-90.9v13.2m-16.5 20.4v12.9m-62.3 15v24.6m187.1-47.1v20.4m-166.5-37.7v69.7m125.5-70v25.7m-143.4 13.9v33.4m17.5-55.7v34.4m27.7-31.2v21.2m-53.7 .6v22.4m132.9-95.5v25.5m-61.1 5.6v18.5m-18.4-.1v33.1m-55.1-13v30.1m94.9-111.8v23.2m22.8-42.3v13.1m27.6 38.8v14.7m-153.2 18.4v29.7m249.4-44.2v32.1m-215-12.6v32m119.3-65.7v9.7m-7.2-15.4v29.7m-81.2-4.3v31.8m65.6-93.5v15m-135.2 48.3v37.9m118.6-110.7v16.2m8.5-43.9v25.2m97.4 76.7v26.1m-28.2-32.2v16.8m-187.7 13.5v21.2m96.5-91.1v17.1m67 18.6v18.9m-60.3-71.7v17.3m-110.3 55.9v47.2m37.6-59.7v41.8m10.3-34.9v30.9m116.1-53.2v13.8m-43.7-77.5v9.5m32.8 39.2v17.4m-127.8 9.3v37.8m-18.5-13.9v32.8m194-45.9v18.7m-119.1-33.8v15.2m15.3-43.7v21.7m162.4 11.7v30.1m-230-21.3v33m-34.4-16.5v60.2m157.3-110.8v16.6m-95.7 19.4v26.8m150.7-29.5v17.1m-3.8-8.6v19.6m-94.1-94v19.3m86.3 30.9v62.7m-27.8-59.3v15.6m-28.6-58.1v14.9m102.7 53.3v31.6m-156.8-65v17.3m13.5-54.1v19.4m139.7 41.4v29.5m-169.8-46.5v27.2m118.9-11.6v17.8m-145.6-36v42.3m94.2-93.5v14.9m103 55v47.3m-78.2-68.7v11.7m-102.1 10v29.9m84.5-81.4v17.4m-125 26.7v27.8m144.6-42.6v11.2m-126.6-3.9v33.8m174.4-94.6v12.9m-123.3 35.5v22m1.6-35.1v14.8m-95 43.1v29.3m35.6-51.9v30.8m6.6-30.6v31.9m-34.7-9.4v21.2m178.7-47.2v15.3m14.4-14v56.1m-203-41.8v92.2m156.8-147.5v17m-59.3 2.3v12.8m119-10.3v20m-112.9-38.2v13.6m169.7 40.5v30.6m-272.1-18.9v30.1m-20.8-37.8v30.4m67.2-47.9v33.4m11.5-24.4v33.1m147.9-41.4v20.2m-101.4-62.8v11.8m-91.2 47.5v26.7m141.5-87.8v18.3m-111.3 22.1v44.2m247.5-36.5v38.9m-192-73.8v16.4m90.3 19.8v12m-176.6-3.2v36.4m251.3-36.9v29.7m-185-67.8v28.5m207.4 26.7v30.8m-155.7-152.8v17.2m126.2 70.5v55.3m-25.1-56.6v31.1m-120.1-85.5v15.6m-74.3 50.8v33.4m24.2-44v34m130.7-39.4v23m-170.8 7.5v22.1m73.8-69.6v13.1m65.7-16.9v22.1m-151.2 28.6v36.1m-23.4-28.1v36.2m14.8-48.6v34.3m38.3-28.1v24m.3-32.7v29.2m60.3-77.3v15.6m12-38v8.4m-33.2 36.4v20m106.1-17.3v19.6m-11-24.8v15.6m-143 12.9v26.4m204.6-42.5v32.7m-173.5-32.8v41.4m198-20.5v31.3m-126.1-130.7v15.5m115.1 79.4v16.7m-172.7-32.9v21.7m109.8-23.6v14.6m-150.4-2.4v31.5m92.8-130.4v15.4m-65.8 71.8v28.7m-36.2-12.1v31.8m117.8-114.4v18.8m-34.1 3.8v14.8m74.3 22.4v22.1m24.4-6.9v15.8m-146.2-42.7v36m-36.2 2.7v18.4m89.9-109.7v16.8m-48.5 53.1v31.3m7.6-37.3v38m-73.9-43.8v49.4m25.9-25v40.5m163.6-52.4v19m51.9-14.2v39.3m-27.3-106.8v7.2m-59.6 13.5v16m130.9 49.5v32.1m-196.9-64.2v24m118.2-14v22.6m-150.5-34.2v44.4m77.6-113.1v14m-156.8 45v48.4m27.3-14.2v41.8m183.2-59.8v20.8m-74.7-83.1v16.1m-13.6 0v26.2m35.9-48.3v12.1m44.1 58.9v16.4m-176.3 13v33.9m118-139.9v17.8m58.3 49.4v24.4m-64.1-86.9v23.4m-69.3 65.6v58.9m26.8-71.4v16.7m-56.5-14.9v29.7m192.7-26.1v13m-84.8-96.6v11m-62.1 73.8v34.5m20.3-51.6v28.1m3.2-27.7v18.3m114.5-47.6v57.6m-1-10.5v19.4m-128.5-21.2v39.7m-15-69.5v40.5m-38.6-7.6v29.2m24.1-23.4v21.7m75.7-104.2v18.1m-17.5 14.3v21.1m26.3-66.8v11.2m60.5 64.9v17.2m-171.1-1.1v32.1m-11.9-27.1v35.8m31.9-36.4v36m-29.1-37.1v31.4m265.8-33.2v22.4m3.9-30.1v37.2m-194.5-51.6v12.2m-73.7 15.2v39.1m281.7-48.2v33.1m-289-26.5v31.6m117.7-119.4v12.9m56.6 42.2v26m39.4-73.4v9.2m-192.6 56.8v31.7m179.2-46.4v59.5m-77.5-130v17.1m-53.5 62.5v26.7m120.3-25v13.5m-170.7-3.9v26.8m-14.4-23.8v20.2m137.7-98.6v21.6m-38.2-1.6v14.9m10.2-29.3v16m-21.7 13.1v17m-64.4 36.2v20.4m141.8-53.8v16.1m-14.6-39.7v12.9m49.9 20.1v43.5m-15-36.7v12.9m-158.3-.9v39.4m186.5-112.7v9.5m-179.7 65.8v24.2m22.9-43.1v53.8m136.6-60.4v34m.3-42.3v44.9m-100.6-61v14.8m-6.1-15.3v21.6m49.2-48.8v22.9m-29-21.1v21m56.1 14.8v20.9m78.7 14.5v31.4m-98.5-102.9v21m-29.2-31.2v10.9m20.3-7v10.7m-33.2-6.8v23.9m-57.6 42.4v46.9m135.8-57.3v18.1m-182.1-7.5v53.8m184.2-62.1v25.1m-127.1-15.7v25.3m117.2-43.3v14.5m26.5-23.7v49.1m-14.1-29.6v17.7m22.2-15.3v12.3m-205.9-6.8v41m72.8-51.4v22.8m146.5-12.8v23.4m-46.4-31.4v17.3m-12.6-47.1v18.4m82.9 20.5v31m-133.8-99.6v7.9m-83.8 46.8v40.5m54.4-56.1v19.3m109.5 5.9v14.8m-58.3-89.1v16m80.2-10.5v12.4m-54.1 18v22.7m-132.4 8.8v26.4m-27.1 3v23.5m228.8-60.5v39.5m-93.6-104.1v16.1m42.3 58.5v18.8m59-6.5v29.7m-34.1-68.6v60.9m-157.2-31.6v31.1m193.5-22.5v28.7m-105.8-113.5v16.3m66 71.6v15.6m-190-25.2v44.4m193.6-49.7v22.8m-63.8-76.2v23.7m-28.5-29.4v13m8.6-32.4v12.9m-3.1-1.7v14.2m-101.7 73.7v23.5m263.1-39.3v27.2m-203.7-56.5v35.5m-76.2-33.2v77m142.2-115.6v14.6m2.4-29.8v28.2m59.8 50.8v21.4m-169.2-22.6v29.9m13.2-52v41.1m210.5 .2v22.1m-170.6-62.5v31.2m-25-14.8v36.1m-14.8-13.6v37.1m103.1-99.7v18.4m17.9 6.4v24.8m46.5-77.4v9.4m-137.2 50.8v18m-94.4 5.8v30.7m20.4-24.9v32.5m68.5-64.4v38.3m-33.2-25.2v20.5m94.9-94.4v14.1m39.3 54.6v19.5m-170.6 15.4v22.8m230.6-50.6v29m-234.7-16.6v31.8m.6-36.6v34.3m98.6-82v16.5m31.1-59.1v9.3m-28.4 25.4v21.4m-5.6-3.1v16.1m90.8 9.8v17.2m-85.3-48.5v12.4m81.4 17.6v13.1m-192.6 14.4v26.5m209.5-69.4v58.6m-124.6-44.8v21.3m77.4-66.9v20.8m62.3-50.5v12.3m-89.4-13v14.7m49.2 56.8v13.9m-166.4 17.9v38.1m271.6-49.2v37.4m-227.6-51v28.9m112.8-43.2v9.8m64.1 29.8v16m-76.5-75.7v11.4m28.8 21v19.1m-17-42.3v19.8m65.1 25.1v26.4m-177-53v37.5m203.4-24.9v35.1m-185.8-44.4v25.8m-33.8-9.2v28.2m62.2-72.9v15.4m71.9-11.8v25.9m-13.1-20.7v17.2m-193.4 32.4v41.7m273.5-61.6v29.1m-207.6-34.9v30.4m68.6-70.9v16.5m-50.7 19.3v39.3m151.8-27.2v12.6m-152.8-.5v41.2m15.6-75.9v33.6m5.6-16.1v39.5m137.2-54.4v49m57.8-31v22.9m-20.9-12.3v25.1m-137.5-85v20.7m144.6 38.4v26.3m-36.3-38.6v17.6m-181.3-4.8v29.6m134.4-64.8v20.5m15.3-3v17.3m-181-5.5v39.7m189.6-59.1v27.8m-190 3.8v31.3m7.5-52v43.9m87.4-67.4v12.9m-34.1 17.6v39.6m107.1-73.4v18.7m98.7 10.3v34.8m-230.7-18.1v23.9m201.9-24.6v38.1m-84.6-98.3v18.3m-85.8 19.3v30.7m125.4-25.4v15.3m-220.8-10.9v41m6.7-37.3v48.7m213.1-48.3v17.2m2.9-19.1v19m-157.9-30.1v37.4m-32.1-5.1v36.1m61.7-75v39.8m-42.2-10.9v30.4m-42.6-17.3v34.7m146.1-158.9v16.6m3-14.4v23.2m-4.4-11.5v18.7m-95.6 64.6v31m51.7-39.5v11.8m81.6-24.9v10.8m7.3-7.2v15.8m108.1-5.9v37.9m-231.7-37.4v39.7m-10.9-25.9v29.8m22.2-41v41.4m67.5-120.6v10.5m77 49.3v63.8" marker-start="url(#hG)" marker-mid="url(#hG)" marker-end="url(#hG)"/><path d="M128.1 190.2m-71.2 18.8m206.8-10.5m-88.6-53.2m92.1 52m-57.1-69.9m-141.3 66.1m215-47.8m-52.5 16.3m25.3 29.3m89 9.8m-73.3-22.4m-65.7-63.6m37.3 66.3m68.7 26.5m12.6 4.3m-153.6-63.5m-16.5 33.5m-62.3 33.7m187.1-24.6m-166.5 7.3m125.5-22.2m-143.4 43.3m17.5-21.7m27.7-3.4m-53.7 22.4m132.9-71.5m-61.1 27.5m-18.4 25.8m-55.1 18.6m94.9-85.3m22.8-24m27.6 52.7m-153.2 40.5m249.4-13.3m-215 19.5m119.3-44.8m-7.2 4.2m-81.2 26.5m65.6-70.1m-135.2 74.7m118.6-83.6m8.5-23.2m97.4 102.4m-28.2-10.8m-187.7 32.5m96.5-72m67 36.7m-60.3-53.7m-110.3 88.2m37.6-15.2m10.3 1.4m116.1-30.8m-43.7-65.8m32.8 52.5m-127.8 37m-18.5 21.4m194-20.2m-119.1-16.8m15.3-25.3m162.4 37.7m-230 10.2m-34.4 30.1m157.3-72.4m-95.7 41.1m150.7-7.6m-3.8 9.8m-94.1-74.6m86.3 72m-27.8-20.2m-28.6-42.9m102.7 76.6m-156.8-40.6m13.5-35.7m139.7 65.8m-169.8-18.1m118.9 10.9m-145.6-5.9m94.2-65m103 86.1m-78.2-39.2m-102.1 30.9m84.5-57.8m-125 49.3m144.6-23m-126.6 18.5m174.4-71.2m-123.3 52.9m1.6-16.7m-95 65.1m35.6-21.8m6.6 .7m-34.7 17.2m178.7-29m14.4 21.8m-203 32.3m156.8-92.9m-59.3 17.2m119 6m-112.9-21.3m169.7 62.6m-272.1 11.4m-20.8-7.5m67.2-16m11.5 8.8m147.9-14.7m-101.4-46.8m-91.2 66.7m141.5-65.2m-111.3 53.3m247.5 5m-192-46.1m90.3 34m-176.6 21m251.3-3.9m-185-38.6m207.4 56.3m-155.7-128.8m126.2 106.8m-25.1-13.4m-120.1-62.2m-74.3 75.3m24.2-10.3m130.7-10.8m-170.8 29.9m73.8-51.9m65.7 .6m-151.2 57.7m-23.4 8.1m14.8-13.3m38.3 1m.3-6.1m60.3-54.9m12-26m-33.2 50.6m106.1 2.5m-11-7.2m-143 33.9m204.6-12.9m-173.5 4.3m198 15.8m-126.1-107.4m115.1 95.5m-172.7-13.7m109.8-5.4m-150.4 20.7m92.8-107m-65.8 93.9m-36.2 18.1m117.8-89m-34.1 20.5m74.3 40.9m24.4 12m-146.2-16.8m-36.2 29.9m89.9-92.1m-48.5 77.2m7.6-2.7m-73.9-.1m25.9 19.9m163.6-22.6m51.9 15m-27.3-83.6m-59.6 25.1m130.9 73.6m-196.9-36.2m118.2 9.3m-150.5-.6m77.6-84m-156.8 76.2m27.3 30.8m183.2-28.5m-74.7-64.5m-13.6 21m35.9-29.1m44.1 73.2m-176.3 38.2m118-114.1m58.3 70.5m-64.1-63m-69.3 106.7m26.8-33.6m-56.5 8.4m192.7-4.8m-84.8-84.6m-62.1 96.5m20.3-20.3m3.2-4.5m114.5-9.6m-1 28m-128.5 8.3m-15-29.4m-38.6 27.3m24.1 2.1m75.7-84.4m-17.5 33.9m26.3-50.6m60.5 79.1m-171.1 23.5m-11.9 6.9m31.9-.5m-29.1-3.4m265.8-6.3m3.9-.3m-194.5-26.9m-73.7 40.8m281.7-12m-289 5.7m117.7-97m56.6 61.6m39.4-55.8m-192.6 77.2m179.2-.8m-77.5-91.6m-53.5 84.4m120.3-5m-170.7 16.3m-14.4-.2m137.7-77.8m-38.2 16.6m10.2-13.8m-21.7 29.6m-64.4 54.9m141.8-35.5m-14.6-25.2m49.9 48.2m-15-8.4m-158.3 25.2m186.5-88.3m-179.7 82.7m22.9-4.1m136.6-16.5m.3-2.8m-100.6-31.2m-6.1 2.9m49.2-26.5m-29 .8m56.1 35.7m78.7 40.7m-98.5-76.8m-29.2-15.1m20.3 3.7m-33.2 10.6m-57.6 77.7m135.8-24.8m-182.1 28.5m184.2-22.7m-127.1 9.5m117.2-23.3m26.5 8m-14.1 3.9m22.2-.4m-205.9 19.9m72.8-19.5m146.5 10.3m-46.4-11m-12.6-29.3m82.9 45.2m-133.8-80.1m-83.8 71m54.4-26.3m109.5 23m-58.3-73.7m80.2 3.7m-54.1 35.5m-132.4 33.4m-27.1 27.9m228.8-29m-93.6-76.2m42.3 75.9m59 17.7m-34.1-23.3m-157.2 14.4m193.5 7.4m-105.8-90.9m66 87.5m-190 4.8m193.6-16.1m-63.8-52.9m-28.5-11.1m8.6-19.5m-3.1 11.9m-101.7 92.5m263.1-13.9m-203.7-25.2m-76.2 23.1m142.2-69.8m2.4-8.4m59.8 75.6m-169.2 3.1m13.2-16.5m210.5 31.8m-170.6-35.9m-25 18.8m-14.8 23m103.1-71.9m17.9 28m46.5-60.3m-137.2 64.5m-94.4 30.1m20.4 6.7m68.5-29m-33.2 4.3m94.9-77.1m39.3 71.3m-170.6 36.6m230.6-24.7m-234.7 13.8m.6-3.5m98.6-56.7m31.1-46.1m-28.4 40.7m-5.6 15.6m90.8 26.5m-85.3-33.7m81.4 30.4m-192.6 34.1m209.5-26.8m-124.6-4.9m77.4-45.8m62.3-33.9m-89.4 .5m49.2 71.1m-166.4 43.9m271.6-11.4m-227.6-17.9m112.8-23.9m64.1 42.8m-76.5-62.1m28.8 36.3m-17-22.9m65.1 48.2m-177-21m203.4 11.3m-185.8-13.9m-33.8 17.8m62.2-51.1m71.9 8.9m-13.1 .9m-193.4 61.7m273.5-26.2m-207.6-5.1m68.6-47.5m-50.7 47.2m151.8-1.2m-152.8 26.4m15.6-38.5m5.6 20.5m137.2-10.2m57.8 4.9m-20.9 11.7m-137.5-62.1m144.6 61.9m-36.3-16.7m-181.3 18.9m134.4-39.8m15.3 15.9m-181 23m189.6-25.2m-190 33.3m7.5-14.4m87.4-39m-34.1 43.8m107.1-44.3m98.7 37.1m-230.7 11.2m201.9 6.5m-84.6-70.1m-85.8 43.7m125.4-2.3m-220.8 17.2m6.7 7.6m213.1-15.4m2.9-1m-157.9-1.9m-32.1 31.7m61.7-37.1m-42.2 24.2m-42.6 15.3m146.1-133.3m3 5.4m-4.4 9.6m-95.6 89.5m51.7-18.2m81.6-13.6m7.3 6.1m108.1 20.9m-231.7 1.4m-10.9 8.9m22.2-5.4m67.5-94.6m77 86.4" marker-start="url(#cG)" marker-mid="url(#cG)" marker-end="url(#cG)"/><path stroke="#000000" d="M176.1 134.1v9m-137.7 61v26.9m85.3-47.4v29.6m36-42.5v17.6m98.9-4.3v10.4m-223.6 4v28.8m98.2-53.4v26.2m-67.2 2.3v23.4m97.1-64.7v11.9m-82.4 24.8v34.3m15.6-31.2v16m-50.9-11.1v21.6m48.5-33.8v21.6m108-111.3v10.7m150.7 70.5v28.1m-129.8-68.5v13.1m-35.5-43.2v11.8m77.8 51.6v17.3m-28.5-26.2v8.5m-150.1 12v24.9m-34.5-10v22.6m294.5-33v17.1m-49.3-12.2v19.4m-20.8-28.6v10.6m-97.1-79v13.1m176.3 62.9v28.1m-174.9-101.4v17.7m-122 44.6v36m31.5-24.2v31.9m64.1-59v15.3m42.9-95.1v11.7m-47.1 70.3v12.6m194.9 12.4v16.5m-60.2-140.1v3.9m-122.2 77.2v17.7m-35.4 21.7v19.3m-53-15.2v23.5m33.2-28.6v20.3m65.1-79.5v13.8m-19.1 23.5v12.9m-6.6-8.4v10.6m135.1-5.1v14.4m-184.9-11.4v42.7m156.9-48.5v11.5m39.5-.7v21.3m-27.6-27.4v10.2m-12.4-11v10.7m-216 8.7v24.2m199.7-64.5v13.2m-98.2-19v28.8m-54.5-4.6v31.3m262.2-4.7v17.2m-71.3-40.1v12.3m-93.8-80v13.3m167.5 69.6v22.9m-301.9-9.6v17m244.9-76.1v14.5m43.5 24v17.7m-264-13.4v16m260.6-29v22.3m-153-77.6v13.6m98.4 47.1v12m-120-32.1v9.6m-41.5-5.9v44.9m2.9-33.9v32.8m205.7-27.5v20.6m-216.8-24.6v35.6m183.1-206.6v3.9m-239.5 187v26m187.8-62v12m-160.2 16.3v32.5m197.5-37.6v16.7m-233.4 7v34.4m54.1-58.6v22.2m38-35.5v16.2m163.3 8.4v18.1m-43.5-40.8v13.3m-59.4-93.9v11.1m46.7 61.6v14.5m-9.4-25.6v14.1m26 11.1v12m-183 3.3v22.1m160.6-61.4v11m23 13.9v13.1m22.5-78.2v24.2m-183.5 42.3v28.9m136.1-54v10.8m-108.7 26.5v13.9m33.5-49.8v16.5m15.7-50.3v19m-96.2 67.4v28.1m256.5-57.1v27.1m-154-90.3v9.5m-63.8 59.2v34m-85.2-21.3v16.2m256.7-196.3v3.2m-91.1 67.8v10.5m2.9-7.7v8.6m-97.2 71.5v29.1m11.3-26.8v27.5m-79.4-9.2v15.5m249.7-90v7.4m51.9 70.5v22m-147-113.5v10.4m-52.4 53.5v30.1m-44.1-17.7v20.2m254-8.6v16.2m-127.8-78.9v14.6m-54.8 8.2v9.9m-132.8 38.6v20.4m14.5-35.4v27.9m-2.6-19.1v28.3m55-32.5v18.2m81.8-92.1v10.2m-103.6 62.6v34.9m-37.3-20.7v24.7m155.1-136.9v10.8m37.6 46.8v11.1m48.5-37v20.7m-47.9 11.7v9.9m-93.7-3v35m-30.4-11.8v15.8m-60.4-9.4v28.3m287-37.1v30.4m-67.7-34.4v15.5m20-134.9v3.9" marker-start="url(#hK)" marker-mid="url(#hK)" marker-end="url(#hK)"/><path d="M176.1 138.6m-137.7 78.9m85.3-19.1m36-18.9m98.9 9.7m-223.6 23.6m98.2-25.9m-67.2 27.1m97.1-47m-82.4 47.8m15.6-6m-50.9 7.7m48.5-12.2m108-95.1m150.7 89.9m-129.8-47.9m-35.5-30.8m77.8 66.1m-28.5-13.3m-150.1 28.7m-34.5 13.8m294.5-13.2m-49.3 6.1m-20.8-13.5m-97.1-67.3m176.3 83.5m-174.9-78.5m-122 71.5m31.5 9.7m64.1-35.3m42.9-81.7m-47.1 82.5m194.9 27m-60.2-130m-122.2 88.1m-35.4 40.1m-53 6.3m33.2-6.7m65.1-62.5m-19.1 36.8m-6.6 3.4m135.1 7.4m-184.9 17.2m156.9-21.5m39.5 15.7m-27.6-11.6m-12.4-.6m-216 26.2m199.7-45.8m-98.2 2.1m-54.5 25.3m262.2 19.6m-71.3-25.3m-93.8-67.3m167.5 87.7m-301.9 10.4m244.9-60.4m43.5 40.2m-264 3.4m260.6-9.8m-153-59.7m98.4 59.9m-120-21.3m-41.5 21.3m2.9 5m205.7-.8m-216.8 3.5m183.1-186.9m-239.5 202m187.8-43m-160.2 38.6m197.5-13.1m-233.4 32.5m54.1-30.2m38-16.3m163.3 25.6m-43.5-25.1m-59.4-81.8m46.7 74.5m-9.4-11.4m26 24.2m-183 20.3m160.6-44.8m23 25.9m22.5-59.5m-183.5 68.9m136.1-34.2m-108.7 38.9m33.5-34.7m15.7-32.5m-96.2 91m256.5-29.5m-154-72m-63.8 80.9m-85.2 3.8m256.7-186.6m-91.1 74.6m2.9 1.9m-97.2 90.3m11.3 1.6m-79.4 12.2m249.7-78.5m51.9 85.2m-147-97.3m-52.4 73.8m-44.1 7.4m254 9.6m-127.8-63.5m-54.8 20.5m-132.8 53.7m14.5-11.2m-2.6 8.9m55-9.2m81.8-77.9m-103.6 85.2m-37.3 9m155.1-119.1m37.6 57.7m48.5-21.1m-47.9 27.1m-93.7 19.3m-30.4 13.7m-60.4 12.7m287-7.8m-67.7-11.5m20-125.2" marker-start="url(#cK)" marker-mid="url(#cK)" marker-end="url(#cK)"/><path stroke="#ff0000" d="M84 184.6v37.7m145.2-69.2v11.2m-162.4 14.1v56m-26.3-37.2v26.4m179.8-88.1v14.4m-82.4 15.5v37.8m5.5-37.6v34.7m125.6-19.6v26m-126.7-36.5v39.4m97.1-56.1v25.4m-194.6 5.6v40.6m1-25.1v28.7m188.5-67.8v14.6m62 1.6v33.6m-210-9.2v34m-52.3-48.3v30.5m16.5-27v54.8m90.3-71.6v27.8m24.9-49.7v18m84.8 4.7v23.6m-22.6-51.5v18.8m15.4 6.7v13.1m-139.2 25.2v32.4m140.6-73.1v18.7m-202.5 3.5v33.5m246.3-146.7v6.7m4.6 101.9v24.9m28.9-32v30.1m-55.5-19.8v13.5m-106.4-50.9v25.4m18-63v20.8m101.2 38.1v24.2m-198.8-5.2v40.4m122.8-126v14.1m-162.5 67.4v36.7m17.7-41.2v52.6m57.7-35.2v27m28.5-52.2v18.1m-94.1 14.5v23.9m188.6-76.3v21m-78.1-20.3v19m92.1 3.7v18.7m-193.7-16.7v42.9m92-54.7v18.6m-55.8 6.2v26m145.6-62.6v21.3m-164.9 12.7v47.7m244.1-53.8v29.9m-53.3-40.4v23.2m-126-31.1v30.3m-37.3-15.4v30.9m228.3-48.6v44.9m-194.1-43.2v36m-55-19.2v35.1m82.5-63.3v23.9m127.5 10.7v21.9m-234.1-6.1v65.2m-15.5-52.3v40m60.6-77.1v55.5m-46.3-45.9v49.7m206.4-53.3v15.5m-113.1-29.9v17.2m89.6-24.8v17.4m-17-43.8v27.1m-187.9 30.7v41.9m34.5-42.2v29.9m185.9-52.6v20.5m-141.8-5v38.3m-32.8-16.2v28.7m100.2-122.4v14.1m25-20.3v13.7m-132.9 54.3v33.9m-41.7-13.2v34m319.4-26.2v37m-105.7-68.7v17.2m69.1 8.4v23.7m-182.4-37.6v39m15.5-43.5v16.4m69.6-61.6v25.3m-72.2-4.4v35.3m187.3-15.2v43.8m-19.5-35.4v29.3m-118.2-118.1v21.7m1.8-22.9v24m160.6 61.6v36.5m-288.8-27.5v37.2m36.5-35.6v42.9m83.1-125v15.1m91.9 48.6v17.6m-147-16v62.6m189.3-60.7v44.6m-289.2-21.7v52m222.1-83.6v28.4m-31.8-55.3v18.4m21.6 7.1v26m-115-13.9v38.8m166.2-23.1v25m58.9-55.5v46.6m-75.7-42.7v22.3m-68.2-78v24.3m-61.6 32.3v20.8m-76.8 1.6v28.3m114.4-108.6v11.3m-17 16.2v21.4m162.8 20.2v30.4m-133.2-110.6v19.7m-147.6 82.5v31.2m194.3-74.1v27.2m-112.2 8.5v34m126-55.1v16.1m-58.6-91.9v18.1m-.3-19.8v21.8m-68.3 31.7v42.5m87.9-59.9v19.4m-20.6-60.1v18.9m-148.2 95.4v25.5m29.2-28.2v29.3m182-45.8v21.1m-166.6-35.4v38.4m172.6-23.1v23.7m-162.6-21.5v30.4m145.2-44.3v17.1m61.1-16.1v40.1m-120.9-125.2v21.5m-34.7 48.5v17m-17.2-9.5v28.6m4.4-27.6v35.8m-97.1-22v35.3m200.4-42.9v14.6m-25-54.5v30.9m-127.8 22.3v24.6m-44.8-25v32.7m62.5-37v55m151-65.4v27.3m-155.2-14.7v29.4m78.2-114v21.5m158.8 84.8v28.3m-268.5-38v45m-8.1-52.7v33.2m278.3-33v37m-298.6-34.4v40.7m293.5-44v27.4m-308-26v29.7m5.6-30.6v50.9m1-42.7v40.1m218.8-68.3v23.3m-204-8.2v50.9m236.4-89.5v12.4m-158.9 8.7v47.5m-58.6-13.8v40m84.2-79.1v14.5m44.6-69v23.7m65.8 31.3v39.6m-16.7-37.2v19.8m20.2-1.9v19.5m-238.7-.8v42.2m5.9-64.6v43.3m91.4-61.8v53m-51.6-46.6v35.2m225.6-24.9v46.7m-12.6-37.2v26.4m52.7-28.9v38.7m-306.9-64.6v59.6m-1.9-28.1v29.6m44.9-33.9v35.8m120.8-131.3v19.1m-170.3 62.5v36.1m223.7-25.3v27.8m-104-48.5v16.6m-19.5-9.1v36.6m94.2-62.6v12.2m105.8 12v36.4m-143.8-103.8v23.3m-30 41.7v23.7m-43.5-13.4v59.4m203.5-60.6v30.2m-10.2-14v17.7m-65-47.4v17.8m-148 9v29.3m230.2-39.8v33.4m-277.8-26.8v39.1m221.2-53.9v29.4m-19.4-19.7v20.2m-57.2-97.7v13.7m107 69.4v43.1m24.6-42.1v27.4m-55.2-34.9v34.5m-162.9-49.2v39.1m53.4-55.7v23.7m69.4-22.8v20.8m93.3 5.8v35.7m-168.7-42.9v14.1m-61.5-26.1v49.5m90.2-83.5v17.6m-49.6 20.7v46.3m25.8-56.6v22.5m-116.1 9.3v46.4m98.4-59.8v34.3m12.8-38.1v16.8m-96.9 10.8v31.4m125.8-123.7v21.2m88.3 47.3v34.6m-87.8-94.8v23m170 53.7v26.8m-301.9 4.4v27.6m51.1-41.5v45.3m83.5-140.9v17.3m-7.2-6.2v20.7m174.4 44.2v29.5m-174.4-86v16.5m2.2-27.4v22m-33.6 34.6v25.6m58.3-101v20.6m-151.7 61.6v39.7m15.1-21.4v33.7m-30.6-59.9v44.6m27.3-36.3v38m14-33.5v36.7m127.7-114.2v21.1m-43 31.2v26m-128.4 15.5v46.1m24.2-60.5v47.8m36.4-68.3v45.1m66.4-63v16.6m-57 9.6v45.9m-61-27.6v31.2m85.3-75.4v74.5m-90-24.5v29m247.6-212.7v2.4m53.5 189.2v28.1m-152.9-139.1v17.8m153.8 87.4v25.7m-276-24.8v30.4m11.6-24.5v29.4m128.3-130.7v17.5m3.4-16.4v28.8m104.5 1.1v56.9m-75.1-27.2v19m-5.7-28.6v11m-86.4-11.1v25.2m-57.1-4.1v44.1m33.7-55.7v52.7m-15.8-38.8v43.2m-23.2-35.9v27.3m-40-20.1v44.3m198-75.3v17.3m15.3-2.6v13.8m-183.5-39.8v75.2m44.5-63.8v54.1m-12.9-21.9v44.9m-39.5-40.1v44.2m250.1-66.3v33.3m-113.2-106.5v22.6m-99.3 46.3v41.9m162.1-30.9v14.9m-119.6-25.7v29.7m111.2-13v19.6m-204.2-22.2v43.2m103.4-55.8v21.1m-58.4 4.8v32.4m-20.8-35.1v48.2m217.5-59.3v32.3m-250.1-21.8v41.8m289.1-64.6v50.9m-89.6-77.1v24m-128.3 16.6v48.4m83.6-142.2v11.5m-49.3 52.3v31.2m63.5-74.7v23.7m-19.1-42.1v18.9m-148 83.8v54.1m241.2-243.4v3.9m-136.5 158.5v15.6m-42.6-10.7v34m63.3-83.5v35m131.5 13.8v35.5m-129.3-83.4v17.8m-58.4 37.9v28.7m235-26.3v40m-59.2-83.9v16.3m-76.2-37.4v25m-132.8 20.5v39m80.4-49v21.8m89.3 3.7v13m-148.6-3v23.1m3.1-46.6v36.8m194.1-16.4v33.8m-179-43.3v32.1m204.3-22.9v32.5m-41-145.4v6.2m-80.4 20v13.5m-126.4 72.3v34.5" marker-start="url(#hR)" marker-mid="url(#hR)" marker-end="url(#hR)"/><path d="M84 203.5m145.2-44.9m-162.4 47.8m-26.3 4m179.8-67.7m-82.4 41.6m5.5-1.4m125.6 10.8m-126.7-3.8m97.1-23.6m-194.6 38.5m1 9.6m188.5-46.2m62 25.7m-210 24.6m-52.3-16m16.5 15.5m90.3-30.2m24.9-26.8m84.8 25.6m-22.6-30.4m15.4 22.6m-139.2 48m140.6-47.6m-202.5 29.7m246.3-126.7m4.6 117.7m28.9-4.4m-55.5 2m-106.4-31.5m18-39.9m101.2 60.6m-198.8 27.1m122.8-98.8m-162.5 92.9m17.7 3.3m57.7 4.7m28.5-29.7m-94.1 35.6m188.6-53.9m-78.1-.3m92.1 22.5m-193.7 14.2m92-24m-55.8 28.6m145.6-39.1m-164.9 47.2m244.1-15m-53.3-13.8m-126-4.3m-37.3 15.2m228.3-10.7m-194.1-2.9m-55 16.4m82.5-33.8m127.5 33.7m-234.1 37.4m-15.5 .3m60.6-29.4m-46.3 6.8m206.4-20.7m-113.1-13.7m89.6-7.4m-17-21.5m-187.9 65.2m34.5-6.3m185.9-27.5m-141.8 24.5m-32.8 17.3m100.2-101m25-6.4m-132.9 78.1m-41.7 20.7m319.4 9.3m-105.7-41.6m69.1 28.9m-182.4-6.3m15.5-15.9m69.6-40.7m-72.2 26m187.3 24.3m-19.5 1.1m-118.2-92.5m1.8-.1m160.6 91.8m-288.8 9.4m36.5 4.5m83.1-96.1m91.9 65m-147 24.1m189.3-7.1m-289.2 26.6m222.1-43.4m-31.8-31.9m21.6 29.3m-115 18.5m166.2 8.8m58.9-19.7m-75.7-8.2m-68.2-54.7m-61.6 54.8m-76.8 26.2m114.4-88.8m-17 32.6m162.8 46m-133.2-85.6m-147.6 108m194.3-44.9m-112.2 39.1m126-30m-58.6-74.8m-.3 .1m-68.3 63.8m87.9-28.9m-20.6-40.9m-148.2 117.6m29.2-.9m182-20.5m-166.6-5.7m172.6 7.9m-162.6 5.6m145.2-20.6m61.1 12.6m-120.9-94.4m-34.7 67.7m-17.2 13.4m4.4 4.5m-97.1 13.5m200.4-17.9m-25-31.7m-127.8 50m-44.8 3.7m62.5 6.8m151-24.2m-155.2 13.6m78.2-88.6m158.8 109.8m-268.5-1.4m-8.1-13.6m278.3 2.1m-298.6 4.5m293.5-10m-308 2.5m5.6 9.7m1 2.9m218.8-36.7m-204 28.9m236.4-57.8m-158.9 38.6m-58.6 30m84.2-51.8m44.6-49.9m65.8 62.9m-16.7-7.5m20.2 17.8m-238.7 30m5.9-21.9m91.4-13.6m-51.6-2.5m225.6 16m-12.6-.7m52.7 3.7m-306.9-15.4m-1.9 16.5m44.9-1.2m120.8-103.9m-170.3 90.2m223.7 6.6m-104-26.3m-19.5 17.4m94.2-38.1m105.8 36.3m-143.8-74m-30 65.3m-43.5 28.1m203.5-15.8m-10.2 9.9m-65-29.6m-148 32.5m230.2-8.4m-277.8 9.4m221.2-19.6m-19.4 5.1m-57.2-80.7m107 97.8m24.6-6.9m-55.2-4m-162.9-12.4m53.4-24.3m69.4-.5m93.3 34.1m-168.7-18m-61.5 5.6m90.2-49.9m-49.6 52.6m25.8-22.2m-116.1 43.8m98.4-19.5m12.8-12.5m-96.9 34.9m125.8-97.4m88.3 75.2m-87.8-66m170 78.6m-301.9 31.6m51.1-5m83.5-109.6m-7.2 12.8m174.4 69.2m-174.4-63m2.2-8.1m-33.6 58.4m58.3-77.9m-151.7 91.7m15.1 15.4m-30.6-20.8m27.3 5m14 3.8m127.7-85.3m-43 54.9m-128.4 51.5m24.2-13.5m36.4-22m66.4-32.1m-57 40.8m-61 11m85.3-22.5m-90 27.1m247.6-196.9m53.5 204.5m-152.9-116.2m153.8 109.2m-276 3.2m11.6 5.4m128.3-107.3m3.4 6.8m104.5 43.9m-75.1 10.7m-5.7-13.5m-86.4 7m-57.1 30.5m33.7-7.2m-15.8 9.1m-23.2-.6m-40 15.6m198-44.4m15.3 12.9m-183.5 4.7m44.5 .8m-12.9 27.7m-39.5 4.5m250.1-27.6m-113.2-78.6m-99.3 78.6m162.1-2.6m-119.6-3.4m111.2 11.6m-204.2 9.3m103.4-23.6m-58.4 31.5m-20.8 5.2m217.5-19.1m-250.1 15.3m289.1-18.2m-89.6-39.7m-128.3 52.9m83.6-112.3m-49.3 73.6m63.5-47.2m-19.1-20.9m-148 120.3m241.2-214.4m-136.5 168.3m-42.6 14.1m63.3-49m131.5 49m-129.3-56.7m-58.4 61.1m235 8.1m-59.2-55.8m-76.2-16.7m-132.8 52.5m80.4-18.6m89.3 21.1m-148.6 15m3.1-16.6m194.1 18.9m-179-10.3m204.3 9.4m-41-126.1m-80.4 29.8m-126.4 96.3" marker-start="url(#cR)" marker-mid="url(#cR)" marker-end="url(#cR)"/><path stroke="#0000ff" d="M134.6 186.9v56.9m-61.3-47.3v25.5m-23.2-14v28.7m77.2-109.7v83.1m148.9-25v19.4m-84.2-104.6v16.5m124 54v45m-118.1-112.2v16.9m138.2 86.5v19.1m-264.5-28.3v43.5m187.2-70.9v31.4m-72.3-99v16.3m67 49.4v31.5m-220.7 4v27.4m164.3-134.5v22.6m-155.5 79.5v29.3m166.2-114.3v17.2m11.4 6.3v18.7m57 29.3v15.9m-160.9-4.9v24.7m155.9-32v21.9m-192.7-12.8v33m-39.6-24.2v34.7m213.9-58.9v18.9m-74-75.2v13.8m-32.7 40.7v26.2m-60.2-34.4v40.7m63.4-44.6v13.9m3.1-8.4v15.7m198.7 7.3v33.3m-132.6-91v12.6m68.3-6.4v11.5m-58.1-11.4v19.8m73.1 12.4v35.2m-104.8-127.1v21.1m94-54.1v3.3m-233.1 141.9v30.9m219-44.7v22.5m47.3-20.3v34.6m-38.3-148.3v4.5m-.5 85.9v6.8m7.8 16.4v13.6m-254-3.6v35.6m142.4-116.5v13.2m-124 60.7v35.3m-17.3-30.9v45.3m128-91.2v11.7m-19 14.4v12.9m-115.7 .1v36.8m254.2-197.3v4.6m-218.1 171.6v43.3m-38.5-57.4v28.7m260.4-58.4v13.5m-153.7-3.2v29.2m12.9-24.7v15.8m-22.5 6.2v33.8m81.6-116.9v25.7m-113 56.3v25.6m-38-26.1v40.4m75.2-69.3v35.5m-60.2-5.2v33m231-29.2v21.9m-190.3-22v46.1m236.5-46.2v32.2m-309-34.5v30.6m132.3-96.7v16.5m114.2-41.9v9m-169.2 63.9v42.1m11-87.5v86.3m222.9-29.6v41m-117.1-57.6v16.2m54.2-172.3v3.8m-115.3 112.6v15m166.8 27.6v37.6m-262.9-7v39.1m263.5-53.7v29.1m-146.9-143.5v32m4.2-10.9v20.7m118 71.9v25.7m-270.9-22.5v41.3m171.2-107.9v26.9m-134.9 52.6v23.9m210.3-52.3v34.1m-126.4-73.7v17.9m29.3-68.9v26.2m-19.2 5.7v29.8m125.6 31.6v33.6m-210.7-17v21.9m93.8-100.7v16.1m-44.6 35.7v28.8m115.1-19.5v13.3m-165.5-11.8v28.8m82.3-72.3v11.5m-121.7 57.3v33.1m127-111v12.4m-54.9 39.6v30.2m143.2-52.1v39.5m2.3-40.5v59.6m-181-36.5v33.4m-47.6-21.6v37.3m205.9-45.2v16.5m-55-102.2v16m7-23v25m-6.2-15.7v14.7m-71.6 70v32m227.4-1.5v37.5m-14.3-65.3v41.1m-156.7-111.2v20.4m-121.3 65.6v31.4m159.6-103.1v20.2m-5.7-39.2v17.8m-78.1 47v74.6m156.1-165.6v9.1m-116.3 41.2v17.7m186.9 39.8v34.1m-167.8-126.6v19.1m-117.9 85.6v36.3m-18.5-48.6v35.1m299.6-30.5v38.3m-182.9-100.4v19.1m-118.7 41.9v29.2m155.6-116.2v16.1m42.6 48.2v19.5m-118.8-41.7v85.1m1.5-84v68.1m-88.8-29.2v31.3m191.9-65.8v19.6m-33.4-73.1v8.7m-145.6 97.8v34.8m71.5-73.7v54.9m-40.4-38.3v18m64-35.3v21.1m-1.2-29.5v28m129.2-57.1v23.5m-232.2 51.6v18.9m257.6-31.5v28.3m-104.6-130.3v16.9m19.1 20.6v18.7m128.6 56.6v29.2m-76-56.5v23.5m18.2-154.1v4.8m-122.3 77.4v32.1m124.7-3v36.4m-86.3-104.8v23.7m-170.6 82.4v30.8m16.8-57.9v51m-1.5-30.3v46.9m150.7-143.4v20.3m-4.6-30.3v23m-17.9 5.6v18.2m16.2-33.3v23.8m8.4-18.9v21.9m112.1 69.4v38.3m-26.1-217.2v3.5m-24.4 162.6v18.2m-12.1-25.7v22.4m98.7-17.1v37.9m-53.8-24.9v32m-256.3-26.3v45.8m230.2-69.9v13.8m-230.1-1.9v34m98.5-43.2v42.3m98.4-67.2v22.7m92.6 23.1v40m-47.4-179.6v5.4m-252.6 137.3v66.4m257.7-250.3v2.8m3.1 139v10.4m-92.1-76.1v14.5m-156.5 93.6v18.9m11-37v42.3m-1.7-14.6v39.1m141.1-152.2v14.4m157.3 93.8v36.2m-68.3-142.1v5.9m-171.5 76.1v36.7m142.6-43.1v26.1m15.2-15.5v20.3m-167.2-14.5v34.6m183.2-116.1v6.6m54.3 69.5v41.4m-259.9-28.4v38.6m234.5-45v19.6m-50-29.2v14.5m-66.9-116.8v34.8m119.4 68.6v33.7m-37-39.8v18.6m-84.4-108.3v34.9m-72.7 58.9v39.3m98.5-77.2v11.1m-189.6 38v30.8m1.2-35.5v41.9m119.3-69.4v24.1m34.7-83.2v16.3m90.4 68.9v16m-45.7-54.3v15m-17.6-40.7v11.8m36.2 39.5v17m100.2-3.7v29.8m-303-7.9v36.4m239.1-128.1v15.1m-82.7-37.3v12.4m113.1 87.7v23.7m-272.7-24.4v30.2m222.9-47.8v20.9m-212.8-15.1v41m144.1-149.5v34.7m-24 15.7v17.6m91.1 36.1v14m83.1-5.2v31.8m-221.4-52.4v32.9m103.3-52.1v17.4m45.5 19.1v15.6m-23.7-25.9v14.2m-68.8-67v15.3m9.9-34v16.5m-138.5 92.1v44.8m-17.6-53v59.2m223.8-82.8v25.3m-16.6-37.2v20.8m96.9 13.7v21.9m-226.9-41v31.8m-62-27.3v52.5m170.9-89.6v13.1m-58.5-20.4v27.7m91.8 8.2v22.4m9.6-22.7v42.4m-42.2-80.3v20.1m-72.9 3v20.7m-16.8 1v29.1m-79.3-39.5v37.9m57.7-28.7v45.6m151.9-58.3v17.1m72.4 19.9v17m-110.2-96.9v30.2m-55.1-23.7v12m-2.7-5.1v12.6m122.4 22.2v20.6m-47.3-22.3v18.1m-118-23.4v72.1m-85.8-33v33.1m30.1-74.7v40m257.3-28v32.3m-220.9-30.7v32.7m179.5-102.6v9.1m4.3 39.7v9.1m-91.6-91.1v24.5m83.9-8.6v8.6m-225.9 84.7v41.4m138.8-140.6v21.2m-66 53.2v64.4m196.3-35.6v23.5m-165.1-70.1v17.5m126-56.9v8.6m-217.8 90.9v25.9m222.4-57.6v10.8m-1.5-156.5v3.1m-92.5 63.9v12.2m-65.3 67.7v49.2m-73.9-37.6v36.9m288.1-43.2v49.1m-40-64.1v47.6m-21.5-119.9v6.4m-179.1 96.1v41.9m191-49.1v29.5m-81.6-88.1v22m-43.5-20v19.3m-81.1 53.1v30.8m150.2-63v12.5m-148.4-4.1v29.1m177.6-33.2v42.6m-61.9-110v17.1m-155.2 72.6v29.1m-11.2-40.1v27.2m10.4-9.5v27.2m-7.3-52.6v45.6m97.2-58.5v36.9m-3-39.6v31.2m-100.5-19.2v43.6m262.9-35.1v25.6m30.7-13.2v34.9m-230.7-45.6v44.5m56.9-68.1v13.4m-75.3-26.2v51m91.6-63.6v11.4m-59.6 32.6v40.4m138.8-43.5v17.1m-10.9-26.1v14.7m-59.9-76.4v16.1m108.2 39.6v15.2m-157.7-10.4v46.9m34.9-73.4v20.2m29.6-73.6v23.9m62 63.1v16.5m-5.6-13.9v12.2m-134.3-7v28.4m225.2-17.1v17.5m-106.7-55.6v16.9m-112.6 3.5v70.7m2.9-73.5v46.5m224-30.1v33.7m-305.9-38.4v40.8m168-91.9v10.6m103.7 54.1v40m14.5-58.7v29.4m-259.1-19.5v32.4m-21.3-34.9v30.3" marker-start="url(#hB)" marker-mid="url(#hB)" marker-end="url(#hB)"/><path d="M134.6 215.4m-61.3-6.1m-23.2 13m77.2-53.8m148.9 26.3m-84.2-86.7m124 84.8m-118.1-81.3m138.2 104.6m-264.5 3m187.2-33.5m-72.3-75.2m67 73.3m-220.7 33.5m164.3-109.5m-155.5 105.5m166.2-91m11.4 24.1m57 46.7m-160.9 15.3m155.9-8.6m-192.7 14.6m-39.6 9.6m213.9-32.1m-74-58.8m-32.7 60.7m-60.2-1m63.4-17.3m3.1 6.4m198.7 31.8m-132.6-68m68.3 5.6m-58.1 4.3m73.1 39.9m-104.8-99m94-41.9m-233.1 159.1m219-18m47.3 8.2m-38.3-128.7m-.5 91.4m7.8 26.7m-254 21.1m142.4-92.2m-124 85m-17.3 9.3m128-62.7m-19 26.8m-115.7 24.9m254.2-176.6m-218.1 195.5m-38.5-21.4m260.4-37.2m-153.7 18.1m12.9-2.2m-22.5 31m81.6-87.2m-113 81.9m-38 7m75.2-31.3m-60.2 29m231-1.8m-190.3 12m236.5-7m-309-3m132.3-73.3m114.2-29.1m-169.2 89.4m11-23.2m222.9 34m-117.1-29m54.2-162.4m-115.3 122.1m166.8 53.9m-262.9 31.4m263.5-19.7m-146.9-112.9m4.2 15.5m118 95.1m-270.9 11m171.2-73.8m-134.9 78m210.3-23.3m-126.4-47.8m29.3-46.8m-19.2 33.7m125.6 63.3m-210.7 10.8m93.8-81.7m-44.6 58.1m115.1 1.5m-165.5 9.4m82.3-52.3m-121.7 79.6m127-88.2m-54.9 60.9m143.2-17.2m2.3 9m-181 10m-47.6 13.8m205.9-18.3m-55-86m7-2.5m-6.2 4.2m-71.6 93.3m227.4 33.3m-14.3-26m-156.7-80.5m-121.3 91.5m159.6-77.3m-5.7-20.3m-78.1 93.3m156.1-123.8m-116.3 54.7m186.9 65.6m-167.8-100m-117.9 113.4m-18.5-13m299.6 6.2m-182.9-71.7m-118.7 66.1m155.6-93.5m42.6 65.9m-118.8 10.7m1.5-7.5m-88.8 20.5m191.9-40.3m-33.4-59m-145.6 119.6m71.5-28.9m-40.4-1.9m64-15.6m-1.2-5.1m129.2-31.2m-232.2 72.7m257.6-7.8m-104.6-107.7m19.1 38.3m128.6 80.6m-76-30.2m18.2-139.9m-122.3 95.9m124.7 31.2m-86.3-74.8m-170.6 109.7m16.8-17m-1.5 18.7m150.7-109.9m-4.6-8.6m-17.9 26.2m16.2-12.3m8.4 4m112.1 99.5m-26.1-196.3m-24.4 173.4m-12.1-5.4m98.7 13m-53.8 10.2m-256.3 12.5m230.2-40.1m-230.1 22m98.5-5.1m98.4-34.7m92.6 54.5m-47.4-156.8m-252.6 173.1m257.7-215.7m3.1 145.6m-92.1-63.7m-156.5 110.3m11-6.3m-1.7 26.1m141.1-125.5m157.3 119.1m-68.3-121.1m-171.5 97.5m142.6-11.8m15.2 7.8m-167.2 12.9m183.2-95.5m54.3 93.5m-259.9 11.6m234.5-15.9m-50-12.2m-66.9-92.1m119.4 102.9m-37-13.7m-84.4-81.6m-72.7 96.1m98.5-52.1m-189.6 59m1.2 .9m119.3-36.4m34.7-63.1m90.4 85.1m-45.7-38.8m-17.6-27.2m36.2 53.8m100.2 19.7m-303 25.2m239.1-102.4m-82.7-23.5m113.1 105.8m-272.7 2.5m222.9-22.2m-212.8 15.8m144.1-111.7m-24 41.9m91.1 51.9m83.1 17.7m-221.4-20.1m103.3-26.9m45.5 35.6m-23.7-11m-68.8-52.2m9.9-18.2m-138.5 122.8m-17.6-1.1m223.8-40.5m-16.6-14.1m96.9 35m-226.9-14.1m-62 14.8m170.9-56.8m-58.5 .1m91.8 33.2m9.6 9.7m-42.2-49m-72.9 23.3m-16.8 26m-79.3-6.1m57.7 13.1m151.9-26.9m72.4 36.9m-110.2-73.3m-55.1-2.6m-2.7 7.2m122.4 38.8m-47.3-3m-118 21.8m-85.8 19.5m30.1-38.1m257.3 8.1m-220.9 1.9m179.5-81.7m4.3 48.7m-91.6-74.2m83.9 7.9m-225.9 109.7m138.8-109.3m-66 96m196.3 8.3m-165.1-49.5m126-44m-217.8 108.3m222.4-39.4m-1.5-149.5m-92.5 71.6m-65.3 98.4m-73.9 5.4m288.1-.1m-40-15.8m-21.5-92.9m-179.1 120.2m191-13.3m-81.6-62.4m-43.5 .7m-81.1 78.1m150.2-41.4m-148.4 16.7m177.6 2.7m-61.9-80.1m-155.2 95.6m-11.2-11.9m10.4 17.7m-7.3-16.2m97.2-17.3m-3-5.5m-100.5 18.2m262.9-.5m30.7 17m-230.7-5.8m56.9-39.2m-75.3 6m91.6-32.4m-59.6 58.5m138.8-14.7m-10.9-10.3m-59.9-61m108.2 55.3m-157.7 20.7m34.9-39.9m29.6-51.5m62 83.2m-5.6 .5m-134.3 13.3m225.2 5.9m-106.7-38.4m-112.6 47.3m2.9-14.9m224 9.9m-305.9-1.1m168-66.2m103.7 79.4m14.5-24m-259.1 11.5m-21.3-3.6" marker-start="url(#cB)" marker-mid="url(#cB)" marker-end="url(#cB)"/><path stroke="#10a010" d="M87.1 200.4v25.1m-41.6-21.5v19m73.6-44.3v40.7m162.3-62.4v27.4m-31.4-15.1v22.7m-153.6-2.2v31.3m109.4-112.8v16.1m-106.9 83.9v38.8m-7.2-54.5v22.3m-25.2-38.4v38.7m6-25.5v36m118.7-126.2v18.1m-78.1 73.8v32.3m66.8-90.1v12m41.5-.9v12.7m128.7 38.2v38.2m-211.5-61.3v24.5m160.9-18.8v30.9m-18.5-33.4v25m-43-37.6v15.5m-167.7 29v30.8m122.3-138.3v20.2m95.1 40.6v7.3m-110.7-35.7v13.9m76.1 33.5v19.9m-100.1-35.2v16.5m-56.5 12.1v27.9m61.2-61.1v17.6m-50.7 .8v43.4m21.9-55.1v46.5m-47.2-30.3v47.3m15.3-33v32.6m172-48v31.4m-130.6-28v44.4m20.4-61.7v21.6m37.4-97.1v13.6m126.4 90.1v24.9m15.4-29.8v26.4m-58.7-35.3v18.2m-208.7 1.3v50.7m94.6-97.2v15m-64.3 11v31.3m108.6-93.3v14.9m-173.5 58.1v40m179.8-98.1v24.8m61.9 36.7v15.5m-182.7-25.5v40m-37.4-27v23.6m159.2-95.9v16.2m-37.9-11.7v10.5m48.8 3.1v25.6m-131.3 28.2v16.4m47.5-42v17.7m-94 3v25.7m131.9-98.9v17.5m-143.1 41.4v45.5m218.9-42.1v19.1m5.5-35.3v25.2m-45.4-69v27.4m46.8 32.3v25.1m-172.3-21.4v32m-1.9-26v46.8m96.3-120.4v18.3m126.5 70.2v39m-119.2-153.9v20.3m30.1 32.5v12.8m-81.6 32.1v28.4m-63.1-6.9v36.9m88.1-101.6v19.5m187.2 25.3v44.2m-274.9-38.8v26m114.9-121.9v13.4m50.8 59.9v16.5m-7.1-22.2v15.1m-144.5-4.1v26.8m-26.1-21.6v24.6m88.6-43.2v15.1m168.4 11.7v23.5m9.2-31.5v36.6m-219.9-55.4v44.8m158.6-16.8v15.9m-4.7-59.2v53.9m-213.8-5.1v40.5m215.8-81v56m-31.5-46.7v11.7m-70.9-29.2v16.4m51.6-30.5v26.1m-186.5 53.7v36.2m56.6-57.2v34.5m92-105.4v15.7m-88.7 52.2v35.2m-57.3-31.2v43.1m168.5-133.9v11.6m137 82.7v28.6m-274.5-46.9v62.8m103.9-100.7v13.2m-34.9 19.8v30.8m159.7-15.2v26.2m-44.7-43.2v20.7m-169.6-26.9v35m112.9-98.6v16.5m47.5 33.8v23.3m-93.1-1.3v21m1.9-30.2v17.9m108.1-13.4v20.6m-150.4-18.2v36.4m141.2-29.9v15.3m-211.7-.2v26m181.9-85.3v18m-95.6 35.8v29.8m82.7-125.4v26.1m-66 41.8v39.2m204.7 6.9v21.5m-173.3-89.1v23.8m116.4-23.8v8.5m8 32.3v41.5m-191.9-35.4v44.9m160-50.6v15.1m-56.3-72.3v23.3m-64.7 38.1v23.3m-57.1-20.6v40.5m109.2-128.2v12.7m-163.8 65.6v31.8m37.7-18.7v27.5m69.6-42.9v24.2m-62-4.8v40.7m31.6-43.7v27.5m150.1-44.8v18.7m-120.6-10.2v32.7m146.2-105.6v8.2m-51.3 38.9v13.2m-165.4 36.4v30.6m122.4-133.9v16.1m-40.6 52.8v19.2m35.6-75.4v11.6m42.1 13.8v15.8m-123.2 37.3v27.4m101.6-113.3v14.8m-75.2 63.1v46.9m-52.9-40.3v28m270.8-22.2v33.5m1.8-49.4v30.6m-264.4-32.3v45.2m114.4-131.9v13.8m-38.8 38.4v13.9m-59.2 29.3v29.5m-28.9-15.3v40.1m49.8-81v43.6m-18.1-24.8v51.9m-38.2-41.1v24.5m23.5-39.9v56.8m52.2-73.7v27.7m54.2-98.3v15.5m82.1 75.9v14.1m77.3-6.7v24m-176.2-91.2v11.7m-79.7 64v33.4m211.5-36.1v29.2m-39.1-43.4v16.8m-200.5-2.2v34.2m95.6-85.9v17.1m-39.4 16v45m51-86.9v16.8m6.6-46.1v18.3m-75.4 41.3v41.3m29.3-34.8v28.3m-99.4 4v33.9m12.8-22.7v42.5m226.7-74.9v20m-196-8.1v22.5m48.6-54.9v40.4m137.1-47.3v47.3m-87-74.9v15.1m-113.6 54.2v32m-10.1-30.1v39.7m88.8-63.3v24.9m32.7-69.7v16.9m176.4 42.2v29.8m-92.2-83.2v61.9m-98.4-50.8v15.8m104.9 25.3v23.1m48.5-25.9v32.3m-223.7-27v29.1m-46.6-22.5v37.2m126.9-111v13.8m-55.6 46.8v43.3m-26.6-30.8v36m42.9-101.7v48.8m43.5-58.1v16m-47.3 42.2v24.6m-9-19.8v65.3m-12.1-75.3v40.6m13-38.9v22.5m195.7-14.5v30.3m-134.4-101.4v14.7m-39.9 42.3v18.3m15.8-32.6v14m95.3 12.8v15.5m-208.2 3.1v36.7m210-55.9v14.7m14.4-10.6v16.9m-170.4-25.6v31.1m139-39.6v11m108.8 31v23.5m-107.2-67.3v16.6m-177 3.1v59m36.3-65.2v38m-8-24.4v24.6m251-31v33.2m-217.7-31.9v28.2m46.6-84.9v17.4m-55 42v52.1m-42.8-47.6v26m67-52.3v20.8m-48.7-9.7v39.3m44.6-49.5v27.4m147.2-54v9.4m-69.9-26.1v13.9m-138.6 69.7v34m243.3-67.3v27.2m-15.9-19.6v17.6m-208.3-7.7v33.7m141.4-59.7v18.6m24.9-5.9v20m-26.9-43.5v14.4m-44.6-75.2v7.8m-104.4 97.4v25.6m210.6-34.9v21.4m-220.8-19.8v24.2m141.3-92.1v14.8m83.9 43.5v20.3m-99.5-110v11.5m56.5 64.7v21.9m-110.2-16.3v11.8m174.9-5.3v29.5m-257.2-17.1v26.8m236-37.4v27.7m-195.9-27.5v27.4m96.9-115.7v13.8m-85.5 67.5v30m80.9-113.1v9.9m-140.2 71.3v26.8m113.3-85.8v18.6m-103.4 53.8v67.3m198.1-86.7v15.9m-188.8-5.1v45.6m127.5-111.9v17.1m-3.4-28.8v13.8m20.6 22.9v13.1m48.9 18v19.6m-179.9-5.5v39m169.2-48.4v22.4m-21-40.7v17m-120.4 9.7v45.8m129.2-53.4v10.6m-135.8-19v56m84.6-129.8v9.9m-140.7 95.1v21m40.1-28v33.9m-22.7-32.8v27.4m192.8-35.5v13.1m-165.2 6.9v31.9m-54-40.3v26.6m57.9-34.2v28m-65.1-19.1v31.8m250.5-62.3v8.1m-131.5-14v13.9m-42 6.7v30.8m104.7-74.7v13.3m16.4 17.3v18.6m-130.2-13.4v32m246.1-14.7v40.1m-251.8-45.3v25.3m199.2-21.5v32m23-44.4v25.9m-81.9-33.8v15.9m-202.6 6v32.7m273.2-29.6v34.1m-175.6-61.9v52.6m-14.7-46.2v33.5m124.1-38.3v22m-23.7-48.9v17.9m127.2 22.3v39.5m-259.7-30.6v26.6m126.9-89.5v19.8m-55-8.6v22m-48.4 9.8v44.8m242.8-30.5v26.9m-149.7-97.2v20m57.2 45.8v12.7m60.3 3.2v28.3m-53.5-45.7v10m-54.3-55.6v19.6m114.2 28.5v44.2m-227.6-26.3v30.4m145.1-61v12.9m-142.8 4.8v27.5m237-28.7v28.2m-255-12.4v46.3m22.6-71.2v50.4m126.2-68.1v22.1m-5.6-24.8v17.6m-144.1 25.1v29m93.3-111.7v17.1m-77.4 62.9v20.3m-8.2-44.8v44.8m-8.3-23.8v25.1m128.2-94.8v26.2m-79.9 15.5v40.3m-53-18.2v26.7m-8.1-1.6v37.1m174.7-75v27.8m-169.8 5v34.2m193.3-58.5v48.7m-43.7-78.3v13.1m-70.1-6.9v13.7m-112 10.3v33.2m168.5-80.5v26m63.8 11.5v24m40.2-.8v18.9m-112.2-102.9v15.1m-127 36.7v52.5m9.3-20.2v24m165.8-42.3v18m93-16.3v34.7m-98.8-35.4v19.5m-175.4-10.7v23.8m118.3-114.7v20m6.9-31.7v20.1m-102.7 77.7v33.4m82.7-91.1v20.8m-112.7 12.7v89.3m51.9-57.3v33.4m144.9-44v18.9m3.6-23.5v16.9m-73-95.6v8.9m.9-11.4v13m50.9 57.8v16.4m-139 6.5v32.2m-2.8-38.8v22.3m226.3-18.3v25.5m-233.1-21v23.1m158.5-37.3v17.9m-170.7-3.7v20.5m116.9-112.1v14.4m-75.3 74.2v31.8m-51.2-8.7v32.5m280.3-61.7v40.9m-157.2-133v12.3m-99.6 82.6v34.2m137.9-67.5v22.6m-16.3-42v14.8m-154.5 42.7v43.1m159-95.5v20.7m3-2.9v13.3m-150.6 23v33.8" marker-start="url(#hG)" marker-mid="url(#hG)" marker-end="url(#hG)"/><path d="M87.1 213m-41.6 .5m73.6-14.5m162.3-28.3m-31.4 9.9m-153.6 24.9m109.4-89.2m-106.9 111.4m-7.2-23.9m-25.2-8m6 11.9m118.7-99.1m-78.1 99m66.8-68m41.5 11.5m128.7 63.6m-211.5-29.9m160.9 8.8m-18.5-5.4m-43-17.4m-167.7 52.2m122.3-112.8m95.1 54.4m-110.7-25.2m76.1 50.5m-100.1-17.1m-56.5 34.3m61.2-38.3m-50.7 31.3m21.9-10.2m-47.2 16.6m15.3 7m172-16m-130.6 9.9m20.4-28.7m37.4-79.5m126.4 109.4m15.4-4.1m-58.7-13.1m-208.7 35.8m94.6-64.4m-64.3 34.1m108.6-70.1m-173.5 85.5m179.8-65.7m61.9 56.9m-182.7 2.3m-37.4 4.7m159.2-76m-37.9 1.6m48.8 21.2m-131.3 49.2m47.5-25m-94 24.7m131.9-77.3m-143.1 72.9m218.9-9.7m5.5-13.2m-45.4-42.7m46.8 58.6m-172.3 7.1m-1.9 13.4m96.3-87.9m126.5 98.9m-119.2-124.2m30.1 49m-81.6 52.7m-63.1 25.7m88.1-73.4m187.2 57.2m-274.9-3.7m114.9-102.2m50.8 74.9m-7.1-6.5m-144.5 16.9m-26.1 4.1m88.6-23.4m168.4 31m9.2-1.5m-219.9-14.6m158.6 13.6m-4.7-24.3m-213.8 42.1m215.8-32.8m-31.5-12.8m-70.9-15.2m51.6-9.3m-186.5 84.9m56.6-21.9m92-80.3m-88.7 77.7m-57.3 8m168.5-106.6m137 102.8m-274.5-1.2m103.9-62.7m-34.9 41.8m159.7 13.4m-44.7-19.8m-169.6 .9m112.9-72.9m47.5 53.7m-93.1 20.9m1.9-10.7m108.1 5.8m-150.4 10.2m141.2-3.9m-211.7 20.4m181.9-63.3m-95.6 59.7m82.7-97.5m-66 74.5m204.7 37.3m-173.3-66.6m116.4-7.6m8 57.3m-191.9 7.9m160-20.7m-56.3-53.1m-64.7 61.4m-57.1 11.3m109.2-101.5m-163.8 87.8m37.7 10.9m69.6-17m-62 27.7m31.6-9.6m150.1-21.7m-120.6 15.4m146.2-85.1m-51.3 49.6m-165.4 58.3m122.4-110.6m-40.6 70.5m35.6-60m42.1 27.5m-123.2 58.9m101.6-92.2m-75.2 94m-52.9-2.9m270.8 8.6m1.8-17.3m-264.4 5.5m114.4-102.4m-38.8 52.3m-59.2 51m-28.9 19.5m49.8-39.2m-18.1 23m-38.2-2.9m23.5 .7m52.2-31.4m54.2-76.8m82.1 90.7m77.3 12.4m-176.2-73.3m-79.7 86.5m211.5-4.8m-39.1-20.4m-200.5 23.3m95.6-60.3m-39.4 47.1m51-56m6.6-28.6m-75.4 71.1m29.3 0m-99.4 35.2m12.8 15.4m226.7-43.7m-196 13.2m48.6-23.4m137.1-3.4m-87-43.8m-113.6 77.8m-10.1 5.8m88.8-31m32.7-48.8m176.4 65.5m-92.2-37.4m-98.4-11.9m104.9 44.8m48.5 1.7m-223.7 3.8m-46.6 10.6m126.9-85.5m-55.6 75.3m-26.6 8.9m42.9-59.3m43.5-25.7m-47.3 62.5m-9 25.1m-12.1-22.3m13-7.3m195.7 11.8m-134.4-78.9m-39.9 58.8m15.8-16.4m95.3 27.5m-208.2 29.2m210-30.2m14.4 5.3m-170.4-1.6m139-18.6m108.8 48.2m-107.2-47.1m-177 40.8m36.3-16.7m-8 6.9m251-2.1m-217.7-1.2m46.6-62.1m-55 76.7m-42.8-8.5m67-28.8m-48.7 20.2m44.6-16.1m147.2-35.6m-69.9-14.4m-138.6 93.6m243.3-36.7m-15.9 2.8m-208.3 17.9m141.4-33.5m24.9 13.4m-26.9-26.3m-44.6-64.1m-104.4 114.1m210.6-11.4m-220.8 2.9m141.3-72.5m83.9 61.1m-99.5-94.1m56.5 81.4m-110.2 .5m174.9 15.3m-257.2 11.1m236-10.2m-195.9 .1m96.9-95.1m-85.5 89.4m80.9-93.2m-140.2 89.7m113.3-63.1m-103.4 96.7m198.1-45m-188.8 25.6m127.5-80.6m-3.4-13.4m20.6 36.5m48.9 34.3m-179.9 23.8m169.2-17.7m-21-21m-120.4 41.1m129.2-25.2m-135.8 14.2m84.6-96.7m-140.7 110.5m40.1-.6m-22.7-2.1m192.8-15.3m-165.2 29.5m-54-11.1m57.9-6.9m-65.1 10.8m250.5-42.3m-131.5-3m-42 29m104.7-52.6m16.4 33.2m-130.2 11.9m246.1 21.3m-251.8-12.5m199.2 7.1m23-15.4m-81.9-12.9m-202.6 30.3m273.2 3.8m-175.6-18.6m-14.7-3.1m124.1-10.6m-23.7-28.9m127.2 51m-259.7 2.4m126.9-66.3m-55 12.3m-48.4 43.2m242.8 5.3m-149.7-73.7m57.2 62.1m60.3 23.7m-53.5-26.5m-54.3-40.8m114.2 60.4m-227.6 11m145.1-39.4m-142.8 25.1m237-.9m-255 24.8m22.6-22.8m126.2-31.9m-5.6-4.9m-144.1 48.4m93.3-88.7m-77.4 81.6m-8.2-12.1m-8.3 11m128.2-69.1m-79.9 48.7m-53 15.4m-8.1 30.3m174.7-42.6m-169.8 36m193.3-17.1m-43.7-47.3m-70.1 6.5m-112 33.7m168.5-50.9m63.8 36.5m40.2 20.6m-112.2-85.8m-127 70.5m9.3 18m165.8-21.3m93 10.1m-98.8-8.3m-175.4 10.9m118.3-92.8m6.9-11.6m-102.7 104.4m82.7-64m-112.7 67.7m51.9 4.1m144.9-17.8m3.6-5.6m-73-82.7m.9-.6m50.9 72.6m-139 30.8m-2.8-11.6m226.3 5.6m-233.1 3.4m158.5-16.9m-170.7 15.6m116.9-94.7m-75.3 97.3m-51.2 23.5m280.3-25m-157.2-106.4m-99.6 105.8m137.9-39.1m-16.3-23.3m-154.5 71.7m159-63.6m3 14m-150.6 46.6" marker-start="url(#cG)" marker-mid="url(#cG)" marker-end="url(#cG)"/><path stroke="#000000" d="M73 201.9v30.5m188.2-52.1v16.9m-129.6-9.2v16.8m-47.8-.6v25.4m252.2-34.1v16.8m-85.5-29.6v13.2m-140.7-9.2v20.8m148.1-24.3v15.1m32.3-168.6v2.9m-199.3 172.1v18.4m-7.1-31.2v31.9m105.6-113.4v12.8m97.9 15.1v9m-165.2 52.5v19.5m202.3-27v23.5m-176.7-35.3v12.8m-45.3 5.3v24.8m-16.2-17.8v30m5.2-26.7v17.9m3.5-33.2v27m12.5-23.4v16m122.8-52.8v12.1m-60-33.9v17m-24.5 21.9v18.9m40.5-81v15.4m95 49.4v15.5m-179 3.2v24.9m-58.9-22.2v27.8m116.8-65.8v13.6m-64.7 17.7v15.7m257.8-12.8v28m-47.7-36.2v19.2m-270.8-9.9v23.6m307.5-60.3v38.4m-211.6-17.1v26.9m-23.4-34.3v36.2m192.8-11.3v15.9m-262.3-24.8v41.7m242.9-72.1v24.5m5.1-120.7v5.8m4.1-49.5v3.3m-96.5 80.6v11.7m-82.6 78.2v35.4m127.9-63.7v10.6m-186.2 19.2v25.2m29.7-15.5v20.2m-16.4-20.9v24.7m-13.5-28.8v20.3m97.8-53.1v16.5m-83 17.6v36.1m277.5-38.4v24.8m-307.6-28.8v37.9m262.2-30.4v29.3m-130.6-90.4v9.3m-26.5 34.8v18.4m61.4-97.8v7.1m-98.2 82.3v21.5m68.2-81v7.8m-100.7 59.8v21.6m19.1-33.3v22.5m-18.3-21.3v24m95.3-78.7v11.2m-29.5 36.8v19.8m84.5-59.7v10.8m56.8 26v13.7m-138.6-27.9v30.4m93.2-32.1v18.4m1.3-20.1v10.2m-78.3-13.4v13.4m78.5-7.3v9.7m34.3 11.7v15.8m-117.6-37.6v9.5m195.6 28.1v14.1m-8.5-25.5v17.1m-240.4-11.6v21.6m191.1-62.6v11m-84.8-60v16.4m-37.1 7.6v15.1m170.4 53.2v23.4m6.3-18.2v13.4m-143.7-122.9v7.7m-130 87v27.9m167.3-48.2v8.7m-200.5 22v19.2m103.5-52.6v34.9m73.1-74.5v12.3m-86.9 37.5v25.3m113.1-36.8v21.9m-104.9-11.6v21.4m3.5-20.1v17.6m9.4-25.3v10.9m149.4 4.8v13.3m-221.9-3.6v30.4m84.4-77.6v19.8m-28.6 17.7v20.4m68.5-110.6v13.5m-82.2 85.1v17.1m-1-18.9v27.8m25.9-59.1v28.8m-104.6 1.3v31.1m270.9-49.2v27.9m-100.4-83.4v15.7m-174.3 75.7v26.2m57.1-54.6v38.3m240.7-13.5v19.8m-112.5-85.3v7.2m90.7 45.7v23.4m-76.3-60.3v14.5m18 11.6v11.6m-54-99.5v10.9m-1.3-9.9v8.8m-68.7 68.1v35.3m136-27.4v19.8m82-11.6v29.3m-170.4-87.6v8.9m-145.4 61.4v30.5m58.3-38.4v20.2m226.5-23.2v32.2m-19.9-29.7v15.6m-80.3-77.5v26.2m-40.7-27.9v12.1m-26.7 25.2v16.6m80.7-25.5v11.2m-142.4 19.9v22.5m170.3-29.6v10m-123.1-17.3v35.9m141.3-25.5v9.7m11.9-122.4v4.4m11.6 124.3v22.7m-28.3-39.9v21.2m-134.1-22.3v27.8m200.4-10.1v14.5m-2.6-33.3v25.8m-203.6-26.1v19.5" marker-start="url(#hK)" marker-mid="url(#hK)" marker-end="url(#hK)"/><path d="M73 217.1m188.2-28.3m-129.6 7.6m-47.8 20.5m252.2-12.9m-85.5-14.7m-140.7 7.8m148.1-6.3m32.3-159.7m-199.3 182.8m-7.1-6m105.6-91.1m97.9 26m-165.2 66.8m202.3-5.5m-176.7-17.2m-45.3 24.1m-16.2 9.6m5.2-2.8m3.5-10.7m12.5-1.9m122.8-38.8m-60-19.3m-24.5 39.8m40.5-63.8m95 64.8m-179 23.5m-58.9 4.1m116.8-45.1m-64.7 32.4m257.8 9m-47.7-12.6m-270.8 11.5m307.5-29.3m-211.6 15.6m-23.4-2.8m192.8 14.8m-262.3 3.9m242.9-38.9m5.1-105.6m4.1-45m-96.5 88.1m-82.6 101.8m127.9-40.7m-186.2 37.1m29.7 7.1m-16.4 1.6m-13.5-6.2m97.8-34.8m-83 43.9m277.5-7.9m-307.6 2.6m262.2 3.2m-130.6-71.2m-26.5 48.7m61.4-85m-98.2 96.5m68.2-66.3m-100.7 74.5m19.1-11.3m-18.3 2m95.3-61m-29.5 52.2m84.5-44.3m56.8 38.1m-138.6-5.8m93.2-7.7m1.3-5.9m-78.3-1.5m78.5 4.3m34.3 24.4m-117.6-25m195.6 39.9m-8.5-9.9m-240.4 7.8m191.1-46.3m-84.8-46.3m-37.1 23.4m170.4 72.4m6.3 .3m-143.7-112.5m-130 104.8m167.3-29.9m-200.5 36m103.5-25.5m73.1-51m-86.9 56.3m113.1-13.2m-104.9 10.1m3.5-.6m9.4-11m149.4 16.9m-221.9 18.2m84.4-52.5m-28.6 37.8m68.5-93.6m-82.2 100.3m-1 3.6m25.9-30.9m-104.6 31.4m270.9-19.7m-100.4-61.6m-174.3 96.7m57.1-22.4m240.7 15.4m-112.5-71.7m90.7 61m-76.3-41.3m18 24.6m-54-88.3m-1.3 0m-68.7 90.1m136 .2m82 13m-170.4-68.6m-145.4 81.1m58.3-13m226.5 3m-19.9-5.8m-80.3-56.6m-40.7-8.8m-26.7 39.6m80.7-11.6m-142.4 36.8m170.3-13.4m-123.1 5.7m141.3-2.7m11.9-115.4m11.6 137.8m-28.3-17.9m-134.1 2.2m200.4 11m-2.6-13.1m-203.6-3.5" marker-start="url(#cK)" marker-mid="url(#cK)" marker-end="url(#cK)"/></g><path d="M290.8 14V150" stroke="#666" stroke-width="1"/><line x1="33" y1="295.4" x2="356.3" y2="295.4" stroke="#000" stroke-width="1"/><g clip-path="url(#cr)" fill="none" stroke-width=".75"><path stroke="#ff0000" d="M320.7 292.8v22.2m16.1-24.2v14.4m-296.4-28.9v31.7m25.5-17.8v24.8m212.8-29.9v12m-231.2-11.9v25.8m122.7-22.8v9.1m-42.7-17.1v23.9m167.5-21.6v27.8m42.8-32.7v26.4m-214.6-15v22m66.4-18.6v9.8m-27.9-7.7v6m68.1-8.3v7.9m-69.1-4.4v13.5m-115.6-19v16.8m171.4-13.5v12.2m-156.9-19.7v25.5m163.3-18.2v10.3m130.9-12.7v25.4m-71.7-30.7v12.7m-209.5-22v26m57.6-22.1v19.5m-8.4-15.8v15.6m16.9-11.9v20.7m87.2-19.3v14.8m-170.1-11.6v12m231.8-10.1v2.6m-154.7-6.6v27.7m-54.3-32.7v20.4m266.1-26v26.5m-268.5-21.4v19m278.4-22.2v21.8m-113.6-16v11.2m-84.2-15.5v12.2m-35.5-16.1v25.4m178.3-31.7v24m-79.2-7.1v11.6m-66.5-11.1v10.6m113.7-13.7v11.2m2.7-7v9.8m-82.1-8.3v14.1m-31.8-18.1v13.8m-13.7-11.1v21.3m2.5-36v20.5m14.3-2.6v14.1m-104.1-20v20.3m103.5-11.1v11.7m-11.2-27.7v13.5m196.8 1.5v21.7m-126.5-25.7v7.7m-68.7-9.9v11.7m107.8-19.8v13.3m-26.2-10.2v12.9m100.8 1.3v22.6m-3.3-40.3v18m-208.2-14.7v19.8m-22.9-20.9v22.2m-23-24.2v30.6m222.8-29.2v15.9m-137.6-8.2v18.7m-61.5-27.1v17.9m-27.6-12.8v25.3m59.2-54.6v46.2m138.1-12.4v9.5m-225-12.9v17.7m73.6-18.5v20.8m154.9-11.7v15.2m-125.3-15.9v20.8m202.6-26v17.2m-79.2-22.2v13.4m78.9-16.1v21.9m-237.5-18.1v20.7m18.7-42.3v34m210.3-24.1v22.7m-.5-28.7v26.1m-224.9-6v15.8m67.8-20.7v10.9m-122.2-11.6v20.1m34.2-28v26.2m173.9-10.9v13.6m-49.8-24.2v13.4m58.1-7.8v11m-13.4-6.4v10.8m17.5-17v10.2m-237.8-22.8v25.7m90-38v40.5m57.7-11.6v5.2m-60.8-20.3v25.2m148-9.3v11.8m-136.3-10v23.8m89.2-26.2v14.4m-142.1-34.2v22.5m152.6-3.5v11.6m-2-10.1v8.6m-116.7-26.8v40.7m-84-20.7v18.9m191.6-19v8.3m-109.1-15.7v22.9m227.6-26.2v26.1m-149.5-13v9.9m-3.9-11v8.3m-108-16.9v25.2m161.7-18.3v9.7m83.8-21v24.9m-16.4-24.8v25.7m38.6-16v19.9m-123.7-17.9v9.9m-164.2-18.4v21.2m149.8-18.8v15.2m-107-21.7v20.1m158-12v12.7m-232.4-7.5v21.5m128.5-22.4v12.9m192.4-17.3v17.2m-260.1-7.1v14.4m92.7-19.4v9.3m123.4-12.1v28.9m-89.1-33.3v10.1m-25.1-4.9v8.6m59.3-3.9v9.8m-138.2-21v21.2m38.1-15.3v9m-34.9-18.4v26.7m-79.8-18.1v14.8m39.9-23v27.7m105.8-20.1v12.2m32.6-12.6v15.4m-116.3-12.2v18.9m9.5-23.3v33.8m-47.9-43.6v22.5m70.4-21.1v22.6m45.4-18.8v12.7m-50.9-25.9v30.8m196.7-11.7v25.3m-272.5-33.8v27.9m157.6-13v12.9m-81.3-32.7v21.6m105.7-2.9v9.3m-139.5-22.1v20.2m-54-25.3v34.2m289.6-16.1v16.2m-24.4-20v16.3m-12.5-25.9v30.1m-30.4-13.3v16.9m27.7-29v17.1m-159.5-23.8v21m136.7-9.5v9.2m-108.2-5.4v9.8m63-9v9.8m-68.5-13.6v10.7m-114.1-20.2v17.8m288.5-12.8v21.4m-45.4-12.8v4.3m-35.7-9.9v9.6m-89.7-1.4v12.3m-75.8-20.1v15.3m60.4-16.4v15.5m-19.8-18.1v29.8m5.7-34.4v22.3m-81.5-13v25.7m179.1-23.9v7.3m-98.3-20.9v28.6m-30.9-26.3v33.9m36.6-26.8v25.8m-11.7-34.9v23.4m40.2-14.1v11.6m-86.1-15.3v19.1m20.4-27.5v21.4m154-9.8v12m54.8-15.1v19.8m-42.1-18.9v9.8m-116.5-2.4v14.8m143.6-17.6v11.6m-140.1-21.2v18.8m27.6-11.1v12.3m39.7-10.9v11.6m28.8-18.8v17.1m-95.8-8.7v10.6m161.1-7.4v13.4m-93.9-18.1v9.8m-124.5-12v17.9m36-15.8v31.4m126.8-31.2v12.6m-105.8-10.5v8.9m-39.2-16.5v21.6m203-10.9v22.9m1.3-27.5v20.3m-61.7-23v11.7m-106.6-10.9v10.1m-109.9-14v24m222-17.1v10.2m-30.1-11.3v14.7m-81.7-18.3v10.1m113.9-17.9v16m64.1-.7v19m-152.6-22.9v13.1m135.6-29.8v27.3m-167.9-8.6v12.6m97.1-19.9v13.1m22.2-7.9v12.2m92.1-18.8v14.9m1-19.1v23.2m-303.7-23.5v35.9m32.8-25.5v29.3m189.7-25v8.5m-61-8.9v10.7m-16.8-7.8v15m155-28.1v15.7m-155-5.1v11.4m-18.6-11.8v9.2m-91.2-18.3v16.5m-5.4-7.9v12.3m-31.2-19.6v21.2m22.9-31.7v35m-35.6-20.4v12.3m268.3-20.4v15.3m-122.6-10.4v12.4m1.5-3.8v11.1m-130.2-25.5v21.6m38.6-21.3v17.3m261.3-9.3v17.7m-185.5-11.1v9m.3-10.9v9.9m-38.6-19.9v26.6m-1.5-29.5v28.3m-21-29.7v20.9m55.7-15v10.2m-13.1-5.4v14.3m-30-18.4v23.8m155.6-16.4v11.9m-9.6-10.8v12.6m-115.2-14.3v11.4m-55.8-16.3v16m115.1-17.2v13.2m-151.2-10.3v21.7m140.3-24v10.6m-28.3-9.2v12m97.7-11.2v8.9m-118.2-8.3v14.8m70.4-14.3v8.5m-176.2-49.3v39.6m220.8-7.3v13.7m59-9.6v15.2m21.9-24.8v27.4m-207.1-20.5v16.3m201.1-22.5v30.5m-25.1-31.7v19.1m-271.4-2v25.3m10.1-36.6v15.1m215.3-6.7v10.5m-116.1-11v11.1m127.1-12v6.7m-9.8-14.7v14.7m-85.7-7.2v7.9m-77.6-11.3v17.2m-34.6-13.1v22.1m174.6-20.6v12.1m31.3-16.4v17.5m-210.8-19.4v29.2m39-49.1v27.4m115.5-.8v8.2m-87.1-3.9v27.8m215.2-45.7v18.3m-272.5-18v22.9m106.1-9.4v7.2m-111.3-27.8v26.7m160.9-6.9v12.8m15.1-10.8v9.7m16.4-18.1v13.5m-129.4-10v16.7m122.2-14.7v14.4m-171.6-16.5v16.2m30.1-28.5v35.2m-48.2-28v26.7m174.8-26.2v10.4m-171.1-9.6v30m29.2-22.7v18.8m148.6-32.1v21.3m-102.9-5.4v11.6m-76.5-26.5v28.4m128.2-13.7v6.6m-111-18v19.3m176.4-10.2v12m-97.8-18.7v13.4m34.5-3.7v6.4m-27.9-8v16.7m176.3-14.7v19.6m-248.6-16.4v18.6m257.3-32.5v13m-274.1-14.8v17.3m103-9.1v9" marker-start="url(#hR)" marker-mid="url(#hR)" marker-end="url(#hR)"/><path d="M320.7 303.9m16.1-5.9m-296.4-5.9m25.5 10.5m212.8-11.5m-231.2 7m122.7-5.3m-42.7-.6m167.5 4.2m42.8-5.6m-214.6 9.2m66.4-2.7m-27.9 .2m68.1-1.4m-69.1 6.3m-115.6-3.8m171.4 .9m-156.9-.8m163.3-.2m130.9 5.1m-71.7-11.6m-209.5-2.7m57.6 .6m-8.4 1.8m16.9 6.3m87.2-1.6m-170.1 1.8m231.8-2.8m-154.7 8.6m-54.3-8.7m266.1-2.6m-268.5 1.4m278.4-1.9m-113.6 .6m-84.2-3.8m-35.5 2.6m178.3-6.9m-79.2 10.7m-66.5 0m113.7-2.8m2.7 3.5m-82.1 3.7m-31.8-4.2m-13.7 6.5m2.5-15.2m14.3 14.7m-104.1-2.8m103.5 4.9m-11.2-15m196.8 19m-126.5-10.9m-68.7-.3m107.8-7.2m-26.2 2.8m100.8 19.1m-3.3-20m-208.2 4.1m-22.9 .3m-23 2.1m222.8-5.9m-137.6 9.1m-61.5-8.8m-27.6 8.8m59.2-18.9m138.1 15.5m-225 .7m73.6 .7m154.9 6.3m-125.3 2.1m202.6-7m-79.2-6.8m78.9 1.5m-237.5 3.2m18.7-15.1m210.3 4.4m-.5-4.4m-224.9 15m67.8-7.4m-122.2 3.9m34.2-4.9m173.9 9m-49.8-10.6m58.1 4.4m-13.4 4.5m17.5-6.5m-237.8-4.8m90-4.9m57.7 11.2m-60.8-5.1m148 9.2m-136.3 7.8m89.2-7.1m-142.1-15.8m152.6 13.6m-2 0m-116.7-2.1m-84 9.1m191.6-5.5m-109.1-.1m227.6-1.7m-149.5 5m-3.9-1.8m-108-.2m161.7-.9m83.8-3.6m-16.4 .4m38.6 6.9m-123.7-3.1m-164.2-2.8m149.8-.6m-107-4.1m158 4.4m-232.4 9.7m128.5-5.2m192.4-2.3m-260.1 8.7m92.7-7.6m123.4 7.1m-89.1-13.8m-25.1 4.5m59.3 5.2m-138.2-5.5m38.1-.2m-34.9-.6m-79.8 2.7m39.9-1.8m105.8-.1m32.6 1.3m-116.3 4.9m9.5 3m-47.9-15.4m70.4 1.4m45.4-1.1m-50.9-4.2m196.7 16.4m-272.5-7.3m157.6 7.4m-81.3-15.4m105.7 12.5m-139.5-7.3m-54 1.9m289.6 9.1m-24.4-3.7m-12.5-2.7m-30.4 10.1m27.7-12m-159.5-4.7m136.7 5.6m-108.2 4.1m63 .8m-68.5-3.4m-114.1-5.9m288.5 6.8m-45.4 .1m-35.7-3m-89.7 9.6m-75.8-6.4m60.4-.9m-19.8 4.4m5.7-8.2m-81.5 11m179.1-7.5m-98.3-2.9m-30.9 5m36.6 3m-11.7-10.3m40.2 3.4m-86.1 0m20.4-7.2m154 6.9m54.8 .8m-42.1-4.1m-116.5 9.9m143.6-4.4m-140.1-6m27.6 4.5m39.7 1m28.8-4.5m-95.8 5.2m161.1 4.6m-93.9-6.5m-124.5 1.8m36 8.9m126.8-9.2m-105.8 .3m-39.2-1.3m203 11.4m1.3-6m-61.7-7m-106.6 .1m-109.9 3m222 .1m-30.1 1.1m-81.7-6m113.9-4.8m64.1 16.8m-152.6-6.8m135.6-9.6m-167.9 11.3m97.1-7.1m22.2 4.8m92.1-5.2m1-.1m-303.7 6.1m32.8 7.1m189.7-6.1m-61 .7m-16.8 5m155-12.7m-155 8.4m-18.6-1.5m-91.2-5.5m-5.4 6.6m-31.2-2.9m22.9-3.6m-35.6 3.2m268.3-6.6m-122.6 3.5m1.5 7.9m-130.2-9.1m38.6-1.9m261.3 8.2m-185.5 2.3m.3-1.5m-38.6-1.6m-1.5-2m-21-5.2m55.7 .6m-13.1 6.8m-30 .7m155.6 1.5m-9.6 1.4m-115.2-2.3m-55.8-2.6m115.1-2.6m-151.2 7.2m140.3-7.9m-28.3 2.1m97.7-.8m-118.2 3.6m70.4-2.6m-176.2-25.3m220.8 19.4m59 4.8m21.9-3.5m-207.1 1.4m201.1 .8m-25.1-6.8m-271.4 20.2m10.1-16.5m215.3 6.1m-116.1-.1m127.1-3.1m-9.8-4m-85.7 4.1m-77.6 1.2m-34.6 6.5m174.6-3.5m31.3-1.6m-210.8 4m39-20.8m115.5 17m-87.1 14.1m215.2-22.7m-272.5 2.6m106.1 5.7m-111.3-10.8m160.9 12.8m15.1 .5m16.4-6.6m-129.4 5.1m122.2 .9m-171.6-1.2m30.1-2.8m-48.2 3m174.8-7.7m-171.1 10.6m29.2 1.6m148.6-11.9m-102.9 11m-76.5-6.5m128.2 3.7m-111-5m176.4 5.5m-97.8-6m34.5 6.2m-27.9 3.5m176.3 3.5m-248.6 2.7m257.3-16.7m-274.1 .4m103 4.1" marker-start="url(#cR)" marker-mid="url(#cR)" marker-end="url(#cR)"/><path stroke="#0000ff" d="M278.3 289v16.3m-74.4-16v9.7m82.6-9v3.8m-152.2-11.3v29.2m-50.8-26v21m-36-17.6v17.5m-9.2-24.2v24.2m254.7-17.6v8m-156.6-21.8v16.6m-81.1-13.2v22.9m155.7-9.1v10.8m68.8-10.1v9.5m-81.8-24.2v19.7m-160.9-6.6v14.5m298.9-12.4v13.6m-204.5-17.4v39.5m-49.4-37.1v11.5m225.5-16.1v15.8m-249.4-20.8v26.1m73.4-26.3v19.2m117-7.6v12.1m31.5-14.8v9m-81.5-17.6v18.5m-12.3-11.6v8.3m1.2-6.6v8.3m121.7-6.1v13.9m-163.1-23.5v13.9m79-5.1v8.4m-85.5-13.5v16.2m-8.7-30v43m189.5-31.6v16.2m-273.7-17.7v16.2m-13.3-19.9v18.9m26.2-20.4v19.5m264.4-15.6v27.2m-36.5-13.9v5m-1-11.8v6.5m-89.4-4.9v6.1m123.7-10.7v19.8m-193.2-21.8v39.4m129.4-38.9v11.9m-75.8-3.2v9.2m122.1-20.4v18.4m-173.6-12.1v50.7m98.1-49.6v9.6m-174.8-9.6v18.9m93.2-18.5v12m144.5-6.5v3.4m-80.1-7.9v9.8m-1.9-10v11.3m105.2-10.1v14.1m-259.9-22.4v16.8m67.2-19.3v20.9m13.2-38.4v40.2m183.7-16.2v13.8m-119.8-9.2v19.7m-39.7-19.1v8.6m123.9-12.7v13m-154.5-15.4v31.4m62.8-22.6v8.2m-59.1-13.3v37.7m-2.6-41.7v18.8m84.7-10.7v9.9m-174.8-27.8v33.2m30.4-25.3v14.8m61.6-8.7v11.8m1.4-12.5v15.5m168.9-15.8v19.8m-159.1-14.9v14.4m-39.2-22.9v15m100.5-12.6v14.4m-153.1-14.5v19m255.7-20.5v14.3m-16-6.3v2.5m-245.6-10.1v22.2m202.6-22v19.2m-113.2-39.3v42.7m-102.7-24.7v24.9m77.4-30.5v19.7m182.8-8.7v6.8m10.7-12.3v31.1m-46.1-25v5.8m-191-39v44m34.7-24.1v24.2m39.5-17.3v16.7m52.8-11.2v8.4m-30-8.3v8.2m-105.1-16.2v17.7m-9.9-7v19.5m226.1-24.1v10m-140.2-14.5v26m-8.8-37.5v32.7m-72.5-31.8v18.4m16.3-10.7v22m80.9-15.3v18.4m-39-12.2v23.1m64.1-28.2v10.8m-137.9-9.8v13.9m60.1-7.5v20.5m212.3-31.6v15m-43.6-8.4v8.9m-161.9-21.9v15.2m141.6-5.6v13.7m-194.3-24.5v22.3m78-22.4v31.3m-28.7-23.7v17.3m98.1-20.2v13.3m-132.5-8.7v25.5m56-32v25.9m-76.7-20.6v25.7m299.7-20.2v16.4m-148-16v15.7m-140.2-17.5v22.1m10.4-35.7v27.9m117.6-10.6v8.4m-146.7-6v16.8m159.7-20.8v18.7m-23.8-19.8v9.3m-132.1-11.1v19.5m5.3-24v18.3m33.9-16.4v13.4m19.5-16.4v18.7m-65.3-19.2v24.4m42.5-21.9v19.2m-44.6-8.4v16.2m145-22.1v12.7m-132.5-14.3v15m8.9-15.3v14.6m141.1-8.2v8.2m-153.4-16v19m130.2-18.2v14.7m-39.1-43.8v49.2m22.2-19.2v16.2m-115.4-15.2v14.9m157.3-16v14.6m-109.3-16v17.2m236.3-18.6v27.8m-34.9-20.1v3.9m-83.6-3.9v8.5m-49.3-8.6v7.4m-99.6-18.9v17.7m-6.9-13.6v16.9m85.1-12.6v21.5m58.3-16.9v5.3m20.5-5.6v11.7m-60.9-15.6v6.9m-17.9-19.7v39.8m127.2-24.4v14.1m-219.9-35.4v23.3m31.6-4.6v22m124.1-28.7v18.5m144.2-21.3v15.3m-189.4-6.5v7.4m139.6-3.3v1.9m-226.2-10.6v47.6m.2-48.1v41.7m290.4-36.8v19.8m-319.7-18.8v16.2m145.3-14.2v9.4m-125.3-26v19.7m180.9 1.1v9.4m-177.7-26.3v21.5m274.2-18.6v20.4m-180.7-11.1v14.6m127.3-18.5v14.8m11.5-12.2v4.9m-188-11.4v22m90.5-10.3v8.9m61.2-29.4v19.6m-9.9-.9v10.9m-119.1-27.5v38.4m29.1-21.2v14.2m-24.7-42.3v41.5m68.8-21v12.3m91.7-3.4v1.7m-163.8-8.2v19.4m-14.2-19v29.1m91.7-26.4v5.2m-145.8-15.2v23.1m152-14v11.5m95.7-21.6v21.4m13.3-18.9v16.8m-169.1-7.8v12.6m116.3-26.8v24.6m-224.6-19.8v25.4m-7.8-23v18.3m92-24.3v34.2m97.4-23.3v10.2m-172.2-19v22.3m292.3-17v18.4m-296-23.3v25.7m-3.6-15.1v14.3m152.6-23.5v13.5m-147.1-21.1v25.4m21.7-22.2v19.9m118.4-13.5v10.6m-149-7.1v16.5m84.6-19.6v14.2m77.5-9.5v10.1m86.2-6.5v2.4m2.8-.7v11.8m-88.4-17v7.5m-59.2-6.4v21.6m-106.2-28.3v17.7m120.9-8.3v8.4m84.5-13.5v13.3m52.3-10.7v10.3m-38.2-13v10.9m-213.3-14v21.2m76.7-20v13.4m-23.3-12.2v18.8m78.3-15.9v6.3m-106.9-5.3v19.4m65.6-32.2v20.2m154.6-6.7v2.9m-210.4-8.5v13.6m-14-33.5v55.4m91.1-32.6v7.8m41.4-17.2v17.4m-142.3-19.9v26.5m246.8-20.8v14m-257.1-12.1v26.7m195.4-23.5v9.1m-204.2-8.5v24.8m255.1-23.4v6.4m-38.4-10.9v10.1m35-10.2v8.4m46.5 1.1v12m-303.5-16.2v22.6m40.6-36.5v31m170-17.6v8.6m-199.6-12.3v22.4m137.2-19.2v8.6m-51.7-17.7v24.9m-74.1-18.3v16m208.8-11.6v9m25.6-7.9v3.9m5.2-11.4v15.5m-24.8-18.9v31.7m-115.1-23.8v7m-112.5-15v21.7m247.1-9.9v3.4m-138.3-4.8v5.5m-8.7-12.7v17.2m-5.2-18.4v18.1m25.5-15.3v12.8m128.9-6.7v2.5m66.7-1.6v17.7m-315.3-20.7v20.5m228.1-23.7v14.3m56.5-16.6v13m-57.2-23.6v30.1m-134.9-17.9v11.2m91.1-11v11.2m-38.9-12v8.2m-59.7-7v39.6m-26.3-47.7v21m221.2-23.7v17.6m0-8.1v20.1m-44.5-34.3v18.1m-139-15.6v22m185.5-21.6v23.8m-93.9-6.4v13m-45.5-12.9v8.3m-139.3-14.1v17.7m206.2-14.2v9.6m69.4-17.3v18.9m-194.2-24.6v31.8m73.7-15.5v9.6m-22.4-16.5v11.2m-31.8-15.9v24.5m-113.7-17.7v27.4m175.9-22v9.9m56.1-9.5v10.7m56.3-10.4v23m-189.8-19.2v24.3m-71.3-43.6v17.9m90-14.9v14.9m24.2-10.7v11.2m-136.8-16.9v24.1m-1.3-18.4v17.7m49.4-17.3v21.2m225.9-18.1v12.7m-112.7-17.1v16m119.4-13v31.3m-29-28.8v2.2m-72.2-3.3v6.5m-53-5.5v7.7m69.3-9.3v7.9m43.5-9.7v17.6m-8.3-22.7v16.3m-218.5-14.9v14.6m208.4-7.5v9.7m-85.2-12.7v10.7m-80.8-13.9v19.3m-18.7-28v23.4m-1-28.6v29.2m62.3-29.1v42.1m34.3-31.2v13.3m119.9 4.7v7m43.6-15.4v11.8" marker-start="url(#hB)" marker-mid="url(#hB)" marker-end="url(#hB)"/><path d="M278.3 297.1m-74.4-2.9m82.6-2.3m-152.2 5.3m-50.8-1m-36 1.7m-9.2-3.4m254.7-1.4m-156.6-9.6m-81.1 6.5m155.7 7.8m68.8 .1m-81.8-9.6m-160.9 10.5m298.9 1.6m-204.5 9.2m-49.4-11.7m225.5-2.4m-249.4 .1m73.4-3.6m117 8m31.5-4.2m-81.5-3.9m-12.3 1.9m1.2 1.6m121.7 5.1m-163.1-9.6m79 6.1m-85.5-1.3m-8.7-.4m189.5-2m-273.7-1.5m-13.3-2.3m26.2-1.2m264.4 7.8m-36.5 2.1m-1-6.1m-89.4 1.4m123.7 2.3m-193.2 7.8m129.4-13.2m-75.8 7.2m122.1-6.5m-173.6 22.5m98.1-19.5m-174.8 4.7m93.2-3.1m144.5 1.2m-80.1-1.3m-1.9 .5m105.2 2.6m-259.9-6.9m67.2-.5m13.2-7.8m183.7 10.8m-119.8 7.6m-39.7-5m123.9-1.9m-154.5 6.8m62.8-2.8m-59.1 9.6m-2.6-13.5m84.7 3.7m-174.8-6.2m30.4-1.4m61.6 4.7m1.4 1.1m168.9 1.9m-159.1 2.2m-39.2-8.2m100.5 2.1m-153.1 2.2m255.7-3.8m-16 2.1m-245.6 2.2m202.6-1.3m-113.2-8.4m-102.7 9.1m77.4-8.2m182.8 4.6m10.7 6.7m-46.1-6.6m-191-14.1m34.7 10m39.5 3.2m52.8 1.3m-30 0m-105.1-3.2m-9.9 11.6m226.1-9.4m-140.2 3.5m-8.8-8.1m-72.5-6.2m16.3 9.4m80.9 4.9m-39 8.6m64.1-11.2m-137.9 2.4m60.1 9.7m212.3-13.8m-43.6 3.6m-161.9-9.9m141.6 8.9m-194.3-6.5m78 4.3m-28.7 .6m98.1-4.8m-132.5 10.7m56-6.4m-76.7 5.3m299.7 .8m-148 .1m-140.2 1.4m10.4-10.7m117.6 7.5m-146.7 6.6m159.7-3m-23.8-5.9m-132.1 3.3m5.3-5m33.9-.6m19.5-.4m-65.3 2.4m42.5-.1m-44.6 9.2m145-7.6m-132.5-.4m8.9-.5m141.1 3.2m-153.4-2.4m130.2-1.3m-39.1-12m22.2 13.6m-115.4 .4m157.3-1.3m-109.3 0m236.3 3.8m-34.9-4.2m-83.6 2.3m-49.3-.7m-99.6-6.3m-6.9 3.7m85.1 6.6m58.3-3.5m20.5 2.8m-60.9-6.2m-17.9 3.7m127.2 2.4m-219.9-16.7m31.6 18.1m124.1-8.5m144.2-4.3m-189.4 4.8m139.6 1.3m-226.2 14.2m.2-3.4m290.4-6m-319.7-.9m145.3-1.4m-125.3-11.5m180.9 15.7m-177.7-10.8m274.2 2.2m-180.7 6.5m127.3-3.8m11.5-2.4m-188 2.1m90.5 5.1m61.2-15.1m-9.9 14.4m-119.1-2.9m29.1 5m-24.7-14.4m68.8 6m91.7 3.5m-163.8 2.4m-14.2 5.3m91.7-9.3m-145.8-1.1m152 3.4m95.7-5.2m13.3 .2m-169.1 6.9m116.3-8.2m-224.6 5.2m-7.8-1.2m92 2m97.4-1.1m-172.2-2.7m292.3 3.3m-296-1.2m-3.6 4.8m152.6-9.5m-147.1-1.7m21.7 .4m118.4 1.8m-149 6.5m84.6-4.3m77.5 2.7m86.2-.3m2.8 6.4m-88.4-7.3m-59.2 8.1m-106.2-8.7m120.9 4.8m84.5-2.7m52.3 1.2m-38.2-2.5m-213.3 2.1m76.7-2.7m-23.3 3.9m78.3-3.3m-106.9 7.5m65.6-12.4m154.6 4.8m-210.4-.2m-14 1m91.1-1m41.4-4.6m-142.3 2.1m246.8-.7m-257.1 8.3m195.4-5.6m-204.2 8.5m255.1-7.8m-38.4-2.6m35-1.1m46.5 11.4m-303.5 1.1m40.6-9.7m170 2.2m-199.6 3.2m137.2-3.7m-51.7-1m-74.1 2.2m208.8 .9m25.6-1.4m5.2-1.8m-24.8 4.7m-115.1-4.4m-112.5-.6m247.1 2.6m-138.3-.3m-8.7-1.4m-5.2-.7m25.5 .1m128.9 1m66.7 8.4m-315.3-1.6m228.1-6.3m56.5-2.9m-57.2-2.1m-134.9 2.8m91.1 .2m-38.9-2.3m-59.7 16.9m-26.3-17.4m221.2-4.4m0 10.7m-44.5-15.1m-139 4.4m185.5 1.3m-93.9 12m-45.5-2.3m-139.3-1m206.2-.6m69.4-3.1m-194.2 .8m73.7 5.2m-22.4-6m-31.8 1.9m-113.7 8.2m175.9-3.4m56.1 .9m56.3 6.4m-189.8 4.5m-71.3-22.6m90 1.5m24.2 2.4m-136.8 .7m-1.3 2.6m49.4 2.1m225.9-1.1m-112.7-2.8m119.4 10.7m-29-12.1m-72.2 1.1m-53 1.5m69.3-1.5m43.5 3.1m-8.3-5.8m-218.5 .6m208.4 4.6m-85.2-2.5m-80.8 1.2m-18.7-6.7m-1-2.3m62.3 6.5m34.3-3.4m119.9 14.7m43.6-5.9" marker-start="url(#cB)" marker-mid="url(#cB)" marker-end="url(#cB)"/><path stroke="#10a010" d="M110.1 284.5v20.2m94.7-13.6v10.8m2.9-12v9.9m-44.3-8.9v10.9m130.7-14.8v13.4m-142.8-9.7v11.1m-18.1-13.5v20.1m9.8-18.9v16.5m24-13.1v12.8m-75.4-22.3v14.3m78.7-9.5v10.4m1.6-6v8.3m-137.1-13.3v20m235.7-23.7v22.1m-129.7-14.7v23.3m-47.4-29.7v16.5m173.6-7.5v7.9m-183.9-17.9v28.9m73.5-23.1v7.6m-24.9-23.2v26.7m-21.1-20.6v22.7m-42.5-30.1v31.6m234-14.8v17.4m-236-17.1v12m205.5-11.9v11.4m-75.7-12v7.7m112-5.3v16.2m-157-13.4v5.4m-76.2-14.7v12.1m165.1-9.5v15.7m17.9-12.5v7.9m-161.9-7.5v14.8m125.3-11.9v10.8m36.2-15v11.5m-142-19.4v24.3m201.3-16.6v14.6m-212.4-24.7v15.8m-38.6-28.8v44m211.4-19.7v11.4m-27.8-14.1v8.1m60.2-11.6v14.7m-64.6-10.8v10.1m29.6-11.7v10.4m-186.8-17.3v17.2m169.4-6.3v12.2m46-13.1v13.2m22-24.2v16.5m-278.7-4.7v26.9m207.4-25.3v7.8m-141.2-11.8v28m15.3-27.4v30m-49.1-26.2v15.7m74.7-20.7v12.6m-80.2-16.9v29.8m184.2-30.1v11.4m-81.2-5.1v8.6m-47.4-10.4v15.3m144-12.4v12.8m-114.4-17.5v13m-48.9-11v16.9m172.9-10.8v9.2m-113.8-17.8v9.1m65.4-4.8v7.3m-50.6-4.1v6.3m-82.5-22.8v24.5m123.6-12.2v9.5m75-11.6v12.9m-229.9-11.6v21.4m-34.1-23.3v25.9m82.7-32.7v13m159.7-2.8v9.5m-95.1-7v5.3m-100.8-22.3v29m78.2-18.2v12.5m42.4-6.9v6.6m-133.3-27.3v36.2m113.5-12.2v5.6m39.7-8.1v5.7m28.5-7.6v11m-47.4-8.3v13.3m-133.5-31.2v28.9m31.1-29.8v25.2m94.3-5.6v8.3m70.7-15.2v11.1m-150.9-6.3v17.8m1.2-21.7v18.8m32.2-22.4v18.5m28.8-12.8v13.2m-40.3-18.8v16.2m33.8-10.3v12.2m-61.6-17.6v15.7m154.8-18.8v25.9m-197.5-28.9v32.8m194.3-20.7v10.6m-192.2-5.5v24.8m248.6-38v15.7m-111.6-9.8v10.9m-127.3-20.1v20m169.2-6.3v11.8m-166.8-19v15.5m129.8-10.6v6.6m146.6-8.7v13.5m-201.2-20.5v13m129.4-1.2v4.2m-75.7-13.5v14.7m-48.7-7.1v9.2m-24.2-14.7v16.5m121.8-10.4v9.7m-170.6-16.4v14.5m68.5-7.3v6.4m154.3-10.4v13.6m-99.1-14.5v13.2m-114.5-18.4v21.3m35.7-12.4v15.8m212.7-14.9v18.9m-58.8-14v4.1m9.1-10.3v18.3m-190.3-23.2v16.6m121.3-10v6.6m7.7-11.3v9.1m-110.1-9.4v13.2m10.7-4.6v17m-49.5-28.3v18.8m92.9-18.3v12.9m39.1-12.6v11.5m89-8.4v15.2m-9-21.3v17.2m-186.5-23.7v35.3m131.1-22.6v9.9m36.8-7.9v11.4m-200.9-7.6v18.6m-7.8-28.4v15.9m215.7-12.2v5.4m-194.9-6.2v9.8m119.5-4.7v9.5m49.4-22.2v14.8m9.2-5.5v7m65.9-13.6v23.3m-102.7-17.2v8.9m41.8-8.6v8.7m-147.3-4.2v24.7m-6.1-37.8v16.9m159.6-3.2v6.9m-198.3-6.2v21.1m87.2-24.9v5.7m10.2-7.2v6m80.9-4.7v8.1m-85.2-10.5v6.9m91.8-8.9v25.1m70.3-27.5v15.9m-164-10.2v7.8m-42.6-20.2v29.3m188.5-25.4v19.7m-105.9-11.6v11.1m59.1-13.1v9m45.4-8.4v11.9m-190.8-8.4v12m-24.8-24.1v15.5m133-3.1v7.6m-143.5-12.8v21.6m-16.9-20.3v25.3m190.9-41.7v35.7m-173-25.7v13.9m67.5-2.6v6.5m-65.6-12v12.3m157-17.3v13.7m-81.2-3.3v9.2m-43.9-15.3v14.2m49.8-11.8v10.9m-52.5-18.8v19.3m-25.1-12.5v16.5m238.7-28.8v18.3m-246.5-10.4v23.2m44.4-15.8v21.2m151.5-20.8v5.1m-27.5-5.6v8.8m-125.1-8.9v11.6m38.4-12.1v9.5m109.4-5.8v8.6m-133.6-17.7v11m-65.3-7.1v11.4m24.2-17v23.1m68.2-12.7v9.8m80.8-12.5v12.9m-123.1-20.1v14.4m-81-13v23.3m7.3-35.3v22.8m227.7-2.3v4.8m28.1-8v12.6m-220.9-21.1v14.6m62-7.3v14.5m14.9-12.6v9m90.3-8.7v9.5m-228.1-7.4v20.4m153.7-23.5v6.9m-149.4-11.9v23.1m277.7-19.6v17.3m-7.1-15.1v12.6m-240.2-17.6v17.1m222.1-14.7v5.8m52.3-8v16.6m-127.7-13v10.7m-83.6-12.1v15.4m80.9-12.2v11.6m49.3-11.2v11.7m59.9-24.6v24.9m-108.4-15.3v10.9m-4.2-7.9v13.1m-79.8-23.1v25.9m122.8-21.5v12.9m-146.8-8.4v15.6m162-14.6v7.8m-134.5-13.1v16m103.9-10v9.1m-12.2-10.4v8.8m1.8-12v11.2m67.3-10.5v12.7m-219.3-11.1v15.5m164.2-15.6v15.5m-95.5-17.8v22.3m-55.2-19.4v13.4m236.6-13.9v14.8m-13.6-13.1v14.9m-217.1-22v13.7m14.7-20.1v19.7m2.4-6.3v18.3m-14-26.6v15.4m155.3-11.5v9.5m-156.8-9.1v12.3m114.7-16v11.8m45.6-4.9v8.7m-204.6-10v19.6m244.2-18.3v16.3m44.9-17.3v18.7m-201.2-18.9v22.4m106-16.4v6.3m-24.9-9.3v11.1m-69.9-15.3v8m25-7.3v7.9m-78.8-8.6v13.1m36.3-13.7v13.5m21.1-14.2v8.8m85.3-7.4v14m-128.2-21.4v17.4m46.3-9.2v10.4m3.9-8.2v9.9m-66.1-27.5v22m93.1-.8v6.4m163.4-22.6v22.3m-213.9-11.9v16.6m141.6-19.4v7.8m-198.2-4.2v12.5m259.1-11.6v16.1m-159.8-15.7v11.2m-40.7-22.8v14.6m-66.1-8.9v20.7m184.3-13.3v11.5m-154.1-25v19.7m-53-14.6v22m135.8-18.4v9.2m-43.3-8.5v18.1m74.6-22.2v12.6m-163-5.5v20.3m292.5-24.9v13.6m-16.8-9.7v16m-64.4-33.9v30.1m-217.1-18.6v18.1m129.7-9.1v12.8m8-18.7v9.2m162.6-5.5v16.5m-144.3-19.1v12.6m28.7-7v10.4m-17.3-14.1v8.2m-148.8-7.8v19m200-31.6v21.9m-16.9-8.4v9.6m-48.4-10.2v8m-49.9-3.7v6.6m-72.7-17.6v22.9m132.3-16.6v5.5m37.3-9.7v9.8m-124.5-5.5v17m145.8-21.4v12.9m-79.7-8.7v7.9m-59.4-10.8v15.7m-48.2-14.5v13.1m-9.5-12v19.4m189.9-16.2v6.5m-155.5-20.8v24.9m138.9-17.6v10.6m-148.9-8v21.1m119.2-19.7v5.9m-123.4-10.1v12.2m53.2-9v12.1m-12.9-7.6v18m-60-22.5v14.7m19.6-23.7v18.7m15.9-18.2v19.3m151.4-8.7v9.1m-182.3-27.4v24.9m122.7-6.2v6m-27.4-13.7v9.5m-86-3.5v9.9m183.6-16.8v26.6m30.5-34.9v23.3m-80-8.3v12.2m-22.5-14.1v8.7m108.8-15.4v21.1m-228.1-14.6v10.5m-15.3-15v19.1m32.4-9v23.8m217.8-43.4v20.6m-4.9-8.7v18.1m-207.3-18.9v16.7m145.6-12.8v11.4m-156.2-13.3v16.1m-3.4-16.7v24.9m63.7-21.6v10.1m86.3-6.3v14.4m-171.7-33.9v40.5m28.4-22.1v15.7m55.9-16.4v13m5.5-18.7v14.1m66.2-12.8v7.5m2.2-4.4v12.3m-26.4-12v8.1m156.2-15.8v22.6m-26.2-18.8v9.7m-257.1-16v16.1m277.2-5.5v19.3m-178.7-22.7v11.3m-56.5-11.2v25.2m172.2-18.1v4.9m-45.1-7.1v7.3m23.7-11.4v12.3m-112.9-6.5v9.7m8-14.6v10.4m-87.9-6.5v17.3m196.7-23v9.3m-23.7-9.7v11.7m-208.3-19.5v15.9m176.6-2.8v12.7m-82.7-13.5v18.1m205.4-20.9v14.5m-40.9-20.5v19.5m-204.9-13.5v16.4m127.7-17.6v7.2m51-4.1v13.2m-132.5-21.2v18.2m-102.8-8.3v18.8m41.5-18v15.8m56.3-26.4v17.6m9.6-18.8v17.8m8.4-7.2v10.1m-31.7-15v21.7m146.8-18v10.6m-62.9-15.9v12.1m142.4-14.1v18.6m-274.5-21.4v29.9m92.3-22.2v7.5m26.8-5.9v7.6m-27.8-7.9v6.6m194.2-8.9v15.1m-253.9-22.3v14.7m57.1-5.9v9.3m9-8.6v14.7m-58.6-27.2v19.5m-23.1-17v23.5m-48.1-25.1v13.7m146-6.9v13.7m-113.8-19.7v17.4m114.7-14.8v11.7m-125-11.6v20.4m210.8-20.9v30.3m-62.7-20.6v12m-30.4-10.8v8m-92.8-15.9v19.5m1.7-20.7v17.5m70.3-10.4v11.4" marker-start="url(#hG)" marker-mid="url(#hG)" marker-end="url(#hG)"/><path d="M110.1 294.6m94.7 1.9m2.9-1.6m-44.3 1.4m130.7-2.7m-142.8 2.7m-18.1 2.1m9.8-.6m24 1.4m-75.4-8.6m78.7 2.8m1.6 3.3m-137.1 .9m235.7-2.7m-129.7 8m-47.4-9.7m173.6 4.7m-183.9 .4m73.5-4.8m-24.9-6m-21.1 4m-42.5-2.9m234 9.7m-236-2.4m205.5-.2m-75.7-2.5m112 6.6m-157-2.5m-76.2-6m165.1 4.4m17.9-.6m-161.9 3.8m125.3 .9m36.2-3.9m-142-1.5m201.3 2.9m-212.4-9.5m-38.6 1.1m211.4 8m-27.8-4.4m60.2-.1m-64.6 1.5m29.6-1.4m-186.8-3.5m169.4 8.4m46-.4m22-9.3m-278.7 16.9m207.4-7.9m-141.2 6m15.3 1.7m-49.1-3.4m74.7-6.5m-80.2 4.3m184.2-9.5m-81.2 4.9m-47.4 1.6m144 1.6m-114.4-4.6m-48.9 3.9m172.9 2.4m-113.8-8.8m65.4 3.4m-50.6 2.8m-82.5-7.4m123.6 4.8m75-.4m-229.9 5.5m-34.1 .3m82.7-13.2m159.7 8.4m-95.1 .4m-100.8-5.2m78.2 2.6m42.4 2.7m-133.3-5.9m113.5 8.7m39.7-2.4m28.5 .8m-47.4 3.8m-133.5-10.1m31.1-2.7m94.3 11m70.7-5.5m-150.9 8.2m1.2-3.4m32.2-3.8m28.8 3.1m-40.3-4.1m33.8 3.9m-61.6-3.7m154.8 2.1m-197.5 .4m194.3 1m-192.2 12.2m248.6-17.7m-111.6 3.5m-127.3-4.7m169.2 9.6m-166.8-5.3m129.8 .4m146.6 1.4m-201.2-7.3m129.4 7.4m-75.7-4m-48.7 4.8m-24.2-1.9m121.8 2.7m-170.6-4.3m68.5 3.2m154.3-.4m-99.1-1m-114.5-1.2m35.7 6.1m212.7 2.4m-58.8-2.5m9.1 1m-190.3-5.8m121.3 1.6m7.7-3.4m-110.1 1.7m10.7 10.5m-49.5-10.4m92.9-2.5m39.1-.4m89 5m-9-5.1m-186.5 2.6m131.1 0m36.8 2.7m-200.9 7.4m-7.8-11.1m215.7-1.5m-194.9 1.3m119.5 5m49.4-10m9.2 5.3m65.9 1.5m-102.7-1.1m41.8 .2m-147.3 12.6m-6.1-17.1m159.6 8.8m-198.3 7.8m87.2-11.5m10.2-1.4m80.9 2.3m-85.2-3m91.8 7.2m70.3-7m-164 1.6m-42.6-1.6m188.5-.9m-105.9 3.7m59.1-3m45.4 2m-190.8 3.5m-24.8-10.2m133 8.3m-143.5 1.8m-16.9 3.2m190.9-11.1m-173-.9m67.5 7.5m-65.6-2.5m157-4.3m-81.2 8.1m-43.9-3.6m49.8 .7m-52.5-3.7m-25.1 5.4m238.7-11.4m-246.5 10.4m44.4 6.4m151.5-7.7m-27.5 1.4m-125.1 1.3m38.4-1.5m109.4 3.2m-133.6-8m-65.3 4.2m24.2 .2m68.2 3.8m80.8-1.1m-123.1-6.5m-81 5.9m7.3-12.3m227.7 11.5m28.1 .7m-220.9-7.4m62 7.2m14.9-.9m90.3 .6m-228.1 7.6m153.7-10m-149.4 3.1m277.7 .6m-7.1-.1m-240.2-2.7m222.1-3.3m52.3 3.2m-127.7 .6m-83.6 1m80.9 1.3m49.3 .4m59.9-6.3m-108.4 2.7m-4.2 4.1m-79.8-3.6m122.8-2.2m-146.8 5.9m162-2.9m-134.5-1.2m103.9 2.5m-12.2-1.4m1.8-2m67.3 1.5m-219.3 2.9m164.2 0m-95.5 1m-55.2-1.5m236.6 .2m-13.6 1.7m-217.1-7.7m14.7-3.3m2.4 12.6m-14-9.7m155.3 1m-156.8 1.7m114.7-3.9m45.6 5.4m-204.6 4.1m244.2-.4m44.9 .2m-201.2 1.7m106-2m-24.9-.7m-69.9-5.7m25 .7m-78.8 1.8m36.3-.4m21.1-3m85.3 4m-128.2-5.7m46.3 4.7m3.9 1.9m-66.1-11.5m93.1 13.5m163.4-8.4m-213.9 7.6m141.6-7.2m-198.2 6m259.1 2.7m-159.8-2.1m-40.7-9.9m-66.1 8.8m184.3 2.8m-154.1-9.4m-53 6.2m135.8-2.8m-43.3 5.2m74.6-6.9m-163 10.9m292.5-7.9m-16.8 5.1m-64.4-10.8m-217.1 5.5m129.7 6.3m8-7.6m162.6 7.3m-144.3-4.6m28.7 4.5m-17.3-4.8m-148.8 5.8m200-11.1m-16.9 7.3m-48.4-1.4m-49.9 3.5m-72.7-2.7m132.3-2.4m37.3-2.1m-124.5 7.9m145.8-6.5m-79.7 1.7m-59.4 1.1m-48.2-.1m-9.5 4.2m189.9-3.3m-155.5-5m138.9 .1m-148.9 7.9m119.2-6.3m-123.4-1m53.2 3.1m-12.9 7.5m-60-6.2m19.6-7m15.9 .8m151.4 5.5m-182.3-10.4m122.7 9.3m-27.4-6m-86 6.3m183.6 1.4m30.5-9.9m-80 9.4m-22.5-3.7m108.8-.5m-228.1 1.2m-15.3-.2m32.4 12.5m217.8-21.2m-4.9 10.7m-207.3-1.5m145.6 1.2m-156.2 .5m-3.4 3.7m63.7-4m86.3 5.9m-171.7-6.4m28.4 6m55.9-2.1m5.5-5.1m66.2-2m2.2 5.4m-26.4-1.7m156.2-.5m-26.2-2.7m-257.1-3m277.2 12.1m-178.7-7.4m-56.5 7.1m172.2-3.1m-45.1-1m23.7-1.5m-112.9 4.4m8-4.5m-87.9 7.3m196.7-9.7m-23.7 .8m-208.3-5.7m176.6 11.5m-82.7 2m205.4-4.6m-40.9-3.5m-204.9 4.4m127.7-5.8m51 6.1m-132.5-5.5m-102.8 10.2m41.5-.7m56.3-9.7m9.6-1.1m8.4 6.7m-31.7 .9m146.8-1.8m-62.9-4.5m142.4 1.2m-274.5 2.8m92.3-3.4m26.8 1.6m-27.8-.7m194.2 1.9m-253.9-7.5m57.1 6.1m9 3.5m-58.6-10.1m-23.1 4.4m-48.1-6.5m146 6.9m-113.8-4.2m114.7-.3m-125 4.5m210.8 4.4m-62.7 .6m-30.4-.8m-92.8-2.1m1.7-2.3m70.3 4" marker-start="url(#cG)" marker-mid="url(#cG)" marker-end="url(#cG)"/><path stroke="#000000" d="M50.1 291.1v17m60.8-18.1v9.1m-5.7-6.6v11.1m-28.5-14.3v16.6m-25-13.7v11.1m302.6-14.3v14.5m-136.1-17.4v10.3m55.6-8.4v10m-192.2-6.1v13.6m146.2-11.2v4.4m13.7-12.8v9.4m-111.7-3.7v12.5m-31.7-14.6v12.4m-28.6-12.7v9.9m120.7-4.9v4.9m33-4.2v4.8m120.4-8.5v13.4m-187.4-14.8v6m131.6-.4v1.7m-219.1-10v11.9m218.9-5.6v2.9m-214.3-6.1v13.9m69-15.9v14.3m66.5-16.7v8.3m-141.1-4.3v10.1m144.4-10.4v8.9m60-7.2v6.5m-3.9-4.8v7.5m-190.8-7.4v9.7m207.7-10.9v6.7m-70-8.2v6.8m-114.7-15.5v13.8m179.7-10.6v10.5m55.8 1.5v16.2m-169.9-21.7v6.3m123.4-6.6v3.8m9.9-6.5v14.1m-181.8-13.9v15.1m136.9-16.1v8.4m-210.7-13.7v14.3m262.3-13.7v12.2m-2.5-3v9.2m-165.8-11.5v8.4m153.6-3.2v1.8m-175.1-3.8v14.7m23.3-18v11.4m208-6.2v19.9m-144-24.8v7.2m-76.2-4.4v20.3m119.3-21v7m-204.5-11.8v11.7m72.3-13.1v14.7m11.5-9.6v16.3m-45.2-21.5v19.9m-1.1-13.6v11.9m64.9-13.4v7.4m178.2-19.9v18.3m-204.6-4.3v10.6m206.6-13v8.6m-54.9-7.8v6.1m-62.8-5.7v7.7m51-7.7v6.2m-24.4-1.9v7.3m-107.4-11.9v11.2m-3.6-15.7v17.3m190.8-11.5v12.1m-49.5-12.3v8.5m76.2-9.7v13.4m-228.9-13.8v11.6m215.4-13.3v13.8m19.7-13.8v15.3m-100.6-11.6v8.2m-198.4-13.1v16.8m94.7-17.4v14.8m52.1-9.4v6.5m-138.4-10.5v13.6m124.3-7.5v4.8m-70.3-6.5v14.4m14.2-22.5v13.8m225.3-8.5v14.7m-111-14.8v13.2m25.1-11.5v8.4m-97.5-4v6.6m49.2-8.4v7.4m-141.7-7.1v9.3m65.2-20v16.8m183.9-11.8v13.1m-120.6-9.4v5.7m-163.4-4.4v14.9m34.8-22.2v13.3m167-5.1v8.7m-53.9-11.8v6.2m-28.3-5.6v6.9m163.9-8.4v11.3m-160.1-8.2v5.6m34.4-7.9v7.9m13.9-8.7v9.4m85.2-11.4v14.4m-237.9-13.1v8.6m212.3-7.4v9.1m-34.9-9.1v8m-140.6-10.8v13.8m120.9-13v9.2m-110.7-9.1v10.9m107-6.1v4.3m-97.9-3.4v15.3m217.3-30.8v14.6m-73-3.6v10m6.6-6.3v7.8m-81.1-6.4v6.3m-1.4-10.2v8.9m-125-14.8v14.2m99.6-4.6v7.2m-60.3-11.2v13.1m205.2-11.9v12m17.3-6.9v9m-193.6-15.7v21" marker-start="url(#hK)" marker-mid="url(#hK)" marker-end="url(#hK)"/><path d="M50.1 299.6m60.8-5.1m-5.7 3.6m-28.5-.5m-25 .1m302.6-1.4m-136.1-5.1m55.6 1.8m-192.2 5.7m146.2-2.3m13.7-5.8m-111.7 7.2m-31.7-2.1m-28.6-1.5m120.7 2.5m33 .5m120.4 .8m-187.4-5.2m131.6 3.4m-219.1-3.2m218.9 1.8m-214.3 2.4m69-1.8m66.5-5.4m-141.1 4.8m144.4-.9m60 .5m-3.9 2.3m-190.8 1.1m207.7-2.6m-70-1.5m-114.7-5.2m179.7 1.6m55.8 14.8m-169.9-10.5m123.4-1.5m9.9 2.5m-181.8 .7m136.9-4.4m-210.7-2.4m262.3-.4m-2.5 7.7m-165.8-2.6m153.6 1.8m-175.1 4.4m23.3-4.9m208 9.4m-144-11.2m-76.2 9.3m119.3-7.3m-204.5-2.4m72.3 0m11.5 6m-45.2-3.5m-1.1 2.3m64.9-3.7m178.2-7.1m-204.6 10.3m206.6-3.6m-54.9-.4m-62.8 1.2m51-.7m-24.4 4.9m-107.4-2.7m-3.6-1.4m190.8 3.1m-49.5-2m76.2 1.3m-228.9-1.3m215.4-.6m19.7 .8m-100.6 .1m-198.4-.6m94.7-1.6m52.1 1.3m-138.4-.5m124.3 1.7m-70.3 3.1m14.2-8.4m225.3 5.7m-111-.8m25.1-.7m-97.5 3.5m49.2-1.4m-141.7 1.2m65.2-6.8m183.9 3m-120.6 0m-163.4 5.9m34.8-8m167 5.8m-53.9-4.3m-28.3 1m163.9 .6m-160.1 .3m34.4-1.1m13.9-.1m85.2 .5m-237.9-1.6m212.3 1.4m-34.9-.5m-140.6 .1m120.9-1.5m-110.7 1m107 1.5m-97.9 6.3m217.3-15.8m-73 8.6m6.6 2.7m-81.1 .6m-1.4-2.6m-125-3.2m99.6 6.1m-60.3-1.1m205.2 .7m17.3 3.6m-193.6-.7" marker-start="url(#cK)" marker-mid="url(#cK)" marker-end="url(#cK)"/><path stroke="#ff0000" d="M197.8 295.8v10.7m-125.2-16.8v20.1m-35.9-10.8v18.8m161.2-25.2v10.3m-109.5-21.8v23.6m-44.2-17.6v23.9m189.8-21.8v18.9m-92.1-16.3v18.8m-60.4-19.8v20.3m122.8-21.7v9.1m-147.1-13.5v11.6m-7.4-13.2v30.6m114.4-19.2v10.9m-91-22.3v18.1m106.1-11.2v8.4m58.5-10.1v12.7m-119.7-12.6v20.8m150.1-21.6v17.8m-236.6-12.5v12.3m225.1-15v9.6m22.1-14.6v17.2m76.7-18v23.5m-23.4-20.2v14.7m-123.4-18.1v15.5m-86.2-13.5v21m122.6-17.7v9.6m-67.7-10.8v9.2m-94.5-20.4v25m25-15.6v18.9m69.1-24.1v16.7m-63.3-9.6v21.6m93.4-23.4v11.4m11.5-9.2v8m-122.8-9.9v22m27.7-20.1v13.8m137.5-20.2v15.3m9.2-10.4v14.6m72.4-30.7v26m-212.6-12.2v21m96.8-17v7.2m-111.5-10v27.8m57.3-19.9v9.7m55.8-16.8v15.4m-161.5-23.3v22.9m93.4-11.5v8.7m185-10.2v24.3m-145-26.7v12.9m-46.5-6.6v8.1m-25.4-6.8v36.9m23.2-37.1v8.1m137.4-7.2v2.2m-237-13.5v15.5m171.3-5.6v11.5m-129.1-18.7v17.2m247.5-10v14.3m-180.8-18.9v10.8m82.2-10.7v10.4m-197.8-9.3v18.3m143.9-16.9v10.7m126.5-12.8v17.2m-165.9-25.4v13.2m19.9-6.1v8.1m-63-15.4v17.3m80.4-5.2v7.1m-77.1-13.4v17.6m100.3-10.3v9.2m-22.8-12.1v6.3m.8-15.1v15.5m89.9-8.5v12.5m-183.7-12.4v16.9m237.4-20.6v20.1m-83.9-10.2v19.1m-150-33.4v16.2m66.2-8.4v10.5m80.4-8.7v11.2m-16.9-20.5v13m-28.7-4.5v9.3m89.4-4.4v1.7m26.9-14.8v22.1m-161.5-16.4v13.2m17.7-9.8v6.7m85.3-7.7v11.9m98.1-11.9v14.2m-258.7-27.1v20.7m257.6-18v22.7m-311.4-12.5v15.3m178.9-16.8v13.1m-54-13.6v11.9m-135-6.5v21.3m-.6-29.5v27m110.1-21.4v16.6m156.9-19.2v20.4m-256.5-38.5v23.5m233-2.8v13.9m-148-40.3v31.3m170.5-8.8v16.4m6-10.4v22.6m-67.5-24.5v5.8m112.8-11.8v17.9m-79-18.4v19.3m-235.6-21.5v14.5m142.4-9.9v10.7m-144.3-9.2v16.6m55.8-17v23.5m74.4-21.4v9.2m174.6-3.7v16.8m-160.4-21.4v11.2m-8-14v12.5m-39.6-31.8v30.2m24.2-9.5v8.2m-100.3-19.1v25.6m70.2-34.8v33.5m104.3-8.8v6.7m5.8-9.1v7.7m-182.2-9.6v14.9m70.6-15.9v26.2m-90.6-40.4v26.5m295.9-19.5v16.2m-22.5-5.7v19.3m-172.7-31.2v25.2m-65.4-18.6v18.5m285.7-20.3v11.4m1-29.4v26.8m-228.6-21.6v28.2m147.6-10.5v8.4m-19.5-6.8v8.1m-119.1-15.2v31.9m184.9-40.4v28.1m-243.5-22.6v38.6m210.4-25.8v2.4m-146.7-9v22m-93.6-23.2v28.3m45.3-31.1v13.2m55-17v22.3m124.1-15.5v14.2m-60.6-11.8v14.2m84.8-25.6v25m12-16.2v15m-147.8-8.8v12.4m9.4-10v11m-83.4-24.1v20.8m-44.6-15.1v16.8m47.3-19.9v17.6m-36.7-8.2v22.6m218.5-27.8v12.5m-31.9-12v15.6m66.8-23.1v22.2m-32.8-20.3v15.7m17-7.3v3.9m-114-9.1v17.4m79.7-17.1v13.6m-181.7-10.5v19.8m226-31.1v20.2m-122.7-10.5v10.4m106.9-9.3v13.6m-207.9-15.1v18.5m214.1-14.7v3.7m-205.4-25.1v32m-12.9-16.3v32m194.4-28.3v8.5m-135.5-14.5v19.8m201.8-19.3v19.8m-270.5-8v20.2m11.3-31.5v17.5m82.4-12v12m22.3-12.4v15.8m3.2-21.5v13.6m21.3-10v9m-123.4-20.4v21m261.6-10.7v19.8m-186-17.3v15.5m-69.4-10.8v15.4m70.6-20.1v7m75.1-5v9.9m-186.9-26.8v23.9m64.1-9.1v28.3m106.6-31.8v15m-43.8-8.7v7.6m59.2-7.2v10.3m-187.1-21.1v29.4m260.2-18.8v13.9m-24.8-15.6v11.3m.9-7.4v8.3m-66.5-12.7v12.4m37.6-12.8v9.3m-175.6-12.5v16.9m-16.3-27.2v29.5m24.8-22.9v26.6m221.4-11.8v25m-67.4-31.6v12.1m-42.5-11.7v10.9m120.3-16.4v14.4m-174.9-21.1v22m167.4-23.6v18.3m-209.5-5.6v14.9m189.1-11.8v3m-238.8-5.9v35.8m4.3-33.9v24.8m113.8-29.2v11.9m183.1-11v21m-182.8-18.1v9.8m-43.9-6.3v24.5m-71-36.8v20.7m164.5-15v11.8m-39.4-9.3v6.6m97.3-6.7v10.7m-117.5-5.9v12m134.5-14.7v2.1m-3.7-1.7v2.9m-71-5.3v13.8m-49.2-22.1v14.8m-116.2-26v26.7m220.2-12.8v15.1m-88.5-11.9v9.1m88.5-11.1v8.4m49.4-16.9v20.5m-286.3-16.2v24.9m309.7-15v17.6m9.6-26.7v25.6m-196.8-26.9v13.7m40.5-6.3v6.8m-36.8-8.2v13.8m154.2-22.4v22.4m-243.4-14.6v23.2m110.6-21.6v7.7m84.5-8.7v11.2m36.2-10.8v19.3m-206.1-15.9v27.2m58.9-33.4v13.8m73.5-2.1v11.5m25.5-20.9v9.2m-63.6-8.7v8.4m-71.7-6.9v29.6m81.7-29.5v10m-103.1-28.1v25.5m157.2-6.9v6.6m-56.1-13.7v12m147.8-3.4v12.2m-272.5-15.5v15.4m98.1-11.2v9.5m116.9-7.7v2.1m-126.3-8.3v11.7m-79-13.4v11.1m219.4-21.8v19.3m33.9-5.4v18.3m-92.6-19.1v9m111.4-5.8v31.4m-182.7-36.9v14.5m75.6-11.3v9.2m-11.1-12.6v11.2m-14-11v14.9m121-15.1v24.5m-231.3-32.7v29.7m-5.7-21v14.8m-67.8-19.3v20.2m198.7-9.7v16.4m-122.1-19.9v20.4m242.2-27.3v30.6m-211.6-31.4v27.1m125-21v12.9m52.7-11.8v24.9m-229.8-28.1v15.6m185.3-11.6v8.8m-157.2-12.7v18.7m-12-20.5v16.1" marker-start="url(#hR)" marker-mid="url(#hR)" marker-end="url(#hR)"/><path d="M197.8 301.2m-125.2-1.5m-35.9 8.7m161.2-10.7m-109.5-4.8m-44.2 6.2m189.8-.5m-92.1 2.6m-60.4-.2m122.8-7.1m-147.1-3.1m-7.4 7.9m114.4 1.5m-91-7.7m106.1 2m58.5 .5m-119.7 4.1m150.1-2.3m-236.6 2.5m225.1-4m22.1-1.2m76.7 2.4m-23.4-1.2m-123.4-2.9m-86.2 4.7m122.6-2.4m-67.7-1.4m-94.5-3.3m25 6.3m69.1-6.2m-63.3 9.5m93.4-6.9m11.5 .5m-122.8 5.1m27.7-2.2m137.5-5.6m9.2 4.5m72.4-10.4m-212.6 11.3m96.8-2.9m-111.5 7.5m57.3-1.1m55.8-4.3m-161.5-4.2m93.4 4.4m185 6.2m-145-8.1m-46.5 4m-25.4 15.7m23.2-14.7m137.4-2m-237-4.6m171.3 7.9m-129.1-4.4m247.5 5.8m-180.8-6.4m82.2-.1m-197.8 5.1m143.9-2.5m126.5 1.2m-165.9-10.1m19.9 4.4m-63-2.6m80.4 7m-77.1-1.1m100.3 3.1m-22.8-4.3m.8-4.2m89.9 5.4m-183.7 2.3m237.4-2.1m-83.9 9.5m-150-15.8m66.2 4.9m80.4 2.2m-16.9-8.4m-28.7 6.6m89.4 1.1m26.9-2.9m-161.5 1.3m17.7 .1m85.3 1.6m98.1 1.2m-258.7-9.6m257.6 3.7m-311.4 6.4m178.9-2.5m-54-1.2m-135 10.1m-.6-5.3m110.1 .3m156.9-.6m-256.5-16.5m233 15.9m-148-17.8m170.5 15.1m6 9.1m-67.5-10.3m112.8 0m-79 .2m-235.6-4.5m142.4 2.7m-144.3 4.4m55.8 3.1m74.4-5.1m174.6 9.3m-160.4-7.4m-8-2.1m-39.6-10.5m24.2 9.7m-100.3-2.2m70.2-5.3m104.3 11.3m5.8-1.8m-182.2 1.6m70.6 4.7m-90.6-14.1m295.9 2m-22.5 11.9m-172.7-9m-65.4 3.4m285.7-5.4m1-10.3m-228.6 5.9m147.6 7.8m-19.5 1.4m-119.1 4.9m184.9-10.5m-243.5 10.8m210.4-5.3m-146.7 3.2m-93.6 1.9m45.3-10.3m55 .8m124.1 2.7m-60.6 2.4m84.8-6m12 3.7m-147.8 5m9.4 1.7m-83.4-8.3m-44.6 3.7m47.3-2.5m-36.7 11.8m218.5-10.3m-31.9 2.1m66.8-4.2m-32.8-1.3m17 2.5m-114 1.5m79.7-1.6m-181.7 6.2m226-11.1m-122.7 4.8m106.9 2.7m-207.9 .9m214.1-3.5m-205.4-7.3m-12.9 15.7m194.4-8.1m-135.5-.3m201.8 .5m-270.5 12m11.3-12.7m82.4 2.8m22.3 1.5m3.2-6.8m21.3 1.3m-123.4-5.4m261.6 9.7m-186 .4m-69.4 4.6m70.6-8.9m75.1 3.5m-186.9-10m64.1 17.1m106.6-10.2m-43.8 2.6m59.2 1.8m-187.1-1.3m260.2 2.8m-24.8-2.9m.9 2.3m-66.5-2.3m37.6-2m-175.6 .6m-16.3-3.9m24.8 5.2m221.4 13.9m-67.4-13m-42.5-.2m120.3-3.8m-174.9-2.9m167.4-3.4m-209.5 11m189.1-2.8m-238.8 13.4m4.3-3.6m113.8-10.8m183.1 5.4m-182.8-2.7m-43.9 10.8m-71-14.1m164.5 1.2m-39.4-.1m97.3 2m-117.5 5.4m134.5-7.6m-3.7 .7m-71 3.1m-49.2-7.8m-116.2-5.3m220.2 8.2m-88.5 .2m88.5-2.4m49.4-2.5m-286.3 6.6m309.7 6.2m9.6-5.1m-196.8-7.2m40.5 3.9m-36.8 2.1m154.2-4.3m-243.4 8.1m110.6-6m84.5 .7m36.2 4.4m-206.1 7.4m58.9-12.9m73.5 10.5m25.5-10.4m-63.6 0m-71.7 12.1m81.7-9.7m-103.1-10.4m157.2 9.2m-56.1-4.5m147.8 8.8m-272.5-1.7m98.1 1.2m116.9-1.9m-126.3-1.4m-79-1.9m219.4-6.6m33.9 13.3m-92.6-5.3m111.4 14.3m-182.7-14m75.6 .6m-11.1-2.4m-14 2.1m121 4.6m-231.3-5.6m-5.7 1.2m-67.8-1.7m198.7 8.6m-122.1-1.6m242.2-1.8m-211.6-2.6m125-1m52.7 7.2m-229.8-7.9m185.3 .6m-157.2 1m-12-3.1" marker-start="url(#cR)" marker-mid="url(#cR)" marker-end="url(#cR)"/><path stroke="#0000ff" d="M128.3 279.8v51.5m-79.7-41v24.2m240.4-21.4v2.4m25.5-17.4v17.3m-165.1-5.3v10.4m172.1-24.5v22.3m-278.2-11.7v20.4m241.1-13.9v4.8m-145.6 .7v23.4m198.5-37.8v14.1m-194.9-10.2v15.2m149.3-13v8.3m6.7-8.6v13m-116.8-9.5v11.7m127.6-19v14m10.5-18v19.3m-161.8-9.4v8.9m-111.1-9.9v20.2m129.7-21v8.7m68.1-9.8v11.1m-33.6-6.1v10.5m-69.8-25.2v17.1m-10.8-4.7v19.7m172.9-21.4v13.7m-264.7-22.4v20.3m195.5-6.9v8m82.5-14.9v12.6m-247.1-18.9v17.4m198.5-22.2v25.3m-147.9-15.3v26.2m-12.5-25.1v20.3m-62.6-33.3v24.5m7.4-9.9v13.2m24.9-27.2v23m-28-7.2v24m65.2-28.5v23.7m-44.1-33v36.3m67.2-24.8v13.2m-54-23.4v15.6m184.6-11.3v31.7m-180.9-22.8v14.7m98.4-17.8v7.5m114.8-13.6v24.1m-12.3-13.1v5.3m-255.5-9.1v21.5m85.4-22.6v15.8m37.4-13.7v9.3m104.7-12.5v11.1m-30.3-9.4v10.5m-.6-12.7v12.5m-185.7-15.1v20.5m164-12v7.3m-2.6-11.6v13.1m-153.9-19.8v19.7m279.4-20.7v19.6m-132.1-11v10.6m-51.5-2.9v10.5m-105.5-21.2v18m11.7-14.5v29.1m152.2-27.9v12.1m-85.5-30.5v20.1m106.1-6.6v11.5m-170.2-10.4v11.3m2.3-17.4v22.3m65.3-12.1v39.5m47.4-42.4v12.6m25-18v16.1m28.2-7.7v10.8m-39.6-12.1v9.8m26.2-14.4v10.6m-166.7-9.6v14.6m143.5-10.5v5.8m-19.4-9.8v12.6m-19.8-10v10m101-6.4v12.4m19.4-19.9v26.8m-230.3-25.8v20.5m236.4-13.5v11m-76.4-18v13.8m-56.6-15.6v18.8m-55.2-16.8v20m193-25.8v7.4m-45-4.5v13.7m-201.8-24.3v26.5m312.1-23.2v19.8m-56.4-2v1.8m-3-2v5.1m-153.6-18.7v38m-84.1-31v20.5m57-19.5v13.4m-60.1-22.5v30.1m-11.9-22.5v14.1m185.8-10.2v10.9m-161.3-21.6v26.5m141.7-27.2v19.7m62.3-10.3v10.5m-16.6-9.3v11.3m-9.7-12.9v8.4m-138.8-12.2v19.1m-8-16.3v14.2m229.1-14.1v14.6m29.4-12.8v14.5m-175.6-9.7v8.4m22.9-8.6v9.5m-123.4-18.6v23.4m125.8-20.9v15.1m33.8-10.5v7.3m-99.5-38.4v43.6m211.7-15.7v15.9m-296.7-23.8v25.3m258.5-17.1v11.7m-222.4-13v18m-23.1-27.2v20m230.1-9.2v4m-241.3-17.4v25.1m201.9-9.3v6.8m-91.5-11.9v13.9m7.6-11.5v8.5m62.5-9.7v10.1m-183.9-3.4v13.7m2.7-22.7v24.9m249.1-28.9v17.4m-114.4-8.5v13.3m-136.2-28.1v26.7m119.6-13.6v8.7m33.8-9.5v11m-36.5-8.3v8.3m-119.7-8.9v18.6m4.8-29.2v18.9m156.4-14.2v11.6m-156.2-4.7v26m150.8-27.9v9.7m39.8-10.9v9.1m52.9-3.3v2.2m-31.8-5.7v11.3m-149.4-14.4v14.6m-64.9-14.8v16.8m146.6-9.3v9m-24.9-15.9v10.5m6.1-5.6v8.3m24.6-8.1v15.7m-56.5-14.5v12.5m44.1-11.5v9.1m2.7-11.4v10m-148.9-20.8v21m125.4-12.9v8.4m-31.5-5.6v16.6m-7.8-22.7v20.2m-83.5-29.2v17.5m185-4.3v14.4m-58.2-14.5v8m-47.3-13.4v17.8m-45.8-15.4v17.3m86.5-8.4v8.8m123.1-11v3.6m22.5-10.6v10.8m-133.1-5.9v11.7m96.5-12.7v24.9m52.5-27.7v12.8m3-6.6v20.1m-95.6-25.4v7.5m76.5-14.3v19.5m31.6-13.7v18.7m-112.7-17.8v10.3m.9-13.5v9.6m-112.5-16.2v27.1m174.2-14.5v2.6m-127.7-3.7v6.2m106.8-14.1v26.3m-34.3-18v10.4m25.3-20.8v14m-44.5-5v6.6m-62.6-2.4v10.6m-97.4-24.2v17.6m291-24.5v25.2m-269.8-13.7v17.6m196.3-18.1v9.4m51.4-16.5v15.9m-77.7-6.4v11.6m4.9-6.5v9.3m-115.2-21.7v29.1m68.3-17.8v10.1m-114.5-17.2v22.2m45.4-25.5v29.4m-17.8-20.1v20.3m142.7-16.9v8.1m45.8-19.6v29m-140.7-18.9v13.7m72.4-16.9v11m-115.4-25.6v27.3m-25.2-13.4v17.2m170.2-20.3v22.8m19.7-12.4v5.2m37-12.5v10m-31.2-4.1v8.2m-244.5-22.9v26.7m100.4-19.2v16m171.2-9.2v16.9m-153.5-23.2v11.6m86.3-8v8.6m-8.5-10.5v9.5m-111.6-20.8v24.9m83.7-11.6v10.6m-164.2 0v36.3m15.3-73.9v59.2m150.7-31v14.3m-180.3-18.6v19.1m28.9-30.8v59.3m246.9-44.4v14.9m-254.4-25.5v20.9m232.2-8v1.8m-224-28.7v46.8m221.1-19.6v3.9m-227.4-21v25m100.5-7.4v13.3m14.8-19.1v11.7m-129.8-11.6v18.2m175.8-17.7v8.3m-50.8-5.9v5.9m88.2-4.5v6.2m-129.2-7.4v17.5m193.7-25.3v25.4m-5.1-23.1v15.2m-275.8-18.2v21.8m-8.1-21v18.5m121-12.3v8.6m136.9-2.4v2m-62.1-4.6v10.6m-70.8-15.3v10.1m33.7-9.6v10.8m51-13.9v10.5m8.5-7.9v7.9m-206.2-14.6v21.5m239.5-9.7v2.4m-66.8-7v10m-13.1-8.8v8.2m-71.5-26.3v37.4m6.6-18v11.5m112.4-15.8v9.9m-65-3.3v6.3m79.1-9.7v8.2m-22.3-7.6v13.1m-203.4-16.2v19.6m104.2-27.7v13.6m-92.1-11.2v17.1m263.1-17.6v16.7m-266.6-18.6v19m302.7-8.7v14.3m-9.8-15.4v22.5m-97.9-18.7v7.2m-45.4-8.4v5.9m-152.8-11v19.4m-12.7-16.2v15.3m7.3-24.3v25.7m10.7-25.5v17.2m107.8-5.9v10.8m-112.3-20.6v23.2m167.9-20.9v12.1m-92.8-25.6v23.9m221.4-15.7v16.2m-289.5-4.9v26.6m236-25.9v5.5m-20.4-15.7v23.5m-140.3-15.2v11.5m157.3-8.8v2.9m-229.3-6v20.5m69.4-27.9v15.5m162.3-3v1.8m-31.7-4.9v13.5m-4.3-12.9v10.3m-183.1-13.6v29m219-23.5v4.5m-71.1-7.2v8.7m109.5-19.8v24.9m-282.7-20.7v16.3m241.9-8.3v4.7m-136.8-6.2v8.7m-7.3-15.6v18.2m170.5-13.7v13.1m-207.5-15.3v12.2m166-11.2v10.7m-111.3-10.9v11.5m-27.8-22.2v39.3m-97.2-29.5v15.2m68.3-10.6v14.6m8.1-24.2v16.8m193.7-8.5v13.9m-169.7-28.2v18.1m-16.4-6.9v18m-3.5-28.1v22.9m170.6-3.9v2.7m-244.9-8.1v23.7m.2-33.9v20.5m68.7-18.2v22.3m-74.2-13.5v24.2m-4.4-41.7v33.5m117.9-18.2v11.1m-13.7-12.8v16.6m147.8-16.9v9.2m-106.4-5.9v7.8m-67.9-20.3v17.8m177.6 1v5m-242.2-18v18.6m218-9.6v7.6m-190.1-25.6v24.2m-36.2-17.1v24.5" marker-start="url(#hB)" marker-mid="url(#hB)" marker-end="url(#hB)"/><path d="M128.3 305.5m-79.7-3.1m240.4-8.2m25.5-7.5m-165.1 8.7m172.1-8.2m-278.2 9.6m241.1-1.3m-145.6 14.8m198.5-19m-194.9 4.4m149.3-1.3m6.7 2.1m-116.8 2.8m127.6-6.1m10.5-1.3m-161.8 4.6m-111.1 4.7m129.7-6.5m68.1 .1m-33.6 4.6m-69.8-11.4m-10.8 13.7m172.9-4.6m-264.7-5.4m195.5 7.2m82.5-4.6m-247.1-3.9m198.5-.8m-147.9 10.4m-12.5-1.8m-62.6-11m7.4 9m24.9-9.1m-28 16.3m65.2-4.6m-44.1-3.1m67.2 0m-54-9m184.6 12.4m-180.9 .4m98.4-6.8m114.8 2.3m-12.3 1.5m-255.5 4.3m85.4-3.9m37.4-1.2m104.7-2.2m-30.3 1.3m-.6-1.1m-185.7 1.4m164 1.9m-2.6-1.5m-153.9-3.3m279.4-1.1m-132.1 4.1m-51.5 7.6m-105.5-7m11.7 9.2m152.2-7.3m-85.5-14.5m106.1 9.3m-170.2 .9m2.3-.5m65.3 18.7m47.4-16.2m25-3.8m28.2 5.8m-39.6-1.8m26.2-4.3m-166.7 3.1m143.5-.3m-19.4-.7m-19.8 1.4m101 4.8m19.4-.3m-230.3-2.1m236.4 2.2m-76.4-5.6m-56.6 .7m-55.2 2.6m193-12.1m-45 6m-201.8-4.1m312.1-.1m-56.4 8.8m-3 1.4m-153.6 2.8m-84.1-1.6m57-2.6m-60.1-.7m-11.9-.4m185.8 2.2m-161.3-2.8m141.7-4.2m62.3 4.8m-16.6 1.6m-9.7-3m-138.8 1.6m-8 .3m229.1 .4m29.4 1.6m-175.6 1.8m22.9 .4m-123.4-2.2m125.8-1.6m33.8 .6m-99.5-12.9m211.7 14m-296.7-3.1m258.5 1.4m-222.4 1.8m-23.1-8.2m230.1 2.8m-241.3-2.8m201.9 6.6m-91.5-1.5m7.6-.4m62.5-.4m-183.9 8.6m2.7-3.4m249.1-7.8m-114.4 6.8m-136.2-8.1m119.6 4.2m33.8 .3m-36.5 1.4m-119.7 4.5m4.8-10.4m156.4 1.1m-156.2 14m150.8-10.1m39.8-1.5m52.9 2.4m-31.8 1m-149.4-1.4m-64.9 .9m146.6 3.5m-24.9-6m6.1 3.8m24.6 3.9m-56.5-.5m44.1-.7m2.7-1.8m-148.9-5.3m125.4 1.9m-31.5 6.8m-7.8-4.3m-83.5-10.4m185 11.8m-58.2-3.4m-47.3-.5m-45.8 2.2m86.5 4.6m123.1-4.8m22.5-3.3m-133.1 5.3m96.5 5.5m52.5-8.8m3 9.9m-95.6-11.6m76.5-.8m31.6 5.3m-112.7-3.3m.9-3.5m-112.5 2.1m174.2 .4m-127.7 .7m106.8 2.2m-34.3 .3m25.3-8.6m-44.5 5.3m-62.6 6.2m-97.4-10.1m291-3.2m-269.8 7.8m196.3-4.6m51.4-3.8m-77.7 7.3m4.9 4m-115.2-2.5m68.3 1.8m-114.5-1.1m45.4 .3m-17.8 4.7m142.7-2.7m45.8-1m-140.7 2.4m72.4-4.6m-115.4-6.4m-25.2 8.9m170.2-.3m19.7 1.6m37-4.9m-31.2 5m-244.5-5.5m100.4 2.2m171.2 7.3m-153.5-9m86.3 2.1m-8.5-1.5m-111.6-3.6m83.7 6.2m-164.2 23.5m15.3-26.2m150.7 5.7m-180.3-1.9m28.9 8.4m246.9-7.2m-254.4-7.6m232.2 3.3m-224-4.4m221.1 5.7m-227.4-6.5m100.5 11.7m14.8-6.5m-129.8 3.3m175.8-4.4m-50.8 1.2m88.2 1.5m-129.2 4.5m193.7-3.9m-5.1-2.8m-275.8 .3m-8.1-.9m121 1.3m136.9 2.9m-62.1 1.7m-70.8-5m33.7 .9m51-3.3m8.5 1.4m-206.2 .1m239.5 2.2m-66.8-.8m-13.1 .3m-71.5-3.5m6.6 6.5m112.4-5.2m-65 4.8m79.1-2.4m-22.3 3m-203.4 .2m104.2-11.1m-92.1 4.1m263.1-.6m-266.6-.8m302.7 8m-9.8 2.9m-97.9-3.9m-45.4-1.7m-152.8 1.6m-12.7 1.1m7.3-3.7m10.7-4.1m107.8 8.1m-112.3-3.6m167.9-3.3m-92.8-7.5m221.4 4.4m-289.5 16.4m236-9.9m-20.4-1.2m-140.3 2.3m157.3-1.5m-229.3 5.7m69.4-9.9m162.3 5.6m-31.7 2.7m-4.3-.9m-183.1 6m219-6.7m-71.1-.6m109.5-3m-282.7-.1m241.9 2.2m-136.8 .5m-7.3-2.2m170.5 1.9m-207.5-2.6m166 .2m-111.3 .2m-27.8 3.3m-97.2-2.3m68.3 4.3m8.1-8.5m193.7 6.9m-169.7-12.2m-16.4 11.1m-3.5-7.6m170.6 8.9m-244.9 5m.2-11.8m68.7 3.3m-74.2 9.7m-4.4-12.8m117.9 4m-13.7 1m147.8-3.9m-106.4 2.6m-67.9-7.5m177.6 12.4m-242.2-6.2m218 3.5m-190.1-9.6m-36.2 7.1" marker-start="url(#cB)" marker-mid="url(#cB)" marker-end="url(#cB)"/><path stroke="#10a010" d="M128.1 281.4v19m-71.2-14.5v13.7m206.8-9.4v16.9m-88.6-13.1v8.2m92.1-16.2v23m-57.1-21.1v14.1m-141.3-37v39.1m215-17.9v10m-52.5-6.7v7.7m25.3-4.7v7.6m89-15.3v12.1m-73.3-22.3v24.3m-65.7-11.7v12m37.3-5.9v6.6m68.7-9.2v11.2m12.6-15.6v23.6m-153.6-17.2v7.5m-16.5-5.3v7.3m-62.3-10.4v14m187.1-16.3v11.6m-166.5-28.8v39.6m125.5-22.4v14.6m-143.4-12.3v19m17.5-28.9v19.5m27.7-9.6v12m-53.7-11.3v12.7m132.9-17.3v14.5m-61.1-10.8v10.5m-18.4-11.5v18.8m-55.1-19v17.1m94.9-18.5v13.1m22.8-11v7.5m27.6-9.6v8.4m-153.2-16.4v16.8m249.4-22.6v18.2m-215-5.7v18.2m119.3-14.8v5.5m-7.2-1.8v16.9m-81.2-22.8v18.1m65.6-16v8.5m-135.2-22.9v21.5m118.6-5.2v9.2m8.5-21.9v14.3m97.4-12.7v14.8m-28.2-12.5v9.5m-187.7-2v12m96.5-8.4v9.7m67-15.3v10.7m-60.3-8v9.8m-110.3-18.8v26.8m37.6-29.8v23.7m10.3-17.4v17.5m116.1-14.6v7.8m-43.7-5.7v5.4m32.8-8.4v9.9m-127.8-22.2v21.5m-18.5-9.7v18.6m194-15.9v10.6m-119.1-8.4v8.6m15.3-9v12.3m162.4-28.2v17.1m-230-11.7v18.7m-34.4-12.2v34.2m157.3-32.3v9.4m-95.7-10.5v15.2m150.7-12.6v9.7m-3.8-6.7v11.1m-94.1-14.9v11m86.3-21.9v35.6m-27.8-24.3v8.9m-28.6-8.8v8.4m102.7-10.4v18m-156.8-15.5v9.8m13.5-16.3v11m139.7-12.1v16.7m-169.8-16.2v15.4m118.9-8.7v10.1m-145.6-26.7v24m94.2-11.2v8.5m103-12.4v26.9m-78.2-18.5v6.7m-102.1-8.8v17m84.5-16v9.9m-125-23.3v15.8m144.6-2.8v6.4m-126.6-21.1v19.2m174.4-8.2v7.3m-123.3-2.4v12.5m1.6-18.4v8.4m-95-4.1v16.6m35.6-26.5v17.5m6.6-16.3v18.1m-34.7-8.9v12.1m178.7-13.7v8.7m14.4-11.1v31.9m-203-34.4v52.4m156.8-48.9v9.7m-59.3-4.9v7.3m119-18.5v11.3m-112.9-2.3v7.7m169.7-10v17.4m-272.1-13.2v17.1m-20.8-22.1v17.2m67.2-21.6v19m11.5-11.2v18.8m147.9-20.3v11.5m-101.4-8.8v6.7m-91.2-9.9v15.1m141.5-14.8v10.4m-111.3-19.1v25.1m247.5-23.3v22.1m-192-12.1v9.3m90.3-7v6.8m-176.6-14.2v20.6m251.3-18.9v16.9m-185-25.9v16.2m207.4 1.5v17.5m-155.7-26.6v9.8m126.2-18.8v31.4m-25.1-30.6v17.7m-120.1-8.3v8.9m-74.3-12.9v19m24.2-19.7v19.3m130.7-18.7v13.1m-170.8-6.8v12.6m73.8-13.1v7.4m65.7-7.8v12.5m-151.2-12.6v20.5m-23.4-17v20.6m14.8-27v19.5m38.3-12.7v13.7m.3-18.6v16.6m60.3-14.6v8.8m12-9v4.8m-33.2-9.3v11.4m106.1-10.7v11.1m-11-7.9v8.9m-143-11v15m204.6-22.1v18.6m-173.5-14.3v23.5m198-17.5v17.8m-126.1-16.9v8.8m115.1-11.7v9.5m-172.7-8.1v12.4m109.8-13.4v8.3m-150.4-12.5v17.9m92.8-15.7v8.7m-65.8-11.6v16.3m-36.2-14.1v18.1m117.8-20.3v10.7m-34.1-.7v8.4m74.3-16.3v12.5m24.4-7.4v9m-146.2-26.4v20.4m-36.2-5.5v10.5m89.9-14.3v9.6m-48.5-9.4v17.8m7.6-17.9v21.6m-73.9-38.5v28.1m25.9-12.4v23m163.6-19.2v10.8m51.9-16.7v22.3m-27.3-14.3v4.1m-59.6-8.2v9.1m130.9-4.5v18.3m-196.9-15.4v13.6m118.2-19.8v12.8m-150.5-22.8v25.2m77.6-12.7v8m-156.8-34.3v27.5m27.3-7.1v23.7m183.2-21.1v11.8m-74.7-12.5v9.1m-13.6-14.2v14.9m35.9-3.8v6.8m44.1-7.3v9.3m-176.3-8.7v19.2m118-23.5v10.1m58.3-11.8v13.8m-64.1-15.5v13.3m-69.3-7.8v33.4m26.8-32.4v9.5m-56.5-20.6v16.8m192.7-4.3v7.4m-84.8-7.2v6.3m-62.1-8.2v19.6m20.3-20.2v16m3.2-13.8v10.4m114.5-36.6v32.7m-1-5.8v11m-128.5-10.6v22.5m-15-44.3v23m-38.6-10.6v16.6m24.1-10.3v12.3m75.7-11.5v10.3m-17.5-10.1v12m26.3-11.2v6.4m60.5-9.7v9.8m-171.1-13.5v18.2m-11.9-16v20.3m31.9-17.9v20.4m-29.1-23.6v17.8m265.8-16.9v12.7m3.9-17.3v21.1m-194.5-13.9v6.9m-73.7-8.3v22.2m281.7-26.3v18.8m-289-16.6v17.9m117.7-15v7.3m56.6-9.3v14.7m39.4-8.1v5.2m-192.6-19.5v18m179.2-17v33.8m-77.5-26.4v9.7m-53.5-10.8v15.2m120.3-13.4v7.7m-170.7-13.7v15.2m-14.4-14.2v11.5m137.7-9.4v12.3m-38.2-9v8.5m10.2-6.6v9.1m-21.7-15.1v9.7m-64.4-3.9v11.6m141.8-10.4v9.2m-14.6-11.3v7.3m49.9-11.3v24.7m-15-19.3v7.3m-158.3-10.2v22.4m186.5-15.5v5.4m-179.7-10.3v13.8m22.9-19.1v30.6m136.6-32.4v19.3m.3-24v25.5m-100.6-13.5v8.4m-6.1-14.9v12.3m49.2-5.3v13m-29-13.4v11.9m56.1-15.1v11.9m78.7-11.6v17.8m-98.5-21.2v11.9m-29.2-4.3v6.2m20.3-7.4v6.1m-33.2-13.5v13.6m-57.6-11.4v26.6m135.8-24v10.3m-182.1-18.2v30.5m184.2-22v14.2m-127.1-13.9v14.3m117.2-14.9v8.2m26.5-20.8v27.9m-14.1-14.8v10.1m22.2-9.3v7m-205.9-15.6v23.3m72.8-13.8v13m146.5-17.6v13.3m-46.4-6.3v9.8m-12.6-18.9v10.4m82.9-9.8v17.6m-133.8-10.3v4.5m-83.8-20.6v23m54.4-14.4v11m109.5-5.2v8.4m-58.3-6.8v9.1m80.2-12.8v7m-54.1-11.4v12.9m-132.4-19.3v15m-27.1-.5v13.3m228.8-30.1v22.4m-93.6-11v9.2m42.3-3.8v10.7m59-15.3v16.9m-34.1-32.1v34.6m-157.2-23.3v17.6m193.5-14.4v16.3m-105.8-12.4v9.2m66-4.6v8.9m-190-24.2v25.2m193.6-18.1v13m-63.8-6.7v13.4m-28.5-15.9v7.4m8.6-9.6v7.3m-3.1-4.1v8.1m-101.7-11v13.3m263.1-21.4v15.4m-203.7-19.2v20.2m-76.2-33.6v43.7m142.2-19v8.3m2.4-19.4v16m59.8-4.5v12.2m-169.2-20.6v17m13.2-27v23.4m210.5-2.7v12.6m-170.6-15.7v17.7m-25-21.6v20.5m-14.8-11.6v21m103.1-25.1v10.5m17.9-11.3v14.1m46.5-10.5v5.3m-137.2-10.5v10.2m-94.4-13.6v17.4m20.4-13.2v18.5m68.5-23.4v21.7m-33.2-24v11.6m94.9-.3v8m39.3-6.8v11.1m-170.6-10.3v12.9m230.6-24.6v16.5m-234.7-13.7v18m.6-20.7v19.5m98.6-13.3v9.4m31.1-5v5.3m-28.4-11.2v12.1m-5.6-8v9.1m90.8-11.2v9.8m-85.3-4.6v7.1m81.4-11.8v7.4m-192.6-6.8v15m209.5-28.3v33.3m-124.6-21.7v12.1m77.4-16.1v11.8m62.3-6.8v7m-89.4-5.1v8.4m49.2-9.1v7.9m-166.4-8.4v21.7m271.6-26.6v21.3m-227.6-24.4v16.4m112.8-6v5.6m64.1-3.5v9.1m-76.5-11.6v6.5m28.8-9.2v10.9m-17-13.6v11.2m65.1-6.5v15m-177-28.2v21.3m203.4-17.7v20m-185.8-16.2v14.7m-33.8-14.1v16m62.2-11.7v8.7m71.9-17.9v14.7m-13.1-2.2v9.8m-193.4-13.9v23.7m273.5-29.9v16.5m-207.6-21.5v17.3m68.6-9.8v9.4m-50.7-16.5v22.3m151.8-10.3v7.2m-152.8-5.6v23.4m15.6-39.2v19.1m5.6-7.2v22.4m137.2-31.2v27.8m57.8-25.7v13m-20.9-5.9v14.2m-137.5-12.3v11.7m144.6-14.5v14.9m-36.3-11.8v10m-181.3-13.6v16.8m134.4-14.8v11.6m15.3-11.2v9.8m-181-18.1v22.6m189.6-21.3v15.8m-190-10.1v17.8m7.5-29.1v24.9m87.4-9.9v7.3m-34.1-10.1v22.5m107.1-27.1v10.6m98.7-15v19.7m-230.7-9.6v13.6m201.9-13v21.6m-84.6-24.3v10.4m-85.8-13.8v17.4m125.4-13.5v8.7m-220.8-18.8v23.3m6.7-21v27.6m213.1-14.9v9.8m2.9-11.3v10.8m-157.9-25.3v21.2m-32.1-5.7v20.5m61.7-32.5v22.6m-42.2-14.9v17.3m-42.6-12.2v19.7m146.1-28.1v9.4m3-8.2v13.2m-4.4-7.1v10.6m-95.6-21.7v17.6m51.7-6.6v6.7m81.6-6.7v6.1m7.3-8.6v9m108.1-22.7v21.5m-231.7-17.7v22.5m-10.9-16.9v16.9m22.2-18.2v23.5m67.5-15.6v6m77-22.5v36.2" marker-start="url(#hG)" marker-mid="url(#hG)" marker-end="url(#hG)"/><path d="M128.1 290.9m-71.2 1.8m206.8 5.9m-88.6-.5m92.1-.6m-57.1-2.6m-141.3-10.4m215 6.7m-52.5 2.2m25.3 2.9m89-5.5m-73.3-4.1m-65.7 6.5m37.3 3.4m68.7-.3m12.6 1.8m-153.6-1.7m-16.5 2.2m-62.3 .1m187.1-3.4m-166.5-3.2m125.5 4.7m-143.4 4.5m17.5-9.7m27.7 6.2m-53.7 1.1m132.9-3.8m-61.1 1.8m-18.4 3.1m-55.1-1m94.9-3.4m22.8-.8m27.6-1.7m-153.2-3.7m249.4-5.1m-215 12.5m119.3-2.9m-7.2 9.4m-81.2-5.3m65.6-2.8m-135.2-7.9m118.6 10.2m8.5-10.1m97.4 1.8m-28.2-.3m-187.7 8.7m96.5 2.5m67-5.1m-60.3 2.2m-110.3-.4m37.6-4.6m10.3 3.1m116.1-1.9m-43.7 .9m32.8-.7m-127.8-6.6m-18.5 10.4m194-1.3m-119.1 1.2m15.3 1.5m162.4-13.5m-230 6.2m-34.4 14.2m157.3-10.5m-95.7 1.8m150.7-.1m-3.8 3.7m-94.1-3.9m86.3 1.4m-27.8-2.1m-28.6-.1m102.7 2.8m-156.8-1.5m13.5-6m139.7 1.8m-169.8-.2m118.9 4m-145.6-9.6m94.2 5.1m103 5.2m-78.2-1.7m-102.1 3.1m84.5-2.6m-125-10.4m144.6 8.3m-126.6-8.3m174.4 5.1m-123.3 7.4m1.6-7.9m-95 8.4m35.6-9.4m6.6 1.5m-34.7 6.1m178.7-3.3m14.4 9.2m-203 7.8m156.8-17.9m-59.3 3.7m119-9.2m-112.9 7.2m169.7 2.4m-272.1 4.2m-20.8-5m67.2-3.5m11.5 7.7m147.9-5.1m-101.4 .2m-91.2 1m141.5-2m-111.3-1.3m247.5 .2m-192 3.7m90.3 1m-176.6-.5m251.3-.1m-185-9.4m207.4 18.4m-155.7-13m126.2 1.8m-25.1-6m-120.1 4.9m-74.3 1m24.2-.4m130.7-2.5m-170.8 6m73.8-3m65.7 2m-151.2 4m-23.4 3.5m14.8-7m38.3 3.9m.3-3.4m60.3-1.9m12-2.2m-33.2-1.2m106.1 .5m-11 2.1m-143 1m204.6-5.3m-173.5 6.7m198 3.2m-126.1-3.6m115.1-2.5m-172.7 2.8m109.8-3.1m-150.4 .6m92.8-2.3m-65.8 .8m-36.2 3.2m117.8-5.9m-34.1 8.8m74.3-5.8m24.4 3.3m-146.2-11.7m-36.2 9.9m89.9-4.3m-48.5 4.4m7.6 1.8m-73.9-13.7m25.9 13.1m163.6-2.2m51.9-.1m-27.3-1.2m-59.6-1.6m130.9 9.2m-196.9 .6m118.2-6.6m-150.5-3.8m77.6 3.9m-156.8-16.6m27.3 18.6m183.2-3.4m-74.7-2m-13.6-2.3m35.9 7.2m44.1 .6m-176.3 5.6m118-8.9m58.3 .3m-64.1-2m-69.3 15.5m26.8-11m-56.5-7.4m192.7 7.8m-84.8-.4m-62.1 4.8m20.3-2.4m3.2-.6m114.5-15m-1 16m-128.5 6.1m-15-21.5m-38.6 9.2m24.1 4.1m75.7-.2m-17.5 1.1m26.3-2m60.5-1.6m-171.1 .5m-11.9 3.3m31.9 2.5m-29.1-4.6m265.8-1.7m3.9-.3m-194.5 .1m-73.7 6.2m281.7-5.8m-289 1.8m117.7-2.5m56.6 1.7m39.4 1.9m-192.6-7.9m179.2 8.9m-77.5-4.6m-53.5 1.5m120.3-1.9m-170.7-2.2m-14.4-.9m137.7 2.6m-38.2 1.3m10.2 2.2m-21.7-5.6m-64.4 6.7m141.8-.1m-14.6-2.9m49.9 4.7m-15-3.4m-158.3 4.7m186.5-1.6m-179.7-.8m22.9 3.2m136.6-7.5m.3-1.6m-100.6 3.5m-6.1-4.5m49.2 7.3m-29-1m56.1-3.2m78.7 3.3m-98.5-6.4m-29.2 4.8m20.3-1.2m-33.2-3.7m-57.6 8.7m135.8-5.6m-182.1 2.2m184.2 .4m-127.1 .4m117.2-3.7m26.5-2.7m-14.1 4.2m22.2-.8m-205.9-.5m72.8 4.4m146.5-4.4m-46.4 5.2m-12.6-8.8m82.9 4.3m-133.8 .6m-83.8-6.8m54.4 2.6m109.5 4.5m-58.3 2m80.2-4.8m-54.1-1.4m-132.4-5.4m-27.1 13.7m228.8-12.3m-93.6 4.7m42.3 6.2m59-1.5m-34.1-6.3m-157.2 2.8m193.5 2.5m-105.8 .4m66 4.5m-190-7.2m193.6 1m-63.8 6.5m-28.5-5.5m8.6-2.2m-3.1 3.5m-101.7-.3m263.1-7m-203.7-1.4m-76.2-1.7m142.2 7.1m2.4-7.3m59.8 9.5m-169.2-5.9m13.2-6.8m210.5 15.2m-170.6-.5m-25-2.5m-14.8 9.2m103.1-9.4m17.9 1.1m46.5-.8m-137.2-2.8m-94.4 .2m20.4 4.7m68.5-3.2m-33.2-7.4m94.9 9.5m39.3 2.7m-170.6 1.8m230.6-9.9m-234.7 3.5m.6-2m98.6 1.2m31.1 2.3m-28.4-2.4m-5.6 2.5m90.8-1.7m-85.3 3.9m81.4-4.5m-192.6 4.4m209.5-4.2m-124.6 .9m77.4-4.1m62.3 2.6m-89.4 2.6m49.2-1m-166.4 6.4m271.6-5.1m-227.6-5.5m112.8 4.9m64.1 4m-76.5-3.9m28.8-.5m-17-2.5m65.1 6.6m-177-10m203.4 2.9m-185.8 1.2m-33.8 1.1m62.2 .8m71.9-6.2m-13.1 10m-193.4 2.8m273.5-9.7m-207.6-4.6m68.6 3.5m-50.7-.6m151.8 4.4m-152.8 9.7m15.6-17.9m5.6 13.5m137.2-6.1m57.8-5.4m-20.9 7.8m-137.5 .7m144.6-1.2m-36.3 .6m-181.3-.2m134.4-.6m15.3-.5m-181-1.9m189.6-2.1m-190 6.7m7.5-7.8m87.4 6.3m-34.1 4.8m107.1-10.6m98.7 .2m-230.7 7m201.9 4.6m-84.6-8.3m-85.8 .1m125.4-.5m-220.8-2.7m6.7 4.4m213.1 3.8m2.9-1m-157.9-9.2m-32.1 15m61.7-10.9m-42.2 5m-42.6 6.3m146.1-13.4m3 2.9m-4.4 4.9m-95.6-7.6m51.7 5.5m81.6-.2m7.3-1.1m108.1-7.4m-231.7 4.3m-10.9 2.8m22.2 2m67.5-1m77-1.3" marker-start="url(#cG)" marker-mid="url(#cG)" marker-end="url(#cG)"/><path stroke="#000000" d="M176.1 292.7v5.1m-137.7-8.3v15.3m85.3-18.9v16.8m36-6.3v10m98.9-14.9v5.9m-223.6-11.1v16.4m98.2-19.7v14.9m-67.2-8.6v13.3m97.1-8.4v6.8m-82.4-13.5v19.5m15.6-16.4v9.1m-50.9-9.1v12.3m48.5-16.7v12.2m108-5.1v6.1m150.7-18v16m-129.8-5.6v7.4m-35.5-6.2v6.7m77.8-13v9.8m-28.5-2.4v4.8m-150.1-15.7v14.1m-34.5-7.3v12.8m294.5-16.1v9.7m-49.3-4.2v11m-20.8-9.8v6m-97.1-10.8v7.4m176.3-7.8v15.9m-174.9-12.6v10m-122-21.6v20.4m31.5-12v18.1m64.1-14.7v8.7m42.9-12.4v6.6m-47.1-4.1v7.2m194.9-8.5v9.4m-60.2-4.3v2.2m-122.2-5.9v10.1m-35.4-7.3v10.9m-53-16.3v13.4m33.2-13.1v11.6m65.1-10.3v7.9m-19.1-5.7v7.3m-6.6-8.5v6m135.1-5.2v8.2m-184.9-17.7v24.3m156.9-15.8v6.5m39.5-8.6v12.1m-27.6-10.2v5.8m-12.4-3.3v6.1m-216-10.1v13.7m199.7-12.4v7.5m-98.2-22.1v16.4m-54.5-13.6v17.8m262.2-1.6v9.8m-71.3-13.9v7m-93.8-9.1v7.5m167.5-5.8v13m-301.9-8.1v9.6m244.9-12.7v8.2m43.5-13.5v10m-264-9.9v9.1m260.6-14v12.7m-153-1.9v7.7m98.4-6.8v6.8m-120-6.7v5.5m-41.5-21v25.5m2.9-18.5v18.6m205.7-18.6v11.7m-216.8-13.5v20.2m183.1-8.7v2.2m-239.5-6.5v14.8m187.8-12.6v6.8m-160.2-12.1v18.5m197.5-10.9v9.5m-233.4-8v19.5m54.1-30.3v12.6m38-12v9.2m163.3-.8v10.3m-43.5-14.3v7.6m-59.4-5.9v6.3m46.7-6v8.2m-9.4-8.8v8m26-7.1v6.8m-183-10v12.5m160.6-11.7v6.3m23-3.6v7.4m22.5-6.9v13.7m-183.5-23.3v16.4m136.1-8.1v6.1m-108.7-2v7.9m33.5-11.4v9.4m15.7-12.2v10.8m-96.2-2.1v16m256.5-30.6v15.4m-154-6.6v5.4m-63.8-8v19.3m-85.2-18.7v9.2m256.7-6v1.8m-91.1-4.1v6m2.9-5.8v4.9m-97.2-16.9v16.5m11.3-13.1v15.6m-79.4-11.2v8.8m249.7-3.5v4.2m51.9-4.2v12.5m-147-10.5v5.9m-52.4-14.6v17.1m-44.1-19.8v11.5m254-4.6v9.2m-127.8-8.8v8.3m-54.8-3.3v5.6m-132.8-9.1v11.6m14.5-19.8v15.8m-2.6-10.9v16.1m55-15.3v10.3m81.8-7.8v5.8m-103.6-10.8v19.8m-37.3-13.1v14m155.1-16.1v6.2m37.6-8.4v6.3m48.5-8.2v11.7m-47.9-6.4v5.6m-93.7-15v19.9m-30.4-15.2v9m-60.4-9.9v16.1m287-17.8v17.3m-67.7-11.5v8.8m20-5.5v2.2" marker-start="url(#hK)" marker-mid="url(#hK)" marker-end="url(#hK)"/><path d="M176.1 295.3m-137.7 1.9m85.3-2.9m36 7.1m98.9-6.9m-223.6-.1m98.2-4m-67.2 5.6m97.1 1.5m-82.4-.2m15.6-2.1m-50.9 1.5m48.5-4.4m108 4m150.7-6.9m-129.8 6.1m-35.5 .9m77.8-4.8m-28.5 4.9m-150.1-6.2m-34.5 6.1m294.5-4.8m-49.3 6.1m-20.8-1.3m-97.1-4.1m176.3 3.9m-174.9 .3m-122-6.4m31.5 7.3m64.1-1.3m42.9-4.8m-47.1 2.7m194.9-.1m-60.2 1.5m-122.2 .2m-35.4 3.3m-53-4.2m33.2-.7m65.1-.5m-19.1 2m-6.6-1.9m135.1 1.9m-184.9-1.5m156.9-.4m39.5 .8m-27.6-1.3m-12.4 2.7m-216-.2m199.7-1.8m-98.2-10.2m-54.5 3.4m262.2 12.3m-71.3-5.6m-93.8-1.7m167.5 4.4m-301.9 3.2m244.9-3.7m43.5-4.5m-264-.4m260.6-3.1m-153 8.4m98.4 .4m-120-.6m-41.5-5.4m2.9 3.5m205.7-3.5m-216.8 2.5m183.1 2.5m-239.5 2m187.8-1.8m-160.2 .5m197.5 3.1m-233.4 6.5m54.1-14.2m38-1m163.3 8.8m-43.5-5.3m-59.4 1m46.7 1.3m-9.4-.7m26 .3m-183-.4m160.6-2.3m23 3.3m22.5 3.6m-183.5-8.1m136.1 3m-108.7 5m33.5-2.7m15.7-2.1m-96.2 11.3m256.5-14.9m-154 3.8m-63.8 4.4m-85.2-4.5m256.7-.5m-91.1-.3m2.9-.2m-97.2-6.3m11.3 3m-79.4 .9m249.7 3m51.9 4.2m-147-1.2m-52.4-3.1m-44.1-5.6m254 5.8m-127.8-.1m-54.8 3.7m-132.8-.5m14.5-6.1m-2.6 5m55-2m81.8 .2m-103.6 2m-37.3 3.8m155.1-6m37.6-2.2m48.5 .9m-47.9 2.2m-93.7-2.3m-30.4-.7m-60.4 2.7m287-1.2m-67.7 1.6m20 0" marker-start="url(#cK)" marker-mid="url(#cK)" marker-end="url(#cK)"/><path stroke="#ff0000" d="M84 280.3v21.4m145.2-11.8v6.3m-162.4-20.4v31.8m-26.3-21.9v15m179.8-11.7v8.2m-82.4-17.2v21.5m5.5-19v19.7m125.6-14.4v14.8m-126.7-18v22.4m97.1-23.4v14.4m-194.6-19.4v23m1-14.2v16.3m188.5-12.8v8.3m62-19.3v19.1m-210-9v19.3m-52.3-29.4v17.3m16.5-15v31.1m90.3-27.2v15.8m24.9-10.2v10.2m84.8-13.1v13.4m-22.6-14.4v10.7m15.4-6.8v7.5m-139.2-2v18.4m140.6-26.1v10.6m-202.5-17.3v19m246.3-9.1v3.8m4.6-9.3v14.1m28.9-21.1v17.1m-55.5-3.5v7.7m-106.4-14.6v14.4m18-17.1v11.8m101.2-10.4v13.7m-198.8-14.1v23m122.8-13.9v8m-162.5-21v20.9m17.7-23.1v29.9m57.7-14.2v15.3m28.5-20.5v10.3m-94.1-6.9v13.6m188.6-20.7v11.9m-78.1-7.2v10.8m92.1-10v10.6m-193.7-24.1v24.4m92-12.2v10.6m-55.8-13v14.8m145.6-16.9v12.1m-164.9-13v27.1m244.1-27.8v17m-53.3-15.3v13.2m-126-15.6v17.2m-37.3-18.7v17.5m228.3-27.8v25.5m-194.1-15.7v20.4m-55-21.6v19.9m82.5-6.2v13.6m127.5-18.3v12.4m-234.1-10.1v37m-15.5-30v22.7m60.6-39.9v31.5m-46.3-29.6v28.2m206.4-18.4v8.8m-113.1-10.2v9.7m89.6-11.1v9.9m-17-11.9v15.4m-187.9-17.6v23.8m34.5-22.8v17m185.9-16.9v11.6m-141.8-11v21.8m-32.8-13.4v16.3m100.2-22.6v8m25-6.2v7.8m-132.9-21.9v19.2m-41.7-8.8v19.3m319.4-12.1v21m-105.7-23v9.8m69.1-9.4v13.4m-182.4-15.3v22.2m15.5-18v9.3m69.6-11.2v14.3m-72.2-27.7v20m187.3-20.8v24.9m-19.5-19.1v16.6m-118.2-10v12.3m1.8-12.1v13.6m160.6-25.1v20.7m-288.8-17v21.1m36.5-17.1v24.3m83.1-19.6v8.6m91.9-14.8v10m-147-11.5v35.6m189.3-41.1v25.3m-289.2-16.4v29.5m222.1-33v16.1m-31.8-10.7v10.4m21.6-11.9v14.8m-115-17.2v22m166.2-17.2v14.2m58.9-34.7v26.5m-75.7-13.9v12.6m-68.2-9.6v13.8m-61.6-10.9v11.8m-76.8-16.1v16.1m114.4-8.5v6.4m-17-8.3v12.2m162.8-22v17.2m-133.2-4.1v11.2m-147.6-15v17.7m194.3-24.2v15.4m-112.2-2.3v19.3m126-29.5v9.1m-58.6-4.3v10.3m-.3-11.1v12.4m-68.3-32.2v24.1m87.9-7v11m-20.6-10v10.7m-148.2-7.2v14.5m29.2-14.7v16.6m182-15.3v12m-166.6-29.4v21.8m172.6-4.7v13.5m-162.6-19.4v17.3m145.2-14.1v9.7m61.1-19.9v22.7m-120.9-16.1v12.2m-34.7-8.1v9.7m-17.2-15.8v16.3m4.4-13.8v20.3m-97.1-27.8v20m200.4-7.2v8.3m-25-12.7v17.5m-127.8-19.9v14m-44.8-16.8v18.5m62.5-15.7v31.3m151-30.5v15.5m-155.2-16v16.7m78.2-15.2v12.2m158.8-3v16.1m-268.5-23.2v25.6m-8.1-30.4v18.9m278.3-16.9v21m-298.6-22.1v23.1m293.5-22.2v15.6m-308-17.9v16.9m5.6-17.3v28.9m1-24.2v22.8m218.8-26v13.2m-204-17.2v28.9m236.4-22.6v7.1m-158.9-13v27m-58.6-17.2v22.7m84.2-21.1v8.3m44.6-5.4v13.5m65.8-29.8v22.5m-16.7-17.4v11.2m20.2-4.6v11.1m-238.7-12.2v23.9m5.9-36.5v24.6m91.4-25v30.1m-51.6-35v20m225.6-10.7v26.5m-12.6-18.9v15m52.7-20.7v22m-306.9-39.7v33.9m-1.9-16.1v16.8m44.9-17.4v20.3m120.8-16.1v10.8m-170.3-24.8v20.5m223.7 0v15.8m-104-22.2v9.4m-19.5-14.3v20.8m94.2-13.9v6.9m105.8-21.6v20.7m-143.8-6.9v13.3m-30-7.3v13.5m-43.5-26.4v33.7m203.5-36.2v17.2m-10.2-7.3v10m-65-11.6v10.1m-148-12.3v16.7m230.2-21.5v19m-277.8-19v22.2m221.2-19.3v16.7m-19.4-6.3v11.5m-57.2-12.3v7.8m107-14.7v24.5m24.6-25.5v15.6m-55.2-12.3v19.6m-162.9-35.3v22.2m53.4-10.4v13.4m69.4-8.4v11.8m93.3-22.5v20.3m-168.7-8v8m-61.5-32.9v28.1m90.2-.9v10m-49.6-26.7v26.3m25.8-18.2v12.8m-116.1-19v26.4m98.4-20.6v19.5m12.8-14.8v9.6m-96.9-13.9v17.8m125.8-21.6v12.1m88.3-10.8v19.7m-87.8-15.8v13.1m170-16.4v15.2m-301.9 .1v15.7m51.1-20.2v25.7m83.5-31.2v9.8m-7.2-10.9v11.8m174.4-17.3v16.7m-174.4-6.5v9.4m2.2-13.3v12.5m-33.6-11v14.5m58.3-17.4v11.7m-151.7-21.2v22.5m15.1-11.5v19.1m-30.6-34.9v25.3m27.3-19.8v21.6m14-18.3v20.9m127.7-12.7v12m-43-6.2v14.8m-128.4-21.1v26.2m24.2-33.9v27.2m36.4-36.4v25.6m66.4-10.2v9.4m-57-18.9v26m-61-19.5v17.7m85.3-33.3v42.3m-90-23.6v16.4m247.6-9.5v1.4m53.5-.6v15.9m-152.9-27.1v10.1m153.8-2.3v14.6m-276-16.4v17.2m11.6-13.2v16.7m128.3-20v9.9m3.4-14.6v16.3m104.5-45.1v32.3m-75.1 3.3v10.8m-5.7-12.7v6.2m-86.4-16.8v14.3m-57.1-16.5v25m33.7-25.9v29.9m-15.8-25.5v24.5m-23.2-22.9v15.5m-40-13.1v25.1m198-21.7v9.8m15.3-8.8v7.8m-183.5-35.1v42.7m44.5-30.7v30.7m-12.9-15.1v25.5m-39.5-26v25.1m250.1-34.1v18.9m-113.2-4.9v12.9m-99.3-29.9v23.8m162.1-9.4v8.5m-119.6-10.5v16.8m111.2-9.6v11.1m-204.2-26.1v24.6m103.4-9.4v12m-58.4-16.8v18.4m-20.8-21.6v27.4m217.5-29.4v18.3m-250.1-18v23.7m289.1-33.3v28.9m-89.6-27.5v13.6m-128.3-4.1v27.5m83.6-24.4v6.5m-49.3-14.3v17.7m63.5-15.6v13.5m-19.1-8.1v10.7m-148-13.4v30.7m241.2-24.7v2.2m-136.5-4.5v8.9m-42.6-20.7v19.3m63.3-13.3v19.9m131.5-25.6v20.2m-129.3-11.6v10.1m-58.4-13.4v16.3m235-18.3v22.7m-59.2-20.1v9.3m-76.2-8v14.2m-132.8-30.2v22.1m80.4-.7v12.4m89.3-11.3v7.4m-148.6-13.3v13.1m3.1-26v20.9m194.1-8.2v19.2m-179-22.5v18.3m204.3-16.7v18.5m-41-12.8v3.5m-80.4-5.2v7.6m-126.4-14.5v19.6" marker-start="url(#hR)" marker-mid="url(#hR)" marker-end="url(#hR)"/><path d="M84 291m145.2 2.1m-162.4-1.4m-26.3 1.5m179.8-.1m-82.4-2.4m5.5 1.6m125.6 2.8m-126.7 .7m97.1-5m-194.6-.7m1 5.5m188.5-.6m62-5.6m-210 10.3m-52.3-11.2m16.5 9.2m90.3-3.7m24.9 2.8m84.8-1.3m-22.6-2.4m15.4 2.4m-139.2 10.9m140.6-11.5m-202.5-2.6m246.3 2.3m4.6-.3m28.9-5.6m-55.5 9m-106.4-3.6m18-4m101.2 2.4m-198.8 4.2m122.8 1.7m-162.5-6.6m17.7 2.2m57.7 8.5m28.5-7.7m-94.1 5m188.6-7.9m-78.1 4.1m92.1 .7m-193.7-6.6m92 5.2m-55.8-.2m145.6-3.4m-164.9 6.6m244.1-5.8m-53.3-.2m-126-.4m-37.3-1.3m228.3-6.4m-194.1 7.3m-55-1.4m82.5 10.5m127.5-5.3m-234.1 14.6m-15.5-.2m60.6-12.8m-46.3 .3m206.4 .1m-113.1-.9m89.6-1.4m-17 .8m-187.9 2m34.5-2.5m185.9-2.4m-141.8 5.6m-32.8 5.6m100.2-10.4m25 1.7m-132.9-8.4m-41.7 10.5m319.4 8.1m-105.7-7.7m69.1 2.2m-182.4 2.4m15.5-2.2m69.6 .7m-72.2-10.6m187.3 1.6m-19.5 1.7m-118.2 4.5m1.8 .9m160.6-8m-288.8 3.8m36.5 5.7m83.1-3.2m91.9-5.5m-147 11.3m189.3-10.7m-289.2 11m222.1-10.1m-31.8 2.6m21.6 .6m-115 1.3m166.2 .8m58.9-14.4m-75.7 5.7m-68.2 3.6m-61.6 2m-76.8-2.3m114.4 2.8m-17 1m162.8-7.3m-133.2 10.1m-147.6-.6m194.3-7.6m-112.2 15m126-15.2m-58.6 5.4m-.3 .2m-68.3-13.9m87.9 10.5m-20.6 .9m-148.2 5.4m29.2 .8m182-1m-166.6-12.5m172.6 12.9m-162.6-3.9m145.2-.6m61.1-3.7m-120.9 1.3m-34.7 2.8m-17.2-2.7m4.4 4.5m-97.1-7.6m200.4 6.8m-25 .3m-127.8-4.3m-44.8-.5m62.5 9.2m151-7.1m-155.2 .2m78.2-.8m158.8 11.1m-268.5-2.3m-8.1-8.1m278.3 3m-298.6-.1m293.5-2.8m-308-1.7m5.6 5.6m1 1.7m218.8-7.9m-204 3.8m236.4-4.7m-158.9 4.1m-58.6 7.6m84.2-5.6m44.6 5.5m65.8-11.8m-16.7-.5m20.2 6.6m-238.7 5.3m5.9-12.3m91.4 2.4m-51.6-10m225.6 12.6m-12.6 1.8m52.7-2.3m-306.9-11.6m-1.9 9.2m44.9 1.1m120.8-.5m-170.3-9.1m223.7 18.1m-104-9.6m-19.5 .7m94.2 .1m105.8-7.9m-143.8 10.1m-30 6.1m-43.5-2.8m203.5-10.7m-10.2 6.3m-65-1.5m-148 1.1m230.2-3.8m-277.8 1.7m221.2 .1m-19.4 7.8m-57.2-2.6m107 1.4m24.6-5.4m-55.2 5.3m-162.9-14.4m53.4 7.4m69.4 4.2m93.3-6.5m-168.7 6.2m-61.5-14.8m90.2 18.1m-49.6-8.6m25.8 1.4m-116.1 .5m98.4 2.4m12.8-.2m-96.9-.2m125.8-6.6m88.3 5.1m-87.8 .6m170-2.3m-301.9 15.5m51.1 .6m83.5-13.5m-7.2-.1m174.4-3m-174.4 6.5m2.2-2.4m-33.6 2.6m58.3-4.3m-151.7-4.1m15.1 9.3m-30.6-12.8m27.3 3.7m14 2.9m127.7 3.8m-43 7.2m-128.4-.6m24.2-7.2m36.4-10m66.4 7.3m-57-1.2m-61 2.3m85.3-3.2m-90 5.7m247.6-.6m53.5 8m-152.9-14m153.8 10m-276-.5m11.6 3.7m128.3-6.7m3.4-1.4m104.5-20.9m-75.1 24.9m-5.7-4.2m-86.4-6.5m-57.1 3.1m33.7 1.6m-15.8 1.6m-23.2-2.8m-40 7.2m198-4.2m15.3 0m-183.5-9.9m44.5 5.9m-12.9 13.1m-39.5-.8m250.1-12m-113.2 11m-99.3-11.6m162.1 6.8m-119.6 2.1m111.2 4.3m-204.2-8.2m103.4 8.9m-58.4-1.6m-20.8 1.3m217.5-6.5m-250.1 3m289.1-7m-89.6-6.3m-128.3 16.5m83.6-7.4m-49.3-2.3m63.5 0m-19.1 4.1m-148 7.3m241.2-8.3m-136.5 1m-42.6-6.5m63.3 6.2m131.5-5.5m-129.3 3.5m-58.4-.1m235 1.2m-59.2-4.2m-76.2 3.8m-132.8-12.1m80.4 16.6m89.3-1.5m-148.6-2.9m3.1-9.1m194.1 11.9m-179-3.8m204.3 1.7m-41-1.7m-80.4 .3m-126.4-.9" marker-start="url(#cR)" marker-mid="url(#cR)" marker-end="url(#cR)"/><path stroke="#0000ff" d="M134.6 290.8v32.3m-61.3-36.6v14.5m-23.2-9v16.3m77.2-53.5v47.2m148.9-11.3v11m-84.2-12.1v9.4m124-24.2v25.6m-118.1-5.4v9.6m138.2-10.2v10.9m-264.5-18.4v24.7m187.2-28.1v17.8m-72.3-16v9.2m67-10.4v17.9m-220.7-12.9v15.6m164.3-13.7v12.8m-155.5-17.3v16.7m166.2-12.7v9.8m11.4-9.2v10.6m57-11v9.1m-160.9-8.7v14m155.9-12.7v12.4m-192.7-17.3v18.8m-39.6-15.3v19.7m213.9-18.2v10.7m-74-12.4v7.8m-32.7-6.2v14.9m-60.2-33.8v23.1m63.4-9.2v7.9m3.1-3v8.9m198.7-12.9v18.9m-132.6-14.1v7.1m68.3-6.2v6.5m-58.1-14.2v11.3m73.1-17.6v20m-104.8-15v12m94-3.7v1.9m-233.1-8.6v17.5m219-13.6v12.8m47.3-19.7v19.6m-38.3-9.8v2.6m-.5-3.6v3.8m7.8-4.3v7.7m-254-14.3v20.2m142.4-17.8v7.5m-124-13.5v20m-17.3-17.9v25.7m128-17.2v6.6m-19-8.4v7.3m-115.7-18v20.9m254.2-7.3v2.6m-218.1-6.2v24.6m-38.5-33.8v16.3m260.4-4.3v7.7m-153.7-18.1v16.6m12.9-7.6v9m-22.5-6v19.2m81.6-26.5v14.6m-113-14.3v14.5m-38-17.3v22.9m75.2-28.9v20.2m-60.2-12.6v18.8m231-12.8v12.4m-190.3-11.7v26.2m236.5-29.4v18.3m-309-22.2v17.4m132.3-13.8v9.4m114.2-7.9v5.1m-169.2-13.9v23.9m11-46.8v49m222.9-24.1v23.3m-117.1-10.6v9.2m54.2-13.4v2.1m-115.3-3.2v8.5m166.8-23.1v21.4m-262.9-5.6v22.2m263.5-29v16.5m-146.9-22.5v18.2m4.2-6v11.8m118-17.2v14.6m-270.9-16.9v23.5m171.2-20.7v15.3m-134.9-9.2v13.6m210.3-24.9v19.4m-126.4-15.2v10.1m29.3-9.9v14.9m-19.2-15.2v16.9m125.6-20.7v19.1m-210.7-12.6v12.4m93.8-6.7v9.1m-44.6-18.6v16.3m115.1-10.9v7.6m-165.5-18.5v16.4m82.3-3.3v6.5m-121.7-7.3v18.8m127-17.9v7.1m-54.9-15v17.1m143.2-25.6v22.4m2.3-23.4v33.8m-181-30.1v19m-47.6-14.2v21.2m205.9-7.4v9.4m-55-17.8v9.1m7-9v14.2m-6.2-12.3v8.3m-71.6-12.3v18.2m227.4-5.3v21.3m-14.3-36.4v23.4m-156.7-22.9v11.6m-121.3-6.2v17.8m159.6-15.3v11.5m-5.7-16.3v10.1m-78.1-12.7v42.4m156.1-34.9v5.1m-116.3-7.9v10.1m186.9-13v19.3m-167.8-16.8v10.8m-117.9-7.7v20.6m-18.5-28.4v19.9m299.6-15v21.7m-182.9-22.3v10.8m-118.7-13.2v16.6m155.6-13.5v9.1m42.6-9.3v11.1m-118.8-29.6v48.3m1.5-47.3v38.7m-88.8-27v17.8m191.9-12.7v11.1m-33.4-6.2v4.9m-145.6-4.1v19.8m71.5-33v31.2m-40.4-29.1v10.2m64-2.3v12m-1.2-17.5v15.9m129.2-23.6v13.4m-232.2 1.6v10.7m257.6-12.9v16.1m-104.6-17.7v9.6m19.1-11v10.6m128.6-3.8v16.6m-76-23.3v13.3m18.2-8.3v2.7m-122.3-11.9v18.2m124.7-29.7v20.7m-86.3-12.6v13.4m-170.6-7v17.5m16.8-32.5v29m-1.5-17.3v26.6m150.7-21.3v11.6m-4.6-15v13.1m-17.9-13v10.3m16.2-3v13.5m8.4-15.4v12.4m112.1-13.8v21.8m-26.1-18.9v2m-24.4-4.7v10.4m-12.1-11.7v12.7m98.7-21.9v21.5m-53.8-11.2v18.2m-256.3-20.5v26m230.2-28.1v7.9m-230.1-12.7v19.3m98.5-10.8v24m98.4-29.3v12.9m92.6-6v22.7m-47.4-19.7v3.1m-252.6-8v37.7m257.7-32.6v1.6m3.1 .4v5.9m-92.1-12.6v8.2m-156.5-8.2v10.7m11-20.7v24m-1.7-8.3v22.2m141.1-25.5v8.2m157.3-5.4v20.6m-68.3-21.3v3.4m-171.5-13.5v20.9m142.6-15.4v14.8m15.2-11.8v11.5m-167.2-16v19.7m183.2-15v3.7m54.3-12v23.5m-259.9-17.7v21.9m234.5-22.6v11.1m-50-9v8.2m-66.9-15.7v19.7m119.4-19.3v19.1m-37-13.9v10.6m-84.4-12.3v19.8m-72.7-20.9v22.3m98.5-14.8v6.3m-189.6-15.5v17.5m1.2-20.1v23.8m119.3-19.3v13.7m34.7-12.9v9.3m90.4-3v9.1m-45.7-15.9v8.5m-17.6-5.9v6.7m36.2-6.2v9.6m100.2-15.2v16.9m-303-6.9v20.7m239.1-21.8v8.6m-82.7-14.7v7.1m113.1-3.7v13.5m-272.7-18v17.1m222.9-15.6v11.9m-212.8-19.9v23.3m144.1-22.4v19.7m-24-12.3v10m91.1-9.2v8m83.1-12.2v18.1m-221.4-23.5v18.7m103.3-10.7v9.9m45.5-5.1v8.9m-23.7-11.6v8.1m-68.8-2.3v8.7m9.9-9.6v9.4m-138.5-8.1v25.4m-17.6-30.4v33.6m223.8-34.4v14.3m-16.6-14.4v11.8m96.9-8.3v12.5m-226.9-20.5v18.1m-62-21.2v29.8m170.9-16.4v7.5m-58.5-15.2v15.8m91.8-12.9v12.7m9.6-14.8v24.1m-42.2-23.3v11.4m-72.9-13v11.7m-16.8-7.7v16.5m-79.3-33.2v21.5m57.7-11v25.9m151.9-26.7v9.7m72.4 2.6v9.6m-110.2-27v17.2m-55.1-5.7v6.8m-2.7-6v7.2m122.4-8.5v11.7m-47.3-8.2v10.3m-118-23.8v41m-85.8-27.6v18.8m30.1-41.4v22.7m257.3-13.2v18.4m-220.9-16.9v18.6m179.5-6.8v5.2m4.3-7.3v5.2m-91.6-15.3v13.9m83.9-4v4.9m-225.9-14.9v23.5m138.8-17.8v12m-66-22.3v36.6m196.3-26.3v13.3m-165.1-15.9v10m126-5.1v4.9m-217.8-2.3v14.7m222.4-17v6.1m-1.5-2.6v1.8m-92.5-4v6.9m-65.3-13.7v27.9m-73.9-31.5v20.9m288.1-22v27.9m-40-34.3v27.1m-21.5-7.3v3.7m-179.1-7.1v23.8m191-26.5v16.8m-81.6-12.7v12.5m-43.5-15.1v11m-81.1-6.8v17.5m150.2-16.7v7.1m-148.4-21.3v16.5m177.6-9.8v24.2m-61.9-23.2v9.7m-155.2-9.2v16.6m-11.2-23.1v15.5m10.4-5.2v15.5m-7.3-30.1v25.9m97.2-18.9v20.9m-3-23.7v17.7m-100.5-24.1v24.8m262.9-14.7v14.5m30.7-9.2v19.8m-230.7-25.7v25.3m56.9-17.3v7.6m-75.3-38.2v28.9m91.6 4.3v6.5m-59.6-17.5v22.9m138.8-16.1v9.7m-10.9-9.4v8.3m-59.9-12.9v9.2m108.2-8.4v8.7m-157.7-14.8v26.6m34.9-17.1v11.5m29.6-14.4v13.6m62-14.3v9.4m-5.6-6.2v6.9m-134.3-11.2v16.1m225.2-14v10m-106.7-11.8v9.6m-112.6-12v40.2m2.9-40.9v26.4m224-24.2v19.1m-305.9-24.1v23.2m168-9.2v6m103.7-8.3v22.7m14.5-34v16.7m-259.1-13.3v18.4m-21.3-20.8v17.2" marker-start="url(#hB)" marker-mid="url(#hB)" marker-end="url(#hB)"/><path d="M134.6 307m-61.3-13.3m-23.2 6.5m77.2-21.8m148.9 17.8m-84.2-1.9m124-6.7m-118.1 12.2m138.2 0m-264.5-.6m187.2-6.8m-72.3-2.5m67 3.1m-220.7 3.9m164.3 .5m-155.5-2.6m166.2 .6m11.4 1m57-1.2m-160.9 2.9m155.9 .5m-192.7-1.7m-39.6 4m213.9-3.1m-74-3.1m-32.7 5.1m-60.2-14.7m63.4 6.2m3.1 5.5m198.7 .9m-132.6-1m68.3 .5m-58.1-5.3m73.1-1.9m-104.8 1m94 3.2m-233.1 1.2m219 1.5m47.3-3.5m-38.3 1.3m-.5-.3m7.8 1.4m-254-.4m142.4-4m-124 .3m-17.3 4.9m128-.9m-19-1.5m-115.7-3.9m254.2 4.4m-218.1 7.4m-38.5-13.3m260.4 7.6m-153.7-6m12.9 5.3m-22.5 8m81.6-9.5m-113 .3m-38 1.3m75.2-7.3m-60.2 6.9m231 2.8m-190.3 7.6m236.5-7.2m-309-4.3m132.3-.4m114.2-.6m-169.2 .5m11-10.3m222.9 12.1m-117.1 5.6m54.2-7.8m-115.3 2.2m166.8-8.2m-262.9 16.2m263.5-9.6m-146.9-5.2m4.2 9m118-4m-270.9 2.2m171.2-1.3m-134.9 5.2m210.3-8.5m-126.4-.4m29.3 2.7m-19.2 .7m125.6-2.8m-210.7 3.3m93.8 4m-44.6-6m115.1 1.1m-165.5-6.5m82.3 8.2m-121.7 5.3m127-5m-54.9-2.8m143.2-5.9m2.3 4.7m-181-3.7m-47.6 5.8m205.9 8m-55-8.6m7 2.7m-6.2-1m-71.6 .9m227.4 14.5m-14.3-14.1m-156.7-5.4m-121.3 8.5m159.6-.7m-5.7-5.5m-78.1 13.6m156.1-11.1m-116.3-.4m186.9 1.7m-167.8-1.7m-117.9 8m-18.5-8.2m299.6 5.8m-182.9-6m-118.7 .5m155.6-.6m42.6 .7m-118.8 .2m1.5-3.9m-88.8 1.3m191.9 1.8m-33.4 1.8m-145.6 8.2m71.5-7.5m-40.4-8.4m64 8.8m-1.2-3.6m129.2-9m-232.2 13.8m257.6 .5m-104.6-4.9m19.1-.9m128.6 9.8m-76-8.3m18.2-.3m-122.3-1.5m124.7-10.2m-86.3 4.4m-170.6 8.5m16.8-9.3m-1.5 10.5m150.7-2.3m-4.6-2.5m-17.9-1.3m16.2 8.8m8.4-2.4m112.1 3.2m-26.1-6.9m-24.4 1.5m-12.1-.2m98.7-4.8m-53.8 8.7m-256.3 1.6m230.2-11.2m-230.1 1m98.5 10.8m98.4-10.9m92.6 11.9m-47.4-6.9m-252.6 12.4m257.7-12.9m3.1 4.2m-92.1-5.6m-156.5 1.3m11-3.4m-1.7 14.8m141.1-10.3m157.3 9m-68.3-9.3m-171.5-1.4m142.6 2.5m15.2 1.3m-167.2-.3m183.2-3.3m54.3 1.5m-259.9 5.1m234.5-6.2m-50 .7m-66.9-1.7m119.4 0m-37 1m-84.4 3m-72.7 .1m98.5-.6m-189.6-3.5m1.2 .5m119.3-.6m34.7-1.4m90.4 6.3m-45.7-7.2m-17.6 1.7m36.2 2m100.2-1.9m-303 11.8m239.1-7.1m-82.7-6.9m113.1 6.7m-272.7-2.8m222.9-1m-212.8-2.4m144.1-.9m-24 2.6m91.1-.3m83.1 1m-221.4-5.1m103.3 3.5m45.5 4.3m-23.7-3m-68.8 6m9.9-.5m-138.5 9.3m-17.6-.9m223.8-10.4m-16.6-1.4m96.9 3.8m-226.9-5.2m-62 2.8m170.9 2.2m-58.5-3.5m91.8 1.4m9.6 3.5m-42.2-5.5m-72.9-1.5m-16.8 6.5m-79.3-14.2m57.7 12.6m151.9-8.8m72.4 12.2m-110.2-13.7m-55.1 6.4m-2.7 1m122.4 1m-47.3 2.8m-118 1.8m-85.8 2.3m30.1-20.7m257.3 7.3m-220.9 1.7m179.5 5.1m4.3-2.1m-91.6-5.8m83.9 5.5m-225.9-.7m138.8-.1m-66 1.9m196.3-1.2m-165.1-4.4m126 2.4m-217.8 7.5m222.4-6.5m-1.5 1.3m-92.5 .4m-65.3 3.6m-73.9-7m288.1 2.4m-40-6.9m-21.5 8.1m-179.1 6.7m191-6.2m-81.6 1.9m-43.5-3.3m-81.1 7.4m150.2-4.4m-148.4-9.4m177.6 10.5m-61.9-6.2m-155.2 3.8m-11.2-7m10.4 10.3m-7.3-9.4m97.2 4.5m-3-4.4m-100.5-2.8m262.9 5m30.7 7.9m-230.7-3.2m56.9-.8m-75.3-19.9m91.6 22m-59.6-2.8m138.8 .1m-10.9-.4m-59.9-4.1m108.2 .5m-157.7 2.9m34.9 1.9m29.6-1.8m62-2.9m-5.6 2m-134.3 .4m225.2-1m-106.7-2m-112.6 12.9m2.9-7.6m224-1.4m-305.9-3m168 5.4m103.7 6m14.5-14.3m-259.1 4.3m-21.3-3" marker-start="url(#cB)" marker-mid="url(#cB)" marker-end="url(#cB)"/><path stroke="#10a010" d="M87.1 289.5v14.2m-41.6-14v10.8m73.6-18.5v23.1m162.3-19v15.6m-31.4-15.9v12.9m-153.6-14.3v17.8m109.4-11.5v9.2m-106.9-4.7v22.1m-7.2-31.9v12.6m-25.2-23.3v22m6-14.2v20.5m118.7-14.4v10.3m-78.1-11v18.3m66.8-10v6.8m41.5-9.8v7.2m128.7-12.9v21.7m-211.5-24.9v13.9m160.9-17.9v17.5m-18.5-11.1v14.2m-43-11v8.8m-167.7-6.1v17.5m122.3-19.9v11.5m95.1-7.9v4.2m-110.7-5.4v7.9m76.1-9.6v11.3m-100.1-14.9v9.4m-56.5-10.4v15.8m61.2-13.7v10m-50.7-19.1v24.6m21.9-26.1v26.4m-47.2-25v26.9m15.3-17.4v18.5m172-18.8v17.9m-130.6-14.9v25.2m20.4-22.6v12.3m37.4-17.8v7.7m126.4-7.2v14.2m15.4-17.6v15m-58.7-10.6v10.4m-208.7-11.1v28.8m94.6-25.2v8.5m-64.3-21.3v17.8m108.6-6.8v8.4m-173.5-16.7v22.7m179.8-12.6v14.1m61.9-9.9v8.8m-182.7-24v22.7m-37.4-17.7v13.4m159.2-12.8v9.2m-37.9-3.1v6m48.8-13v14.5m-131.3-11.9v9.3m47.5-11.8v10m-94-13v14.6m131.9-7.8v10m-143.1-25.2v25.9m218.9-10.2v10.8m5.5-21.3v14.3m-45.4-10.5v15.5m46.8-10.5v14.3m-172.3-21.9v18.2m-1.9-15.1v26.6m96.3-17v10.4m126.5-9.1v22.2m-119.2-31.3v11.5m30.1-7.6v7.3m-81.6-2.1v16.1m-63.1-16.7v20.9m88.1-25.7v11.1m187.2-16.6v25.1m-274.9-23v14.7m114.9-9.5v7.6m50.8-8.3v9.4m-7.1-8.2v8.6m-144.5-23.1v15.2m-26.1-14v14m88.6-2.9v8.6m168.4-12v13.4m9.2-18.4v20.8m-219.9-29.2v25.4m158.6-3.6v9m-4.7-33.6v30.6m-213.8-14.2v23m215.8-34.9v31.8m-31.5-14.5v6.7m-70.9-6.4v9.3m51.6-11.3v14.8m-186.5-9.3v20.6m56.6-30.3v19.6m92-14v8.9m-88.7-15.8v20m-57.3-20.3v24.5m168.5-17.3v6.6m137-8.5v16.2m-274.5-29v35.6m103.9-21.4v7.5m-34.9-14.1v17.5m159.7-14v14.9m-44.7-14.4v11.8m-169.6-29.7v19.9m112.9 2.8v9.4m47.5-19.5v13.2m-93.1-5.3v11.9m1.9-16v10.2m108.1-12.3v11.7m-150.4-19.6v20.7m141.2-4.5v8.7m-211.7-17.1v14.8m181.9-8.5v10.2m-95.6-11.6v16.9m82.7-24v14.8m-66-18.1v22.3m204.7-6.4v12.2m-173.3-15.5v13.5m116.4-11.5v4.8m8-16v23.5m-191.9-21.8v25.5m160-20.5v8.6m-56.3-.5v13.2m-64.7-16.5v13.2m-57.1-24.4v23m109.2-13.1v7.2m-163.8-24.4v18.1m37.7-9.6v15.6m69.6-12.6v13.7m-62-14v23.1m31.6-21.7v15.6m150.1-16.4v10.6m-120.6-7v18.6m146.2-15.5v4.7m-51.3-7.7v7.5m-165.4-5.5v17.4m122.4-20.4v9.1m-40.6-8.7v10.9m35.6-9.2v6.6m42.1-11.6v9m-123.2-7v15.6m101.6-11.5v8.4m-75.2-11.2v26.7m-52.9-31.2v15.9m270.8-11.2v19m1.8-28.1v17.4m-264.4-19.2v25.7m114.4-14.4v7.9m-38.8-14v7.9m-59.2-6.5v16.8m-28.9-11.2v22.8m49.8-39.5v24.7m-18.1-17.7v29.5m-38.2-26.5v13.9m23.5-21.4v32.3m52.2-29.9v15.8m54.2-7.7v8.8m82.1-6.8v8m77.3-13.7v13.6m-176.2-8.2v6.6m-79.7-6.3v19m211.5-19.2v16.6m-39.1-17.8v9.5m-200.5-11.7v19.4m95.6-16.8v9.7m-39.4-14.9v25.6m51-13.1v9.6m6.6-19.4v10.4m-75.4-23.9v23.5m29.3-11.7v16.1m-99.4-10.6v19.3m12.8-12.7v24.1m226.7-30.1v11.3m-196-15.5v12.8m48.6-22.7v22.9m137.1-25.6v26.9m-87-5.4v8.6m-113.6-17v18.2m-10.1-17.6v22.6m88.8-19.7v14.1m32.7-9.9v9.6m176.4-19.9v16.9m-92.2-37.5v35.1m-98.4-9.7v9m104.9-5.5v13.1m48.5-22v18.4m-223.7-16.7v16.5m-46.6-15.4v21.1m126.9-20.9v7.8m-55.6-8.6v24.6m-26.6-22v20.4m42.9-48.6v27.7m43.5 1.8v9.1m-47.3-12.2v14m-9-13.7v37.1m-12.1-45.5v23m13-19v12.8m195.7-12.4v17.2m-134.4-9.2v8.3m-39.9-12.5v10.4m15.8-6.9v8m95.3-6.4v8.8m-208.2-11.9v20.8m210-18.6v8.4m14.4-7.7v9.6m-170.4-22.5v17.7m139-4.9v6.2m108.8-1v13.3m-107.2-20.5v9.5m-177-17.9v33.5m36.3-34.1v21.6m-8-14.9v14m251-17.4v18.8m-217.7-11.9v16m46.6-16v9.9m-55-10.5v29.6m-42.8-32.6v14.8m67-16.3v11.8m-48.7-17.6v22.3m44.6-17.8v15.5m147.2-8.6v5.3m-69.9-7.7v7.9m-138.6-1.1v19.3m243.3-35.6v15.5m-15.9-10.2v10m-208.3-6.4v19.1m141.4-13.8v10.5m24.9-14.1v11.4m-26.9-12.6v8.2m-44.6-7.9v4.5m-104.4-2v14.6m210.6-16.3v12.1m-220.8-15.4v13.7m141.3-13.6v8.4m83.9-10.1v11.5m-99.5-8.1v6.5m56.5-9.8v12.4m-110.2-4.1v6.7m174.9-17.2v16.8m-257.2-12.8v15.2m236-16.9v15.7m-195.9-16.5v15.5m96.9-12v7.8m-85.5-12.7v17.1m80.9-8.8v5.6m-140.2-21.4v15.2m113.3-9.6v10.6m-103.4-8.1v38.2m198.1-38.4v9m-188.8-13.1v25.9m127.5-10v9.7m-3.4-11.4v7.8m20.6-11.6v7.4m48.9-13.5v11.1m-179.9-12.3v22.1m169.2-17.2v12.7m-21-13.7v9.7m-120.4-9.5v26m129.2-20.9v6m-135.8-21.6v31.8m84.6-16.6v5.6m-140.7-8.3v11.9m40.1-13.2v19.2m-22.7-20.4v15.5m192.8-9.7v7.4m-165.2-4v18.1m-54-26.4v15.1m57.9-15.4v15.9m-65.1-15v18.1m250.5-11.2v4.6m-131.5-6v7.9m-42-15.7v17.5m104.7-13.4v7.5m16.4-3.1v10.5m-130.2-25.7v18.2m246.1-10.5v22.8m-251.8-24.4v14.4m199.2-10.8v18.2m23-26.7v14.7m-81.9-3v9.1m-202.6-16.6v18.5m273.2-12.3v19.4m-175.6-27v29.9m-14.7-30.9v19m124.1-12.6v12.5m-23.7-10.7v10.2m127.2-19v22.5m-259.7-17.7v15.1m126.9-13.2v11.3m-55-15.3v12.5m-48.4-18v25.4m242.8-21v15.3m-149.7-6.4v11.4m57.2-13.3v7.2m60.3-6.3v16.1m-53.5-18.2v5.7m-54.3-2.6v11.1m114.2-20.8v25.1m-227.6-14.5v17.3m145.1-22.6v7.3m-142.8-9v15.6m237-17.6v16m-255-7.9v26.3m22.6-37.3v28.6m126.2-20.3v12.5m-5.6-10.5v10m-144.1-10.9v16.5m93.3-17.2v9.7m-77.4-8.6v11.5m-8.2-26.5v25.5m-8.3-14.4v14.2m128.2-12.7v14.9m-79.9-22.8v22.9m-53-20.1v15.2m-8.1-1.5v21.1m174.7-27.5v15.8m-169.8-12v19.4m193.3-23.1v27.7m-43.7-26.8v7.4m-70.1-7.9v7.8m-112-19.3v18.9m168.5-2.8v14.8m63.8-23.9v13.6m40.2-9.1v10.7m-112.2-9.6v8.6m-127-30.5v29.8m9.3-10.9v13.6m165.8-11.8v10.3m93-20.8v19.7m-98.8-6.8v11.1m-175.4-21v13.5m118.3-6.6v11.4m6.9-15.4v11.4m-102.7-15.3v19m82.7-8.4v11.8m-112.7-38.3v50.7m51.9-26.6v19m144.9-19.5v10.7m3.6-13.8v9.6m-73-5v5m.9-5.8v7.4m50.9-10.4v9.3m-139-10.5v18.3m-2.8-22.4v12.6m226.3-10.6v14.5m-233.1-12.5v13.1m158.5-10.1v10.2m-170.7-14.4v11.7m116.9-5.2v8.2m-75.3-9.4v18m-51.2-12.5v18.5m280.3-33.9v23.3m-157.2-15.2v7m-99.6-12.7v19.4m137.9-17.5v12.9m-16.3-10.1v8.4m-154.5-12.9v24.5m159-21.7v11.8m3-4.8v7.6m-150.6-15.7v19.2" marker-start="url(#hG)" marker-mid="url(#hG)" marker-end="url(#hG)"/><path d="M87.1 296.6m-41.6-1.6m73.6-1.4m162.3 .3m-31.4-1.6m-153.6 1m109.4 1.9m-106.9 11m-7.2-14.5m-25.2-6m6 7.1m118.7 .9m-78.1 3.4m66.8 2.5m41.5-2.8m128.7 1.6m-211.5-7.1m160.9-2.2m-18.5 4.7m-43 .5m-167.7 7m122.3-5.4m95.1 0m-110.7 .7m76.1 0m-100.1-4.6m-56.5 2.2m61.2-.8m-50.7-1.8m21.9-.6m-47.2 1.6m15.3 5.3m172-.6m-130.6 6.7m20.4-3.9m37.4-7.7m126.4 3.7m15.4-3m-58.7 2m-208.7 8.6m94.6-6.5m-64.3-8.2m108.6 6.4m-173.5-1.2m179.8 5.8m61.9 1.6m-182.7-8.3m-37.4 .3m159.2-1.5m-37.9 4.5m48.8-2.7m-131.3 0m47.5-2.1m-94-.8m131.9 4.5m-143.1-7.2m218.9 8.1m5.5-8.8m-45.4 4.5m46.8 4.3m-172.3-5.6m-1.9 7.3m96.3 1.5m126.5 7.2m-119.2-14.4m30.1 1.8m-81.6 9.5m-63.1 1.9m88.1-9.7m187.2 1.4m-274.9-3.1m114.9 1.6m50.8 .3m-7.1 .8m-144.5-11.2m-26.1 .6m88.6 8.4m168.4-1m9.2-1.3m-219.9-6.1m158.6 13.6m-4.7-13.8m-213.8 12.7m215.8-7.6m-31.5 4.7m-70.9 1.7m51.6 .7m-186.5 8.4m56.6-10.2m92 .2m-88.7-1.3m-57.3 2m168.5-1.8m137 2.9m-274.5-3.1m103.9 .2m-34.9-1.7m159.7 2.2m-44.7-1m-169.6-13.9m112.9 17.5m47.5-8.2m-93.1 7.3m1.9-5m108.1-1.4m-150.4-3.4m141.2 10.3m-211.7-5.4m181.9 4.1m-95.6 1.8m82.7-8.1m-66 .5m204.7 10.8m-173.3-2.6m116.4-2.4m8-1.8m-191.9 2.6m160-3.4m-56.3 10.4m-64.7-3.3m-57.1-6.3m109.2 2m-163.8-11.8m37.7 7.3m69.6 2m-62 4.5m31.6-2.4m150.1-3.3m-120.6 7.5m146.2-3.7m-51.3-1.7m-165.4 7m122.4-7.1m-40.6 1.2m35.6-.4m42.1-3.8m-123.2 5.3m101.6 .5m-75.2 6.3m-52.9-9.9m270.8 6.3m1.8-9.9m-264.4 2.3m114.4 2.5m-38.8-6.1m-59.2 5.8m-28.9 8.6m49.8-15.7m-18.1 9.3m-38.2-4.8m23.5 1.8m52.2-5.9m54.2 4.7m82.1 1.5m77.3-2.9m-176.2 1.9m-79.7 6.5m211.5-1.4m-39.1-4.7m-200.5 2.7m95.6-2.2m-39.4 2.7m51 4.5m6.6-9.4m-75.4-7m29.3 8.1m-99.4 7.1m12.8 9m226.7-12.3m-196-3.5m48.6-4.9m137.1-.6m-87 12.3m-113.6-3.6m-10.1 2.8m88.8-1.4m32.7 2.1m176.4-6.7m-92.2-11.5m-98.4 12.3m104.9 5.6m48.5-6.3m-223.7 .7m-46.6 3.5m126.9-6.5m-55.6 7.6m-26.6 .5m42.9-24.6m43.5 20.2m-47.3-.6m-9 11.9m-12.1-15.5m13-1.2m195.7 2.7m-134.4 3.6m-39.9-3.2m15.8 2.3m95.3 2m-208.2 2.9m210-4m14.4 1.3m-170.4-8.8m139 7m108.8 8.8m-107.2-9.2m-177 3.6m36.3-6.5m-8 2.9m251-1m-217.7 5.5m46.6-3.1m-55 9.3m-42.8-10.4m67-2.9m-48.7-.6m44.6 1.1m147.2 1.7m-69.9-1.1m-138.6 12.6m243.3-18.3m-15.9 2.6m-208.3 8.2m141.4 1m24.9-3.2m-26.9-2.8m-44.6-1.5m-104.4 7.5m210.6-3m-220.8-2.4m141.3-2.6m83.9-.1m-99.5 .8m56.5-.3m-110.2 5.4m174.9-5.4m-257.2 3.2m236-1.4m-195.9-.9m96.9-.4m-85.5-.3m80.9 2.6m-140.2-11m113.3 3.3m-103.4 16.3m198.1-14.8m-188.8 4.3m127.5 7.8m-3.4-2.6m20.6-4m48.9-4.3m-179.9 4.4m169.2 .1m-21-2.5m-120.4 8.4m129.2-4.9m-135.8-2.8m84.6 2.2m-140.7 .4m40.1 2.4m-22.7-3m192.8 1.7m-165.2 8.7m-54-9.8m57.9 .1m-65.1 2m250.5 .2m-131.5 .3m-42-3.1m104.7-.8m16.4 5.9m-130.2-11.4m246.1 10m-251.8-5.8m199.2 5.5m23-10.2m-81.9 8.8m-202.6-2.8m273.2 6.7m-175.6-2.4m-14.7-6.4m124.1 3.2m-23.7 .6m127.2-2.6m-259.7 1m126.9 0m-55-3.3m-48.4 .9m242.8-.7m-149.7 7m57.2-4m60.3 5.4m-53.5-7.3m-54.3 5.8m114.2-2.8m-227.6 6.7m145.1-10.2m-142.8 2.4m237-1.8m-255 13.2m22.6-9.8m126.2 .3m-5.6 .7m-144.1 2.3m93.3-4.1m-77.4 2m-8.2-7.9m-8.3 5.4m128.2 1.8m-79.9-3.9m-53-1.1m-8.1 16.8m174.7-9.1m-169.8 5.6m193.3 .4m-43.7-9.2m-70.1-.3m-112-6m168.5 14.1m63.8-9.6m40.2 3m-112.2 0m-127-11.2m9.3 10.7m165.8 .1m93-5.8m-98.8 8.7m-175.4-8.7m118.3 5.7m6.9-3.9m-102.7-.1m82.7 7m-112.7-7.1m51.9 8.3m144.9-4.6m3.6-3.7m-73 2.3m.9 .4m50.9-2m-139 3.2m-2.8-6.9m226.3 2.9m-233.1 1.3m158.5 1.6m-170.7-3.5m116.9 4.8m-75.3 3.7m-51.2 5.8m280.3-13.1m-157.2 0m-99.6 .5m137.9-1.3m-16.3 .5m-154.5 3.6m159-3.6m3 4.9m-150.6-2.3" marker-start="url(#cG)" marker-mid="url(#cG)" marker-end="url(#cG)"/><path stroke="#000000" d="M73 289.5v17.3m188.2-18.1v9.6m-129.6-7.7v9.5m-47.8-8.7v14.4m252.2-17.7v9.6m-85.5-4.4v7.5m-140.7-16.3v11.8m148.1-5v8.6m32.3-5.5v1.6m-199.3-3.8v10.4m-7.1-18.2v18.1m105.6-9.7v7.3m97.9-7.7v5.1m-165.2-2.8v11.1m202.3-19v13.3m-176.7-6.8v7.3m-45.3-10.4v14.1m-16.2-11.9v17m5.2-14.8v10.1m3.5-18.3v15.4m12.5-11.8v9.1m122.8-5.9v6.9m-60-11v9.7m-24.5-8.4v10.7m40.5-8.7v8.8m95-11.7v8.8m-179-8v14.1m-58.9-16.1v15.8m116.8-11.4v7.7m-64.7-13.2v8.9m257.8-7.5v15.9m-47.7-18.1v10.9m-270.8-10.8v13.4m307.5-31v21.8m-211.6-2.9v15.3m-23.4-25.1v20.5m192.8-5.2v9.1m-262.3-19.7v23.7m242.9-25.9v13.9m5.1-1.3v3.3m4.1-.7v1.9m-96.5-3.7v6.6m-82.6-10.7v20.1m127.9-18v6m-186.2-12v14.3m29.7-7.4v11.4m-16.4-12.8v14m-13.5-16.7v11.5m97.8-12v9.3m-83-7.6v20.5m277.5-19.6v14.1m-307.6-19.4v21.5m262.2-11.7v16.6m-130.6-22v5.3m-26.5-.9v10.5m61.4-10.5v4m-98.2-8.4v12.2m68.2-9.7v4.4m-100.7-5.2v12.3m19.1-17.8v12.8m-18.3-13.2v13.6m95.3-10.7v6.4m-29.5-1.4v11.3m84.5-12v6.2m56.8-7.1v7.8m-138.6-14.8v17.3m93.2-7.1v10.4m1.3-12.2v5.8m-78.3-7.7v7.6m78.5-4.1v5.5m34.3-6.3v9m-117.6-12.5v5.4m195.6-1.7v8m-8.5-14v9.7m-240.4-6.4v12.3m191.1-12.8v6.2m-84.8-5.6v9.3m-37.1-14.6v8.6m170.4-2.3v13.3m6.3-10.6v7.6m-143.7-12.4v4.4m-130-9.8v15.9m167.3-5.9v4.9m-200.5-10.1v10.9m103.5-15.4v19.8m73.1-13.7v7m-86.9-12.4v14.4m113.1-9.2v12.4m-104.9-15.7v12.2m3.5-9.9v10m9.4-9.5v6.2m149.4-10.2v7.5m-221.9-6v17.3m84.4-17.8v11.2m-28.6-7.1v11.6m68.5-12.7v7.7m-82.2-5.4v9.7m-1-11v15.8m25.9-25.1v16.3m-104.6-14.4v17.6m270.9-23.2v15.9m-100.4-3.4v8.9m-174.3-5.8v14.9m57.1-28.4v21.8m240.7-6.8v11.2m-112.5-14.4v4.1m90.7-6.9v13.3m-76.3-13.8v8.3m18-3.6v6.6m-54-9.1v6.2m-1.3-5.2v5m-68.7-14.5v20m136-13.2v11.2m82-15.6v16.6m-170.4-8.5v5.1m-145.4-9.4v17.3m58.3-19.5v11.4m226.5-10.9v18.3m-19.9-15.6v8.9m-80.3-7.4v14.9m-40.7-15.6v6.9m-26.7-10.4v9.4m80.7-3.5v6.4m-142.4-15.6v12.8m170.3-5.2v5.7m-123.1-12.4v20.4m141.3-13.7v5.5m11.9-4.6v2.5m11.6-.7v12.9m-28.3-16.6v12m-134.1-12.1v15.8m200.4-14.5v8.2m-2.6-18.7v14.6m-203.6-8.2v11.1" marker-start="url(#hK)" marker-mid="url(#hK)" marker-end="url(#hK)"/><path d="M73 298.2m188.2-4.7m-129.6 1.9m-47.8 3.2m252.2-5.7m-85.5 4.2m-140.7-6.7m148.1 5.2m32.3-.4m-199.3 2.2m-7.1-3.9m105.6 2.9m97.9-1.5m-165.2 5.4m202.3-6.8m-176.7 3.4m-45.3 .3m-16.2 3.7m5.2-1.2m3.5-5.7m12.5 .5m122.8 2.1m-60-2.7m-24.5 1.8m40.5 1m95-2.8m-179 3.5m-58.9-1.2m116.8 .4m-64.7-5m257.8 5m-47.7-4.7m-270.8 1.3m307.5-13.4m-211.6 15.7m-23.4-7.2m192.8 9.5m-262.3-3.2m242.9-7.1m5.1 7.2m4.1 2m-96.5 .5m-82.6 2.6m127.9-4.9m-186.2-1.9m29.7 5.5m-16.4 0m-13.5-4.1m97.8-1.6m-83 7.4m277.5-2.3m-307.6-1.6m262.2 7.3m-130.6-11.1m-26.5 7m61.4-3.2m-98.2-.3m68.2-1.4m-100.7 3.1m19.1-5.2m-18.3 0m95.3-.7m-29.5 7.5m84.5-3.4m56.8 0m-138.6-2.3m93.2 6.8m1.3-4.1m-78.3-1m78.5 2.4m34.3 1m-117.6-5.3m195.6 5m-8.5-5.2m-240.4 4.7m191.1-3.6m-84.8 2.1m-37.1-5.6m170.4 8.7m6.3-.1m-143.7-6.5m-130 .3m167.3 4.5m-200.5-2.2m103.5 0m73.1-.3m-86.9-1.7m113.1 4.2m-104.9-3.4m3.5 1.2m9.4-1.4m149.4-3.3m-221.9 6.3m84.4-3.5m-28.6 4.3m68.5-3m-82.2 3.2m-1 1.8m25.9-9.1m-104.6 2.6m270.9-6.4m-100.4 9m-174.3 6.1m57.1-10.1m240.7 9.7m-112.5-6.8m90.7 1.9m-76.3-3.1m18 3.9m-54-2.8m-1.3 .5m-68.7-2m136 2.5m82-1.8m-170.4 2.3m-145.4 1.8m58.3-5.1m226.5 3.9m-19.9-2m-80.3 4.6m-40.7-4.7m-26.7-2.3m80.7 4.4m-142.4-6m170.3 4.1m-123.1 .6m141.3-.7m11.9-.7m11.6 7.1m-28.3-4.2m-134.1 1.8m200.4-2.5m-2.6-7.3m-203.6 4.7" marker-start="url(#cK)" marker-mid="url(#cK)" marker-end="url(#cK)"/></g><g fill="none" stroke="#888" stroke-width="1.6"><rect x="33" y="2" width="323.3" height="257"/><rect x="33" y="264.5" width="323.3" height="61.7"/></g><path d="M57.6 2v5.5M57.6 259v-5.5M57.6 264.5v5.5M57.6 326.2v-5.5M82.6 2v3M82.6 259v-3M82.6 264.5v3M82.6 326.2v-3M107.6 2v3M107.6 259v-3M107.6 264.5v3M107.6 326.2v-3M132.6 2v3M132.6 259v-3M132.6 264.5v3M132.6 326.2v-3M157.6 2v3M157.6 259v-3M157.6 264.5v3M157.6 326.2v-3M182.6 2v5.5M182.6 259v-5.5M182.6 264.5v5.5M182.6 326.2v-5.5M207.6 2v3M207.6 259v-3M207.6 264.5v3M207.6 326.2v-3M232.6 2v3M232.6 259v-3M232.6 264.5v3M232.6 326.2v-3M257.6 2v3M257.6 259v-3M257.6 264.5v3M257.6 326.2v-3M282.6 2v3M282.6 259v-3M282.6 264.5v3M282.6 326.2v-3M307.6 2v5.5M307.6 259v-5.5M307.6 264.5v5.5M307.6 326.2v-5.5M332.6 2v3M332.6 259v-3M332.6 264.5v3M332.6 326.2v-3M33 15.2h3M356.3 15.2h-3M33 28.8h3M356.3 28.8h-3M33 42.3h3M356.3 42.3h-3M33 55.9h3M356.3 55.9h-3M33 69.5h5.5M356.3 69.5h-5.5M33 83.1h3M356.3 83.1h-3M33 96.7h3M356.3 96.7h-3M33 110.2h3M356.3 110.2h-3M33 123.8h3M356.3 123.8h-3M33 137.4h5.5M356.3 137.4h-5.5M33 151h3M356.3 151h-3M33 164.6h3M356.3 164.6h-3M33 178.1h3M356.3 178.1h-3M33 191.7h3M356.3 191.7h-3M33 205.3h5.5M356.3 205.3h-5.5M33 218.9h3M356.3 218.9h-3M33 232.5h3M356.3 232.5h-3M33 246h3M356.3 246h-3M33 326.2h5.5M356.3 326.2h-5.5M33 322.3h3M356.3 322.3h-3M33 318.5h3M356.3 318.5h-3M33 314.6h3M356.3 314.6h-3M33 310.8h5.5M356.3 310.8h-5.5M33 306.9h3M356.3 306.9h-3M33 303.1h3M356.3 303.1h-3M33 299.2h3M356.3 299.2h-3M33 295.4h5.5M356.3 295.4h-5.5M33 291.5h3M356.3 291.5h-3M33 287.6h3M356.3 287.6h-3M33 283.8h3M356.3 283.8h-3M33 279.9h5.5M356.3 279.9h-5.5M33 276.1h3M356.3 276.1h-3M33 272.2h3M356.3 272.2h-3M33 268.4h3M356.3 268.4h-3M33 264.5h5.5M356.3 264.5h-5.5" stroke="#555" stroke-width="1.1" fill="none"/><text x="9.5" y="5.9" font-size="9" font-family="Liberation Sans, sans-serif" fill="#000" textLength="16.5" lengthAdjust="spacingAndGlyphs"  stroke="#000" stroke-width=".25">17.5</text><text x="19.3" y="74.2" font-size="9" font-family="Liberation Sans, sans-serif" fill="#000" textLength="9" lengthAdjust="spacingAndGlyphs"  stroke="#000" stroke-width=".25">18</text><text x="9.5" y="141.8" font-size="9" font-family="Liberation Sans, sans-serif" fill="#000" textLength="16.5" lengthAdjust="spacingAndGlyphs"  stroke="#000" stroke-width=".25">18.5</text><text x="19.3" y="209.8" font-size="9" font-family="Liberation Sans, sans-serif" fill="#000" textLength="9" lengthAdjust="spacingAndGlyphs"  stroke="#000" stroke-width=".25">19</text><text x="13.8" y="269" font-size="9" font-family="Liberation Sans, sans-serif" fill="#000" textLength="12.4" lengthAdjust="spacingAndGlyphs"  stroke="#000" stroke-width=".25">0.4</text><text x="13.8" y="284" font-size="9" font-family="Liberation Sans, sans-serif" fill="#000" textLength="12.4" lengthAdjust="spacingAndGlyphs"  stroke="#000" stroke-width=".25">0.2</text><text x="23.6" y="299.9" font-size="9" font-family="Liberation Sans, sans-serif" fill="#000" textLength="4.5" lengthAdjust="spacingAndGlyphs"  stroke="#000" stroke-width=".25">0</text><text x="9.8" y="314.9" font-size="9" font-family="Liberation Sans, sans-serif" fill="#000" textLength="14.3" lengthAdjust="spacingAndGlyphs"  stroke="#000" stroke-width=".25">-0.2</text><text x="9.8" y="329.9" font-size="9" font-family="Liberation Sans, sans-serif" fill="#000" textLength="14.3" lengthAdjust="spacingAndGlyphs"  stroke="#000" stroke-width=".25">-0.4</text><text x="47.9" y="339.4" font-size="9" font-family="Liberation Sans, sans-serif" fill="#000" textLength="19.2" lengthAdjust="spacingAndGlyphs"  stroke="#000" stroke-width=".25">8650</text><text x="172.4" y="339.2" font-size="9" font-family="Liberation Sans, sans-serif" fill="#000" textLength="19.8" lengthAdjust="spacingAndGlyphs"  stroke="#000" stroke-width=".25">8700</text><text x="297.1" y="339.5" font-size="9" font-family="Liberation Sans, sans-serif" fill="#000" textLength="20" lengthAdjust="spacingAndGlyphs"  stroke="#000" stroke-width=".25">8750</text><text x="168.8" y="352.3" font-size="9" font-family="Liberation Sans, sans-serif" fill="#000" textLength="52.6" lengthAdjust="spacingAndGlyphs"  stroke="#000" stroke-width=".25">HJD-2450000</text><text transform="translate(6.9,311.7) rotate(-90)" font-size="8" textLength="33.5" lengthAdjust="spacingAndGlyphs" font-family="Liberation Sans, sans-serif">residual</text><text transform="translate(5.5,131.5) rotate(-90)" font-size="9" font-style="italic" font-family="Liberation Serif, serif">I</text><text x="57.4" y="22.5" font-size="8.5" font-family="Liberation Serif, serif" fill="#000" textLength="23.1" lengthAdjust="spacingAndGlyphs" >OGLE</text><text x="57.4" y="33.4" font-size="8.5" font-family="Liberation Serif, serif" fill="#ff0000" textLength="34.9" lengthAdjust="spacingAndGlyphs" >KMTC02</text><text x="57.4" y="44" font-size="8.5" font-family="Liberation Serif, serif" fill="#0000ff" textLength="34.9" lengthAdjust="spacingAndGlyphs" >KMTS02</text><text x="57.4" y="54.5" font-size="8.5" font-family="Liberation Serif, serif" fill="#10a010" textLength="34.9" lengthAdjust="spacingAndGlyphs" >KMTA02</text><text x="157.6" y="22.6" font-size="8.5" font-family="Liberation Serif, serif" fill="#000" textLength="107.1" lengthAdjust="spacingAndGlyphs" >OGLE&#8211;2019&#8211;BLG&#8211;1180/</text><text x="157.6" y="31.8" font-size="8.5" font-family="Liberation Serif, serif" fill="#000" textLength="99.7" lengthAdjust="spacingAndGlyphs" >KMT&#8211;2019&#8211;BLG&#8211;1912</text><text x="137.9" y="49.7" font-size="8.5" font-family="Liberation Serif, serif" fill="#000" textLength="32.9" lengthAdjust="spacingAndGlyphs" >t=8686</text></svg></body></html>
